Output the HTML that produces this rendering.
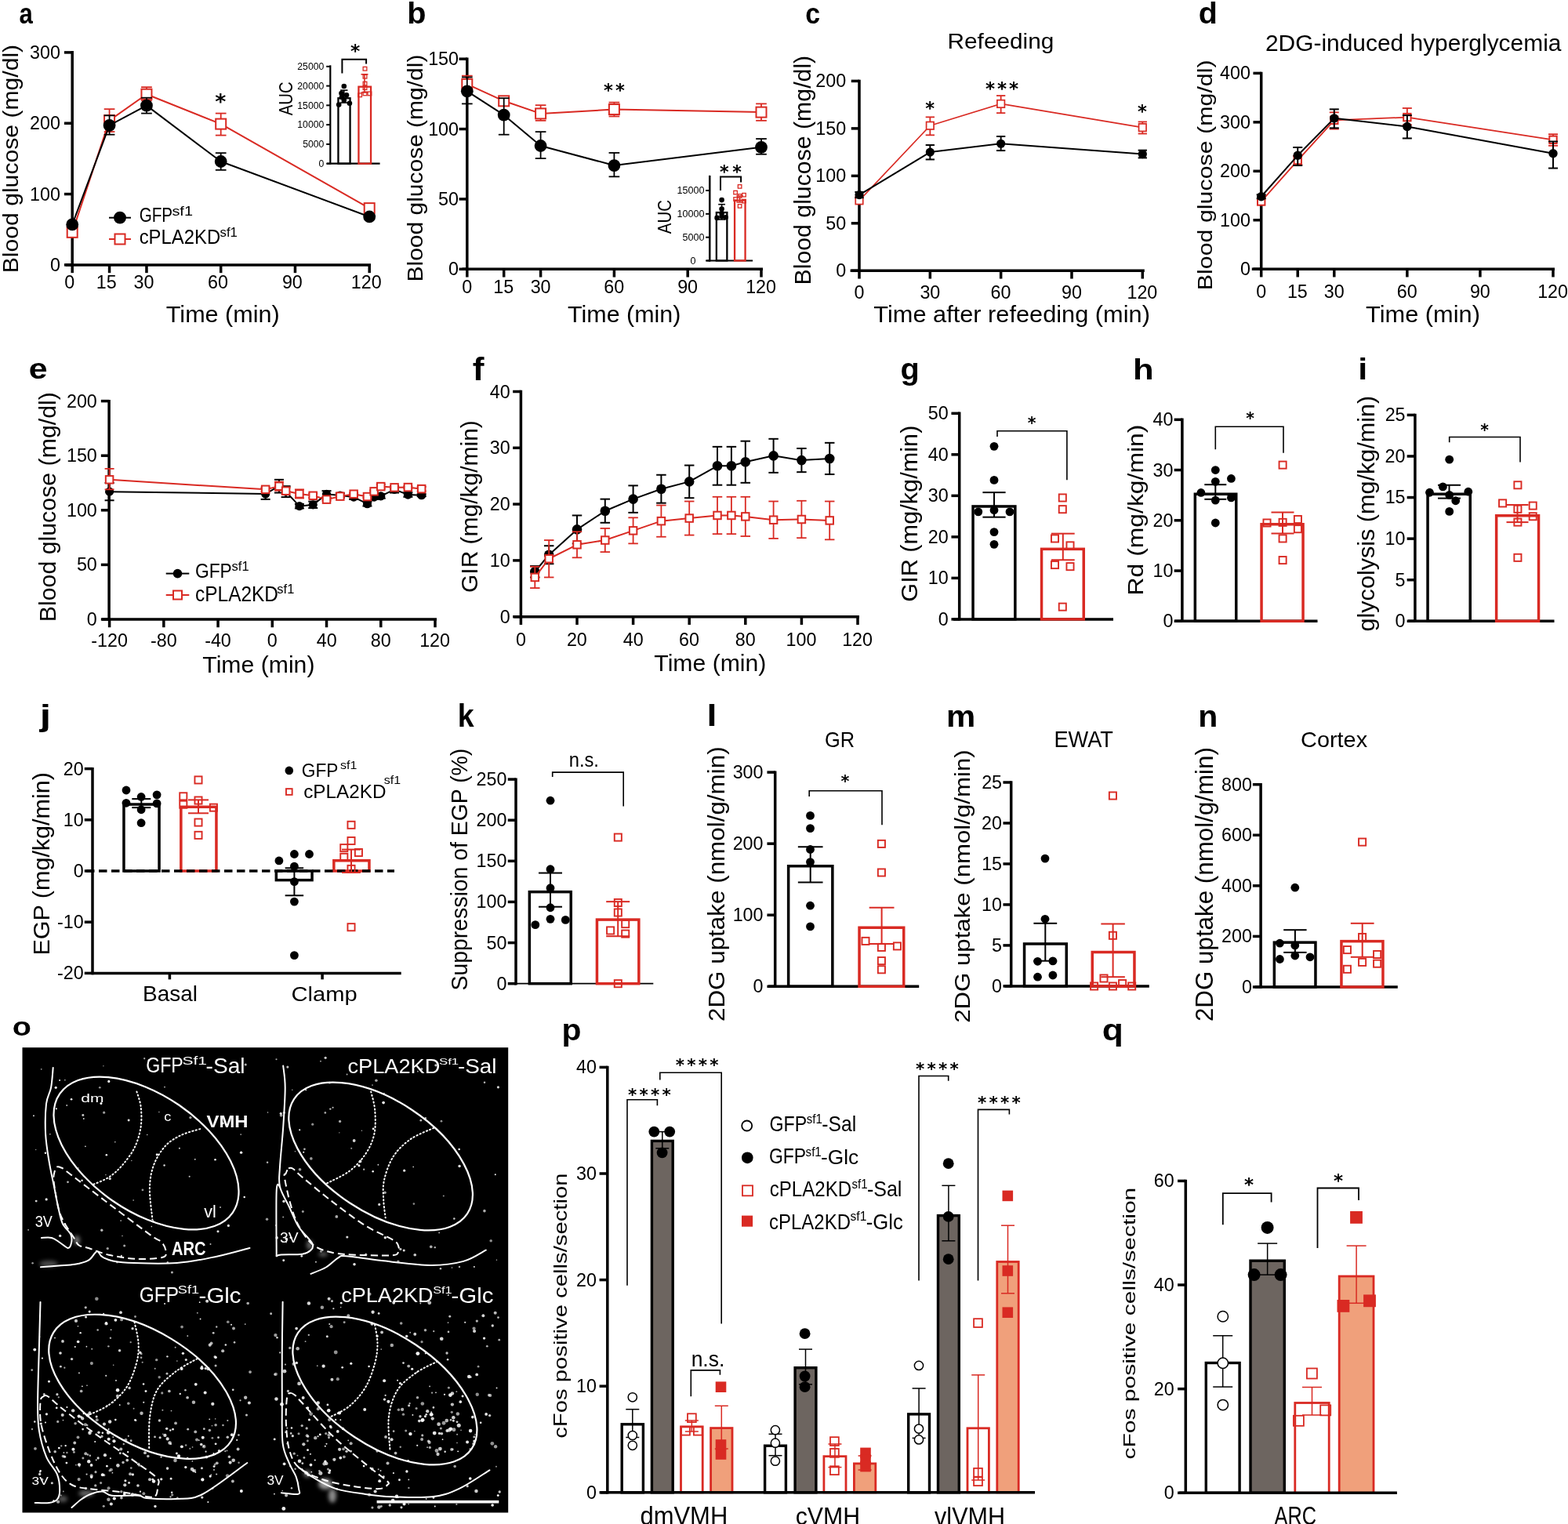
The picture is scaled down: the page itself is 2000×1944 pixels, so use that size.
<!DOCTYPE html>
<html><head><meta charset="utf-8"><title>Figure</title>
<style>html,body{margin:0;padding:0;background:#fff;}svg{display:block;}</style></head>
<body><svg xmlns="http://www.w3.org/2000/svg" width="2000" height="1944" viewBox="0 0 2000 1944">
<defs><filter id="bl" x="-100%" y="-100%" width="300%" height="300%"><feGaussianBlur stdDeviation="2.5"/></filter></defs>
<rect width="2000" height="1944" fill="#fff"/>
<text x="24.59" y="30.24" font-family="'Liberation Sans', Arial, sans-serif" font-size="36.69" font-weight="bold" fill="#000" textLength="17.31" lengthAdjust="spacingAndGlyphs">a</text>
<line x1="92.2" y1="65.1" x2="92.2" y2="339.6" stroke="#000" stroke-width="3.5" stroke-linecap="butt"/>
<line x1="81.95" y1="337.9" x2="92.2" y2="337.9" stroke="#000" stroke-width="3.5" stroke-linecap="butt"/>
<text x="63.95" y="345.92" font-family="'Liberation Sans', Arial, sans-serif" font-size="23.3" fill="#000">0</text>
<line x1="81.95" y1="247.57" x2="92.2" y2="247.57" stroke="#000" stroke-width="3.5" stroke-linecap="butt"/>
<text x="38.04" y="255.59" font-family="'Liberation Sans', Arial, sans-serif" font-size="23.3" fill="#000">100</text>
<line x1="81.95" y1="157.23" x2="92.2" y2="157.23" stroke="#000" stroke-width="3.5" stroke-linecap="butt"/>
<text x="38.04" y="165.25" font-family="'Liberation Sans', Arial, sans-serif" font-size="23.3" fill="#000">200</text>
<line x1="81.95" y1="66.9" x2="92.2" y2="66.9" stroke="#000" stroke-width="3.5" stroke-linecap="butt"/>
<text x="38.04" y="74.92" font-family="'Liberation Sans', Arial, sans-serif" font-size="23.3" fill="#000">300</text>
<line x1="83.8" y1="337.9" x2="473" y2="337.9" stroke="#000" stroke-width="3.5" stroke-linecap="butt"/>
<line x1="92.2" y1="337.9" x2="92.2" y2="348.15" stroke="#000" stroke-width="3.5" stroke-linecap="butt"/>
<text x="82.22" y="368.47" font-family="'Liberation Sans', Arial, sans-serif" font-size="23.3" fill="#000">0</text>
<line x1="139.57" y1="337.9" x2="139.57" y2="348.15" stroke="#000" stroke-width="3.5" stroke-linecap="butt"/>
<text x="122.72" y="368.23" font-family="'Liberation Sans', Arial, sans-serif" font-size="23.3" fill="#000">15</text>
<line x1="186.95" y1="337.9" x2="186.95" y2="348.15" stroke="#000" stroke-width="3.5" stroke-linecap="butt"/>
<text x="170.5" y="368.47" font-family="'Liberation Sans', Arial, sans-serif" font-size="23.3" fill="#000">30</text>
<line x1="281.7" y1="337.9" x2="281.7" y2="348.15" stroke="#000" stroke-width="3.5" stroke-linecap="butt"/>
<text x="265.11" y="368.47" font-family="'Liberation Sans', Arial, sans-serif" font-size="23.3" fill="#000">60</text>
<line x1="376.45" y1="337.9" x2="376.45" y2="348.15" stroke="#000" stroke-width="3.5" stroke-linecap="butt"/>
<text x="359.9" y="368.47" font-family="'Liberation Sans', Arial, sans-serif" font-size="23.3" fill="#000">90</text>
<line x1="471.2" y1="337.9" x2="471.2" y2="348.15" stroke="#000" stroke-width="3.5" stroke-linecap="butt"/>
<text x="447.83" y="368.47" font-family="'Liberation Sans', Arial, sans-serif" font-size="23.3" fill="#000">120</text>
<line x1="139.57" y1="168.07" x2="139.57" y2="139.17" stroke="#d92a23" stroke-width="1.8" stroke-linecap="butt"/>
<line x1="132.72" y1="168.07" x2="146.42" y2="168.07" stroke="#d92a23" stroke-width="1.8" stroke-linecap="butt"/>
<line x1="132.72" y1="139.17" x2="146.42" y2="139.17" stroke="#d92a23" stroke-width="1.8" stroke-linecap="butt"/>
<line x1="186.95" y1="128.33" x2="186.95" y2="111.16" stroke="#d92a23" stroke-width="1.8" stroke-linecap="butt"/>
<line x1="180.1" y1="128.33" x2="193.8" y2="128.33" stroke="#d92a23" stroke-width="1.8" stroke-linecap="butt"/>
<line x1="180.1" y1="111.16" x2="193.8" y2="111.16" stroke="#d92a23" stroke-width="1.8" stroke-linecap="butt"/>
<line x1="281.7" y1="172.59" x2="281.7" y2="144.59" stroke="#d92a23" stroke-width="1.8" stroke-linecap="butt"/>
<line x1="274.85" y1="172.59" x2="288.55" y2="172.59" stroke="#d92a23" stroke-width="1.8" stroke-linecap="butt"/>
<line x1="274.85" y1="144.59" x2="288.55" y2="144.59" stroke="#d92a23" stroke-width="1.8" stroke-linecap="butt"/>
<polyline points="92.2,296.35 139.57,153.62 186.95,120.2 281.7,158.14 471.2,265.63" fill="none" stroke="#d92a23" stroke-width="2" stroke-linejoin="round"/>
<rect x="85.7" y="289.85" width="13" height="13" fill="#fff" stroke="#d92a23" stroke-width="2"/>
<rect x="133.07" y="147.12" width="13" height="13" fill="#fff" stroke="#d92a23" stroke-width="2"/>
<rect x="180.45" y="113.7" width="13" height="13" fill="#fff" stroke="#d92a23" stroke-width="2"/>
<rect x="275.2" y="151.64" width="13" height="13" fill="#fff" stroke="#d92a23" stroke-width="2"/>
<rect x="464.7" y="259.13" width="13" height="13" fill="#fff" stroke="#d92a23" stroke-width="2"/>
<line x1="139.57" y1="171.69" x2="139.57" y2="147.3" stroke="#000" stroke-width="1.8" stroke-linecap="butt"/>
<line x1="132.72" y1="171.69" x2="146.42" y2="171.69" stroke="#000" stroke-width="1.8" stroke-linecap="butt"/>
<line x1="132.72" y1="147.3" x2="146.42" y2="147.3" stroke="#000" stroke-width="1.8" stroke-linecap="butt"/>
<line x1="186.95" y1="144.59" x2="186.95" y2="124.71" stroke="#000" stroke-width="1.8" stroke-linecap="butt"/>
<line x1="180.1" y1="144.59" x2="193.8" y2="144.59" stroke="#000" stroke-width="1.8" stroke-linecap="butt"/>
<line x1="180.1" y1="124.71" x2="193.8" y2="124.71" stroke="#000" stroke-width="1.8" stroke-linecap="butt"/>
<line x1="281.7" y1="216.85" x2="281.7" y2="195.17" stroke="#000" stroke-width="1.8" stroke-linecap="butt"/>
<line x1="274.85" y1="216.85" x2="288.55" y2="216.85" stroke="#000" stroke-width="1.8" stroke-linecap="butt"/>
<line x1="274.85" y1="195.17" x2="288.55" y2="195.17" stroke="#000" stroke-width="1.8" stroke-linecap="butt"/>
<polyline points="92.2,286.41 139.57,159.94 186.95,134.65 281.7,206.01 471.2,276.47" fill="none" stroke="#000" stroke-width="2" stroke-linejoin="round"/>
<circle cx="92.2" cy="286.41" r="7.9" fill="#000" stroke="none" stroke-width="0"/>
<circle cx="139.57" cy="159.94" r="7.9" fill="#000" stroke="none" stroke-width="0"/>
<circle cx="186.95" cy="134.65" r="7.9" fill="#000" stroke="none" stroke-width="0"/>
<circle cx="281.7" cy="206.01" r="7.9" fill="#000" stroke="none" stroke-width="0"/>
<circle cx="471.2" cy="276.47" r="7.9" fill="#000" stroke="none" stroke-width="0"/>
<text x="274.36" y="139.48" font-family="'DejaVu Sans', sans-serif" font-size="26.92" font-weight="bold" fill="#000">*</text>
<text x="211.82" y="411.09" font-family="'Liberation Sans', Arial, sans-serif" font-size="29.52" fill="#000" textLength="144.96" lengthAdjust="spacingAndGlyphs">Time (min)</text>
<text transform="translate(23.43 348.27) rotate(-90)" x="0" y="0" font-family="'Liberation Sans', Arial, sans-serif" font-size="26.82" fill="#000" textLength="291.44" lengthAdjust="spacingAndGlyphs">Blood glucose (mg/dl)</text>
<line x1="139" y1="277.7" x2="167" y2="277.7" stroke="#000" stroke-width="2" stroke-linecap="butt"/>
<circle cx="153" cy="277.7" r="7.9" fill="#000" stroke="none" stroke-width="0"/>
<text x="177.66" y="283.25" font-family="'Liberation Sans', Arial, sans-serif" font-size="25.42" fill="#000" textLength="42.43" lengthAdjust="spacingAndGlyphs">GFP</text>
<text x="219.45" y="274.83" font-family="'Liberation Sans', Arial, sans-serif" font-size="17.04" fill="#000" textLength="26.52" lengthAdjust="spacingAndGlyphs">sf1</text>
<line x1="139" y1="305" x2="167" y2="305" stroke="#d92a23" stroke-width="2" stroke-linecap="butt"/>
<rect x="146.5" y="298.5" width="13" height="13" fill="#fff" stroke="#d92a23" stroke-width="2"/>
<text x="177.69" y="310.74" font-family="'Liberation Sans', Arial, sans-serif" font-size="26.13" fill="#000" textLength="103.46" lengthAdjust="spacingAndGlyphs">cPLA2KD</text>
<text x="280.54" y="302.33" font-family="'Liberation Sans', Arial, sans-serif" font-size="17.04" fill="#000" textLength="22.28" lengthAdjust="spacingAndGlyphs">sf1</text>
<line x1="421.3" y1="83.3" x2="421.3" y2="209.7" stroke="#000" stroke-width="2.2" stroke-linecap="butt"/>
<line x1="416.2" y1="208.7" x2="421.3" y2="208.7" stroke="#000" stroke-width="2" stroke-linecap="butt"/>
<text x="406.49" y="212.9" font-family="'Liberation Sans', Arial, sans-serif" font-size="12.2" fill="#000">0</text>
<line x1="416.2" y1="183.92" x2="421.3" y2="183.92" stroke="#000" stroke-width="2" stroke-linecap="butt"/>
<text x="386.14" y="188.12" font-family="'Liberation Sans', Arial, sans-serif" font-size="12.2" fill="#000">5000</text>
<line x1="416.2" y1="159.14" x2="421.3" y2="159.14" stroke="#000" stroke-width="2" stroke-linecap="butt"/>
<text x="379.35" y="163.34" font-family="'Liberation Sans', Arial, sans-serif" font-size="12.2" fill="#000">10000</text>
<line x1="416.2" y1="134.36" x2="421.3" y2="134.36" stroke="#000" stroke-width="2" stroke-linecap="butt"/>
<text x="379.35" y="138.56" font-family="'Liberation Sans', Arial, sans-serif" font-size="12.2" fill="#000">15000</text>
<line x1="416.2" y1="109.58" x2="421.3" y2="109.58" stroke="#000" stroke-width="2" stroke-linecap="butt"/>
<text x="379.35" y="113.78" font-family="'Liberation Sans', Arial, sans-serif" font-size="12.2" fill="#000">20000</text>
<line x1="416.2" y1="84.8" x2="421.3" y2="84.8" stroke="#000" stroke-width="2" stroke-linecap="butt"/>
<text x="379.35" y="89" font-family="'Liberation Sans', Arial, sans-serif" font-size="12.2" fill="#000">25000</text>
<line x1="417" y1="208.7" x2="484.6" y2="208.7" stroke="#000" stroke-width="2.2" stroke-linecap="butt"/>
<rect x="431.45" y="125.25" width="15.1" height="83.45" fill="none" stroke="#000" stroke-width="2.3"/>
<rect x="457.45" y="110.65" width="15.6" height="98.05" fill="none" stroke="#d92a23" stroke-width="2.3"/>
<line x1="438.8" y1="131" x2="438.8" y2="115.1" stroke="#000" stroke-width="1.6" stroke-linecap="butt"/>
<line x1="434.1" y1="131" x2="443.5" y2="131" stroke="#000" stroke-width="1.6" stroke-linecap="butt"/>
<line x1="434.1" y1="115.1" x2="443.5" y2="115.1" stroke="#000" stroke-width="1.6" stroke-linecap="butt"/>
<line x1="465" y1="118" x2="465" y2="94.8" stroke="#d92a23" stroke-width="1.6" stroke-linecap="butt"/>
<line x1="460.5" y1="118" x2="469.5" y2="118" stroke="#d92a23" stroke-width="1.6" stroke-linecap="butt"/>
<line x1="460.5" y1="94.8" x2="469.5" y2="94.8" stroke="#d92a23" stroke-width="1.6" stroke-linecap="butt"/>
<circle cx="438.8" cy="110" r="3.3" fill="#000" stroke="none" stroke-width="0"/>
<circle cx="435.5" cy="119" r="3.3" fill="#000" stroke="none" stroke-width="0"/>
<circle cx="442" cy="121.3" r="3.3" fill="#000" stroke="none" stroke-width="0"/>
<circle cx="438.8" cy="127.9" r="3.3" fill="#000" stroke="none" stroke-width="0"/>
<circle cx="432.2" cy="133.6" r="3.3" fill="#000" stroke="none" stroke-width="0"/>
<circle cx="445.9" cy="131.7" r="3.3" fill="#000" stroke="none" stroke-width="0"/>
<circle cx="436" cy="124" r="3.3" fill="#000" stroke="none" stroke-width="0"/>
<rect x="463.15" y="85.35" width="4.7" height="4.7" fill="none" stroke="#d92a23" stroke-width="1.3"/>
<rect x="463.15" y="95.35" width="4.7" height="4.7" fill="none" stroke="#d92a23" stroke-width="1.3"/>
<rect x="463.15" y="104.25" width="4.7" height="4.7" fill="none" stroke="#d92a23" stroke-width="1.3"/>
<rect x="456.75" y="118.95" width="4.7" height="4.7" fill="none" stroke="#d92a23" stroke-width="1.3"/>
<rect x="469.05" y="117.05" width="4.7" height="4.7" fill="none" stroke="#d92a23" stroke-width="1.3"/>
<rect x="463.15" y="117.05" width="4.7" height="4.7" fill="none" stroke="#d92a23" stroke-width="1.3"/>
<rect x="463.15" y="109.65" width="4.7" height="4.7" fill="none" stroke="#d92a23" stroke-width="1.3"/>
<polyline points="436.4,93.4 436.4,75.7 467.1,75.7 467.1,81.6" fill="none" stroke="#000" stroke-width="2" stroke-linejoin="miter"/>
<text x="447.06" y="73.02" font-family="'DejaVu Sans', sans-serif" font-size="23.47" font-weight="bold" fill="#000">*</text>
<text transform="translate(372.86 147.34) rotate(-90)" x="0" y="0" font-family="'Liberation Sans', Arial, sans-serif" font-size="24.72" fill="#000" textLength="42.91" lengthAdjust="spacingAndGlyphs">AUC</text>
<text x="519.38" y="30.23" font-family="'Liberation Sans', Arial, sans-serif" font-size="38.26" font-weight="bold" fill="#000" textLength="24.24" lengthAdjust="spacingAndGlyphs">b</text>
<line x1="595.8" y1="73.6" x2="595.8" y2="345" stroke="#000" stroke-width="3.5" stroke-linecap="butt"/>
<line x1="585.55" y1="343.3" x2="595.8" y2="343.3" stroke="#000" stroke-width="3.5" stroke-linecap="butt"/>
<text x="572.05" y="351.32" font-family="'Liberation Sans', Arial, sans-serif" font-size="23.3" fill="#000">0</text>
<line x1="585.55" y1="253.93" x2="595.8" y2="253.93" stroke="#000" stroke-width="3.5" stroke-linecap="butt"/>
<text x="559.09" y="261.95" font-family="'Liberation Sans', Arial, sans-serif" font-size="23.3" fill="#000">50</text>
<line x1="585.55" y1="164.57" x2="595.8" y2="164.57" stroke="#000" stroke-width="3.5" stroke-linecap="butt"/>
<text x="546.14" y="172.59" font-family="'Liberation Sans', Arial, sans-serif" font-size="23.3" fill="#000">100</text>
<line x1="585.55" y1="75.2" x2="595.8" y2="75.2" stroke="#000" stroke-width="3.5" stroke-linecap="butt"/>
<text x="546.14" y="83.22" font-family="'Liberation Sans', Arial, sans-serif" font-size="23.3" fill="#000">150</text>
<line x1="589.5" y1="343.3" x2="973" y2="343.3" stroke="#000" stroke-width="3.5" stroke-linecap="butt"/>
<line x1="595.8" y1="343.3" x2="595.8" y2="353.55" stroke="#000" stroke-width="3.5" stroke-linecap="butt"/>
<text x="589.32" y="373.77" font-family="'Liberation Sans', Arial, sans-serif" font-size="23.3" fill="#000">0</text>
<line x1="642.7" y1="343.3" x2="642.7" y2="353.55" stroke="#000" stroke-width="3.5" stroke-linecap="butt"/>
<text x="629.34" y="373.53" font-family="'Liberation Sans', Arial, sans-serif" font-size="23.3" fill="#000">15</text>
<line x1="689.6" y1="343.3" x2="689.6" y2="353.55" stroke="#000" stroke-width="3.5" stroke-linecap="butt"/>
<text x="676.65" y="373.77" font-family="'Liberation Sans', Arial, sans-serif" font-size="23.3" fill="#000">30</text>
<line x1="783.4" y1="343.3" x2="783.4" y2="353.55" stroke="#000" stroke-width="3.5" stroke-linecap="butt"/>
<text x="770.31" y="373.77" font-family="'Liberation Sans', Arial, sans-serif" font-size="23.3" fill="#000">60</text>
<line x1="877.2" y1="343.3" x2="877.2" y2="353.55" stroke="#000" stroke-width="3.5" stroke-linecap="butt"/>
<text x="864.15" y="373.77" font-family="'Liberation Sans', Arial, sans-serif" font-size="23.3" fill="#000">90</text>
<line x1="971" y1="343.3" x2="971" y2="353.55" stroke="#000" stroke-width="3.5" stroke-linecap="butt"/>
<text x="951.13" y="373.77" font-family="'Liberation Sans', Arial, sans-serif" font-size="23.3" fill="#000">120</text>
<line x1="595.8" y1="116.31" x2="595.8" y2="96.65" stroke="#d92a23" stroke-width="1.8" stroke-linecap="butt"/>
<line x1="588.95" y1="116.31" x2="602.65" y2="116.31" stroke="#d92a23" stroke-width="1.8" stroke-linecap="butt"/>
<line x1="588.95" y1="96.65" x2="602.65" y2="96.65" stroke="#d92a23" stroke-width="1.8" stroke-linecap="butt"/>
<line x1="642.7" y1="134.18" x2="642.7" y2="123.46" stroke="#d92a23" stroke-width="1.8" stroke-linecap="butt"/>
<line x1="635.85" y1="134.18" x2="649.55" y2="134.18" stroke="#d92a23" stroke-width="1.8" stroke-linecap="butt"/>
<line x1="635.85" y1="123.46" x2="649.55" y2="123.46" stroke="#d92a23" stroke-width="1.8" stroke-linecap="butt"/>
<line x1="689.6" y1="153.84" x2="689.6" y2="134.18" stroke="#d92a23" stroke-width="1.8" stroke-linecap="butt"/>
<line x1="682.75" y1="153.84" x2="696.45" y2="153.84" stroke="#d92a23" stroke-width="1.8" stroke-linecap="butt"/>
<line x1="682.75" y1="134.18" x2="696.45" y2="134.18" stroke="#d92a23" stroke-width="1.8" stroke-linecap="butt"/>
<line x1="783.4" y1="148.48" x2="783.4" y2="130.61" stroke="#d92a23" stroke-width="1.8" stroke-linecap="butt"/>
<line x1="776.55" y1="148.48" x2="790.25" y2="148.48" stroke="#d92a23" stroke-width="1.8" stroke-linecap="butt"/>
<line x1="776.55" y1="130.61" x2="790.25" y2="130.61" stroke="#d92a23" stroke-width="1.8" stroke-linecap="butt"/>
<line x1="971" y1="153.84" x2="971" y2="132.39" stroke="#d92a23" stroke-width="1.8" stroke-linecap="butt"/>
<line x1="964.15" y1="153.84" x2="977.85" y2="153.84" stroke="#d92a23" stroke-width="1.8" stroke-linecap="butt"/>
<line x1="964.15" y1="132.39" x2="977.85" y2="132.39" stroke="#d92a23" stroke-width="1.8" stroke-linecap="butt"/>
<polyline points="595.8,107.37 642.7,128.82 689.6,144.91 783.4,139.54 971,143.12" fill="none" stroke="#d92a23" stroke-width="2" stroke-linejoin="round"/>
<rect x="589.3" y="100.87" width="13" height="13" fill="#fff" stroke="#d92a23" stroke-width="2"/>
<rect x="636.2" y="122.32" width="13" height="13" fill="#fff" stroke="#d92a23" stroke-width="2"/>
<rect x="683.1" y="138.41" width="13" height="13" fill="#fff" stroke="#d92a23" stroke-width="2"/>
<rect x="776.9" y="133.04" width="13" height="13" fill="#fff" stroke="#d92a23" stroke-width="2"/>
<rect x="964.5" y="136.62" width="13" height="13" fill="#fff" stroke="#d92a23" stroke-width="2"/>
<line x1="595.8" y1="132.39" x2="595.8" y2="98.44" stroke="#000" stroke-width="1.8" stroke-linecap="butt"/>
<line x1="588.95" y1="132.39" x2="602.65" y2="132.39" stroke="#000" stroke-width="1.8" stroke-linecap="butt"/>
<line x1="588.95" y1="98.44" x2="602.65" y2="98.44" stroke="#000" stroke-width="1.8" stroke-linecap="butt"/>
<line x1="642.7" y1="171.72" x2="642.7" y2="125.25" stroke="#000" stroke-width="1.8" stroke-linecap="butt"/>
<line x1="635.85" y1="171.72" x2="649.55" y2="171.72" stroke="#000" stroke-width="1.8" stroke-linecap="butt"/>
<line x1="635.85" y1="125.25" x2="649.55" y2="125.25" stroke="#000" stroke-width="1.8" stroke-linecap="butt"/>
<line x1="689.6" y1="202.1" x2="689.6" y2="168.14" stroke="#000" stroke-width="1.8" stroke-linecap="butt"/>
<line x1="682.75" y1="202.1" x2="696.45" y2="202.1" stroke="#000" stroke-width="1.8" stroke-linecap="butt"/>
<line x1="682.75" y1="168.14" x2="696.45" y2="168.14" stroke="#000" stroke-width="1.8" stroke-linecap="butt"/>
<line x1="783.4" y1="225.34" x2="783.4" y2="194.95" stroke="#000" stroke-width="1.8" stroke-linecap="butt"/>
<line x1="776.55" y1="225.34" x2="790.25" y2="225.34" stroke="#000" stroke-width="1.8" stroke-linecap="butt"/>
<line x1="776.55" y1="194.95" x2="790.25" y2="194.95" stroke="#000" stroke-width="1.8" stroke-linecap="butt"/>
<line x1="971" y1="196.74" x2="971" y2="177.08" stroke="#000" stroke-width="1.8" stroke-linecap="butt"/>
<line x1="964.15" y1="196.74" x2="977.85" y2="196.74" stroke="#000" stroke-width="1.8" stroke-linecap="butt"/>
<line x1="964.15" y1="177.08" x2="977.85" y2="177.08" stroke="#000" stroke-width="1.8" stroke-linecap="butt"/>
<polyline points="595.8,116.31 642.7,146.69 689.6,186.01 783.4,211.04 971,187.8" fill="none" stroke="#000" stroke-width="2" stroke-linejoin="round"/>
<circle cx="595.8" cy="116.31" r="7.9" fill="#000" stroke="none" stroke-width="0"/>
<circle cx="642.7" cy="146.69" r="7.9" fill="#000" stroke="none" stroke-width="0"/>
<circle cx="689.6" cy="186.01" r="7.9" fill="#000" stroke="none" stroke-width="0"/>
<circle cx="783.4" cy="211.04" r="7.9" fill="#000" stroke="none" stroke-width="0"/>
<circle cx="971" cy="187.8" r="7.9" fill="#000" stroke="none" stroke-width="0"/>
<text x="770.09" y="122.78" font-family="'DejaVu Sans', sans-serif" font-size="22.61" font-weight="bold" fill="#000">*</text>
<text x="785.09" y="122.78" font-family="'DejaVu Sans', sans-serif" font-size="22.61" font-weight="bold" fill="#000">*</text>
<text x="724.12" y="411.09" font-family="'Liberation Sans', Arial, sans-serif" font-size="29.52" fill="#000" textLength="144.25" lengthAdjust="spacingAndGlyphs">Time (min)</text>
<text transform="translate(539.21 359.46) rotate(-90)" x="0" y="0" font-family="'Liberation Sans', Arial, sans-serif" font-size="27.89" fill="#000" textLength="289.82" lengthAdjust="spacingAndGlyphs">Blood glucose (mg/dl)</text>
<line x1="905.2" y1="223.9" x2="905.2" y2="333.5" stroke="#000" stroke-width="2.2" stroke-linecap="butt"/>
<line x1="900.1" y1="302.67" x2="905.2" y2="302.67" stroke="#000" stroke-width="2" stroke-linecap="butt"/>
<text x="870.46" y="307" font-family="'Liberation Sans', Arial, sans-serif" font-size="12.6" fill="#000">5000</text>
<line x1="900.1" y1="272.83" x2="905.2" y2="272.83" stroke="#000" stroke-width="2" stroke-linecap="butt"/>
<text x="863.45" y="277.17" font-family="'Liberation Sans', Arial, sans-serif" font-size="12.6" fill="#000">10000</text>
<line x1="900.1" y1="243" x2="905.2" y2="243" stroke="#000" stroke-width="2" stroke-linecap="butt"/>
<text x="863.45" y="247.34" font-family="'Liberation Sans', Arial, sans-serif" font-size="12.6" fill="#000">15000</text>
<line x1="905.2" y1="223.9" x2="905.2" y2="333.5" stroke="#000" stroke-width="2.2" stroke-linecap="butt"/>
<line x1="900.1" y1="332.5" x2="905.2" y2="332.5" stroke="#000" stroke-width="2" stroke-linecap="butt"/>
<text x="880.48" y="336.84" font-family="'Liberation Sans', Arial, sans-serif" font-size="12.6" fill="#000">0</text>
<line x1="901.3" y1="332.5" x2="960.1" y2="332.5" stroke="#000" stroke-width="2.2" stroke-linecap="butt"/>
<rect x="913.85" y="271.05" width="13.5" height="61.45" fill="none" stroke="#000" stroke-width="2.3"/>
<rect x="937.05" y="255.55" width="13.5" height="76.95" fill="none" stroke="#d92a23" stroke-width="2.3"/>
<line x1="920.6" y1="280" x2="920.6" y2="260.7" stroke="#000" stroke-width="1.6" stroke-linecap="butt"/>
<line x1="916.2" y1="280" x2="925" y2="280" stroke="#000" stroke-width="1.6" stroke-linecap="butt"/>
<line x1="916.2" y1="260.7" x2="925" y2="260.7" stroke="#000" stroke-width="1.6" stroke-linecap="butt"/>
<line x1="943.6" y1="258" x2="943.6" y2="250" stroke="#d92a23" stroke-width="1.6" stroke-linecap="butt"/>
<line x1="939.35" y1="258" x2="947.85" y2="258" stroke="#d92a23" stroke-width="1.6" stroke-linecap="butt"/>
<line x1="939.35" y1="250" x2="947.85" y2="250" stroke="#d92a23" stroke-width="1.6" stroke-linecap="butt"/>
<circle cx="920.6" cy="255.1" r="3.3" fill="#000" stroke="none" stroke-width="0"/>
<circle cx="920.6" cy="266.5" r="3.3" fill="#000" stroke="none" stroke-width="0"/>
<circle cx="920.6" cy="272" r="3.3" fill="#000" stroke="none" stroke-width="0"/>
<circle cx="914.6" cy="277.9" r="3.3" fill="#000" stroke="none" stroke-width="0"/>
<circle cx="925.6" cy="277.2" r="3.3" fill="#000" stroke="none" stroke-width="0"/>
<circle cx="920.6" cy="276" r="3.3" fill="#000" stroke="none" stroke-width="0"/>
<rect x="941.35" y="235.65" width="4.5" height="4.5" fill="none" stroke="#d92a23" stroke-width="1.3"/>
<rect x="935.85" y="243.35" width="4.5" height="4.5" fill="none" stroke="#d92a23" stroke-width="1.3"/>
<rect x="946.75" y="246.45" width="4.5" height="4.5" fill="none" stroke="#d92a23" stroke-width="1.3"/>
<rect x="941.35" y="247.75" width="4.5" height="4.5" fill="none" stroke="#d92a23" stroke-width="1.3"/>
<rect x="935.85" y="251.75" width="4.5" height="4.5" fill="none" stroke="#d92a23" stroke-width="1.3"/>
<rect x="946.75" y="254.35" width="4.5" height="4.5" fill="none" stroke="#d92a23" stroke-width="1.3"/>
<rect x="941.35" y="260.65" width="4.5" height="4.5" fill="none" stroke="#d92a23" stroke-width="1.3"/>
<polyline points="919,243 919,225.4 945.1,225.4 945.1,232.4" fill="none" stroke="#000" stroke-width="2" stroke-linejoin="miter"/>
<text x="918.05" y="227.46" font-family="'DejaVu Sans', sans-serif" font-size="22.18" font-weight="bold" fill="#000">*</text>
<text x="934.15" y="227.46" font-family="'DejaVu Sans', sans-serif" font-size="22.18" font-weight="bold" fill="#000">*</text>
<text transform="translate(855.87 298.24) rotate(-90)" x="0" y="0" font-family="'Liberation Sans', Arial, sans-serif" font-size="23.87" fill="#000" textLength="43.12" lengthAdjust="spacingAndGlyphs">AUC</text>
<text x="1027.18" y="30.24" font-family="'Liberation Sans', Arial, sans-serif" font-size="36.69" font-weight="bold" fill="#000" textLength="18.81" lengthAdjust="spacingAndGlyphs">c</text>
<text x="1208.56" y="61.9" font-family="'Liberation Sans', Arial, sans-serif" font-size="27.46" fill="#000" textLength="135.76" lengthAdjust="spacingAndGlyphs">Refeeding</text>
<line x1="1096" y1="101.7" x2="1096" y2="347" stroke="#000" stroke-width="3.5" stroke-linecap="butt"/>
<line x1="1085.75" y1="345.3" x2="1096" y2="345.3" stroke="#000" stroke-width="3.5" stroke-linecap="butt"/>
<text x="1066.25" y="353.32" font-family="'Liberation Sans', Arial, sans-serif" font-size="23.3" fill="#000">0</text>
<line x1="1085.75" y1="284.82" x2="1096" y2="284.82" stroke="#000" stroke-width="3.5" stroke-linecap="butt"/>
<text x="1053.29" y="292.85" font-family="'Liberation Sans', Arial, sans-serif" font-size="23.3" fill="#000">50</text>
<line x1="1085.75" y1="224.35" x2="1096" y2="224.35" stroke="#000" stroke-width="3.5" stroke-linecap="butt"/>
<text x="1040.34" y="232.37" font-family="'Liberation Sans', Arial, sans-serif" font-size="23.3" fill="#000">100</text>
<line x1="1085.75" y1="163.88" x2="1096" y2="163.88" stroke="#000" stroke-width="3.5" stroke-linecap="butt"/>
<text x="1040.34" y="171.9" font-family="'Liberation Sans', Arial, sans-serif" font-size="23.3" fill="#000">150</text>
<line x1="1085.75" y1="103.4" x2="1096" y2="103.4" stroke="#000" stroke-width="3.5" stroke-linecap="butt"/>
<text x="1040.34" y="111.42" font-family="'Liberation Sans', Arial, sans-serif" font-size="23.3" fill="#000">200</text>
<line x1="1084.6" y1="345.3" x2="1459.8" y2="345.3" stroke="#000" stroke-width="3.5" stroke-linecap="butt"/>
<line x1="1096" y1="345.3" x2="1096" y2="355.55" stroke="#000" stroke-width="3.5" stroke-linecap="butt"/>
<text x="1089.52" y="380.77" font-family="'Liberation Sans', Arial, sans-serif" font-size="23.3" fill="#000">0</text>
<line x1="1186.33" y1="345.3" x2="1186.33" y2="355.55" stroke="#000" stroke-width="3.5" stroke-linecap="butt"/>
<text x="1173.38" y="380.77" font-family="'Liberation Sans', Arial, sans-serif" font-size="23.3" fill="#000">30</text>
<line x1="1276.65" y1="345.3" x2="1276.65" y2="355.55" stroke="#000" stroke-width="3.5" stroke-linecap="butt"/>
<text x="1263.56" y="380.77" font-family="'Liberation Sans', Arial, sans-serif" font-size="23.3" fill="#000">60</text>
<line x1="1366.97" y1="345.3" x2="1366.97" y2="355.55" stroke="#000" stroke-width="3.5" stroke-linecap="butt"/>
<text x="1353.93" y="380.77" font-family="'Liberation Sans', Arial, sans-serif" font-size="23.3" fill="#000">90</text>
<line x1="1457.3" y1="345.3" x2="1457.3" y2="355.55" stroke="#000" stroke-width="3.5" stroke-linecap="butt"/>
<text x="1437.43" y="380.77" font-family="'Liberation Sans', Arial, sans-serif" font-size="23.3" fill="#000">120</text>
<line x1="1186.33" y1="172.34" x2="1186.33" y2="149.36" stroke="#d92a23" stroke-width="1.8" stroke-linecap="butt"/>
<line x1="1180.67" y1="172.34" x2="1191.98" y2="172.34" stroke="#d92a23" stroke-width="1.8" stroke-linecap="butt"/>
<line x1="1180.67" y1="149.36" x2="1191.98" y2="149.36" stroke="#d92a23" stroke-width="1.8" stroke-linecap="butt"/>
<line x1="1276.65" y1="144.16" x2="1276.65" y2="122.03" stroke="#d92a23" stroke-width="1.8" stroke-linecap="butt"/>
<line x1="1271" y1="144.16" x2="1282.3" y2="144.16" stroke="#d92a23" stroke-width="1.8" stroke-linecap="butt"/>
<line x1="1271" y1="122.03" x2="1282.3" y2="122.03" stroke="#d92a23" stroke-width="1.8" stroke-linecap="butt"/>
<line x1="1457.3" y1="170.53" x2="1457.3" y2="155.41" stroke="#d92a23" stroke-width="1.8" stroke-linecap="butt"/>
<line x1="1451.65" y1="170.53" x2="1462.95" y2="170.53" stroke="#d92a23" stroke-width="1.8" stroke-linecap="butt"/>
<line x1="1451.65" y1="155.41" x2="1462.95" y2="155.41" stroke="#d92a23" stroke-width="1.8" stroke-linecap="butt"/>
<polyline points="1096,255.8 1186.33,160.25 1276.65,132.43 1457.3,162.67" fill="none" stroke="#d92a23" stroke-width="1.7" stroke-linejoin="round"/>
<rect x="1091.25" y="251.05" width="9.5" height="9.5" fill="#fff" stroke="#d92a23" stroke-width="1.7"/>
<rect x="1181.58" y="155.5" width="9.5" height="9.5" fill="#fff" stroke="#d92a23" stroke-width="1.7"/>
<rect x="1271.9" y="127.68" width="9.5" height="9.5" fill="#fff" stroke="#d92a23" stroke-width="1.7"/>
<rect x="1452.55" y="157.92" width="9.5" height="9.5" fill="#fff" stroke="#d92a23" stroke-width="1.7"/>
<line x1="1096" y1="252.17" x2="1096" y2="244.91" stroke="#000" stroke-width="2" stroke-linecap="butt"/>
<line x1="1090.35" y1="252.17" x2="1101.65" y2="252.17" stroke="#000" stroke-width="2" stroke-linecap="butt"/>
<line x1="1090.35" y1="244.91" x2="1101.65" y2="244.91" stroke="#000" stroke-width="2" stroke-linecap="butt"/>
<line x1="1186.33" y1="203.43" x2="1186.33" y2="185.04" stroke="#000" stroke-width="2" stroke-linecap="butt"/>
<line x1="1180.67" y1="203.43" x2="1191.98" y2="203.43" stroke="#000" stroke-width="2" stroke-linecap="butt"/>
<line x1="1180.67" y1="185.04" x2="1191.98" y2="185.04" stroke="#000" stroke-width="2" stroke-linecap="butt"/>
<line x1="1276.65" y1="192.06" x2="1276.65" y2="174.03" stroke="#000" stroke-width="2" stroke-linecap="butt"/>
<line x1="1271" y1="192.06" x2="1282.3" y2="192.06" stroke="#000" stroke-width="2" stroke-linecap="butt"/>
<line x1="1271" y1="174.03" x2="1282.3" y2="174.03" stroke="#000" stroke-width="2" stroke-linecap="butt"/>
<line x1="1457.3" y1="201.37" x2="1457.3" y2="191.69" stroke="#000" stroke-width="2" stroke-linecap="butt"/>
<line x1="1451.65" y1="201.37" x2="1462.95" y2="201.37" stroke="#000" stroke-width="2" stroke-linecap="butt"/>
<line x1="1451.65" y1="191.69" x2="1462.95" y2="191.69" stroke="#000" stroke-width="2" stroke-linecap="butt"/>
<polyline points="1096,248.54 1186.33,194.11 1276.65,183.23 1457.3,196.53" fill="none" stroke="#000" stroke-width="2" stroke-linejoin="round"/>
<circle cx="1096" cy="248.54" r="5.6" fill="#000" stroke="none" stroke-width="0"/>
<circle cx="1186.33" cy="194.11" r="5.6" fill="#000" stroke="none" stroke-width="0"/>
<circle cx="1276.65" cy="183.23" r="5.6" fill="#000" stroke="none" stroke-width="0"/>
<circle cx="1457.3" cy="196.53" r="5.6" fill="#000" stroke="none" stroke-width="0"/>
<text x="1180.29" y="145.78" font-family="'DejaVu Sans', sans-serif" font-size="22.61" font-weight="bold" fill="#000">*</text>
<text x="1256.97" y="121.2" font-family="'DejaVu Sans', sans-serif" font-size="23.04" font-weight="bold" fill="#000">*</text>
<text x="1271.97" y="121.2" font-family="'DejaVu Sans', sans-serif" font-size="23.04" font-weight="bold" fill="#000">*</text>
<text x="1286.97" y="121.2" font-family="'DejaVu Sans', sans-serif" font-size="23.04" font-weight="bold" fill="#000">*</text>
<text x="1451.09" y="149.78" font-family="'DejaVu Sans', sans-serif" font-size="22.61" font-weight="bold" fill="#000">*</text>
<text x="1114.31" y="411.08" font-family="'Liberation Sans', Arial, sans-serif" font-size="29.5" fill="#000" textLength="352.59" lengthAdjust="spacingAndGlyphs">Time after refeeding (min)</text>
<text transform="translate(1033.99 363.48) rotate(-90)" x="0" y="0" font-family="'Liberation Sans', Arial, sans-serif" font-size="28.97" fill="#000" textLength="292.66" lengthAdjust="spacingAndGlyphs">Blood glucose (mg/dl)</text>
<text x="1528.78" y="30.13" font-family="'Liberation Sans', Arial, sans-serif" font-size="37.86" font-weight="bold" fill="#000" textLength="24.12" lengthAdjust="spacingAndGlyphs">d</text>
<text x="1613.91" y="65.49" font-family="'Liberation Sans', Arial, sans-serif" font-size="29.93" fill="#000">2DG-induced hyperglycemia</text>
<line x1="1608.7" y1="91.7" x2="1608.7" y2="345" stroke="#000" stroke-width="3.5" stroke-linecap="butt"/>
<line x1="1598.45" y1="343.2" x2="1608.7" y2="343.2" stroke="#000" stroke-width="3.5" stroke-linecap="butt"/>
<text x="1581.95" y="351.22" font-family="'Liberation Sans', Arial, sans-serif" font-size="23.3" fill="#000">0</text>
<line x1="1598.45" y1="280.75" x2="1608.7" y2="280.75" stroke="#000" stroke-width="3.5" stroke-linecap="butt"/>
<text x="1556.04" y="288.77" font-family="'Liberation Sans', Arial, sans-serif" font-size="23.3" fill="#000">100</text>
<line x1="1598.45" y1="218.3" x2="1608.7" y2="218.3" stroke="#000" stroke-width="3.5" stroke-linecap="butt"/>
<text x="1556.04" y="226.32" font-family="'Liberation Sans', Arial, sans-serif" font-size="23.3" fill="#000">200</text>
<line x1="1598.45" y1="155.85" x2="1608.7" y2="155.85" stroke="#000" stroke-width="3.5" stroke-linecap="butt"/>
<text x="1556.04" y="163.87" font-family="'Liberation Sans', Arial, sans-serif" font-size="23.3" fill="#000">300</text>
<line x1="1598.45" y1="93.4" x2="1608.7" y2="93.4" stroke="#000" stroke-width="3.5" stroke-linecap="butt"/>
<text x="1556.04" y="101.42" font-family="'Liberation Sans', Arial, sans-serif" font-size="23.3" fill="#000">400</text>
<line x1="1596.8" y1="343.2" x2="1983" y2="343.2" stroke="#000" stroke-width="3.5" stroke-linecap="butt"/>
<line x1="1608.7" y1="343.2" x2="1608.7" y2="353.45" stroke="#000" stroke-width="3.5" stroke-linecap="butt"/>
<text x="1602.22" y="379.77" font-family="'Liberation Sans', Arial, sans-serif" font-size="23.3" fill="#000">0</text>
<line x1="1655.24" y1="343.2" x2="1655.24" y2="353.45" stroke="#000" stroke-width="3.5" stroke-linecap="butt"/>
<text x="1641.88" y="379.53" font-family="'Liberation Sans', Arial, sans-serif" font-size="23.3" fill="#000">15</text>
<line x1="1701.78" y1="343.2" x2="1701.78" y2="353.45" stroke="#000" stroke-width="3.5" stroke-linecap="butt"/>
<text x="1688.83" y="379.77" font-family="'Liberation Sans', Arial, sans-serif" font-size="23.3" fill="#000">30</text>
<line x1="1794.85" y1="343.2" x2="1794.85" y2="353.45" stroke="#000" stroke-width="3.5" stroke-linecap="butt"/>
<text x="1781.76" y="379.77" font-family="'Liberation Sans', Arial, sans-serif" font-size="23.3" fill="#000">60</text>
<line x1="1887.92" y1="343.2" x2="1887.92" y2="353.45" stroke="#000" stroke-width="3.5" stroke-linecap="butt"/>
<text x="1874.88" y="379.77" font-family="'Liberation Sans', Arial, sans-serif" font-size="23.3" fill="#000">90</text>
<line x1="1981" y1="343.2" x2="1981" y2="353.45" stroke="#000" stroke-width="3.5" stroke-linecap="butt"/>
<text x="1961.13" y="379.77" font-family="'Liberation Sans', Arial, sans-serif" font-size="23.3" fill="#000">120</text>
<line x1="1655.24" y1="210.18" x2="1655.24" y2="198.94" stroke="#d92a23" stroke-width="1.8" stroke-linecap="butt"/>
<line x1="1649.24" y1="210.18" x2="1661.24" y2="210.18" stroke="#d92a23" stroke-width="1.8" stroke-linecap="butt"/>
<line x1="1649.24" y1="198.94" x2="1661.24" y2="198.94" stroke="#d92a23" stroke-width="1.8" stroke-linecap="butt"/>
<line x1="1701.78" y1="164.59" x2="1701.78" y2="143.36" stroke="#d92a23" stroke-width="1.8" stroke-linecap="butt"/>
<line x1="1695.78" y1="164.59" x2="1707.78" y2="164.59" stroke="#d92a23" stroke-width="1.8" stroke-linecap="butt"/>
<line x1="1695.78" y1="143.36" x2="1707.78" y2="143.36" stroke="#d92a23" stroke-width="1.8" stroke-linecap="butt"/>
<line x1="1794.85" y1="159.28" x2="1794.85" y2="137.99" stroke="#d92a23" stroke-width="1.8" stroke-linecap="butt"/>
<line x1="1788.85" y1="159.28" x2="1800.85" y2="159.28" stroke="#d92a23" stroke-width="1.8" stroke-linecap="butt"/>
<line x1="1788.85" y1="137.99" x2="1800.85" y2="137.99" stroke="#d92a23" stroke-width="1.8" stroke-linecap="butt"/>
<line x1="1981" y1="185.83" x2="1981" y2="171.21" stroke="#d92a23" stroke-width="1.8" stroke-linecap="butt"/>
<line x1="1975" y1="185.83" x2="1987" y2="185.83" stroke="#d92a23" stroke-width="1.8" stroke-linecap="butt"/>
<line x1="1975" y1="171.21" x2="1987" y2="171.21" stroke="#d92a23" stroke-width="1.8" stroke-linecap="butt"/>
<polyline points="1608.7,257.02 1655.24,204.56 1701.78,153.35 1794.85,149.6 1981,178.33" fill="none" stroke="#d92a23" stroke-width="1.8" stroke-linejoin="round"/>
<rect x="1604" y="252.32" width="9.4" height="9.4" fill="#fff" stroke="#d92a23" stroke-width="2"/>
<rect x="1650.54" y="199.86" width="9.4" height="9.4" fill="#fff" stroke="#d92a23" stroke-width="2"/>
<rect x="1697.08" y="148.65" width="9.4" height="9.4" fill="#fff" stroke="#d92a23" stroke-width="2"/>
<rect x="1790.15" y="144.91" width="9.4" height="9.4" fill="#fff" stroke="#d92a23" stroke-width="2"/>
<rect x="1976.3" y="173.63" width="9.4" height="9.4" fill="#fff" stroke="#d92a23" stroke-width="2"/>
<line x1="1608.7" y1="253.27" x2="1608.7" y2="248.28" stroke="#000" stroke-width="2" stroke-linecap="butt"/>
<line x1="1602.7" y1="253.27" x2="1614.7" y2="253.27" stroke="#000" stroke-width="2" stroke-linecap="butt"/>
<line x1="1602.7" y1="248.28" x2="1614.7" y2="248.28" stroke="#000" stroke-width="2" stroke-linecap="butt"/>
<line x1="1655.24" y1="211.06" x2="1655.24" y2="188.01" stroke="#000" stroke-width="2" stroke-linecap="butt"/>
<line x1="1649.24" y1="211.06" x2="1661.24" y2="211.06" stroke="#000" stroke-width="2" stroke-linecap="butt"/>
<line x1="1649.24" y1="188.01" x2="1661.24" y2="188.01" stroke="#000" stroke-width="2" stroke-linecap="butt"/>
<line x1="1701.78" y1="163.34" x2="1701.78" y2="139.36" stroke="#000" stroke-width="2" stroke-linecap="butt"/>
<line x1="1695.78" y1="163.34" x2="1707.78" y2="163.34" stroke="#000" stroke-width="2" stroke-linecap="butt"/>
<line x1="1695.78" y1="139.36" x2="1707.78" y2="139.36" stroke="#000" stroke-width="2" stroke-linecap="butt"/>
<line x1="1794.85" y1="176.46" x2="1794.85" y2="147.11" stroke="#000" stroke-width="2" stroke-linecap="butt"/>
<line x1="1788.85" y1="176.46" x2="1800.85" y2="176.46" stroke="#000" stroke-width="2" stroke-linecap="butt"/>
<line x1="1788.85" y1="147.11" x2="1800.85" y2="147.11" stroke="#000" stroke-width="2" stroke-linecap="butt"/>
<line x1="1981" y1="214.55" x2="1981" y2="180.52" stroke="#000" stroke-width="2" stroke-linecap="butt"/>
<line x1="1975" y1="214.55" x2="1987" y2="214.55" stroke="#000" stroke-width="2" stroke-linecap="butt"/>
<line x1="1975" y1="180.52" x2="1987" y2="180.52" stroke="#000" stroke-width="2" stroke-linecap="butt"/>
<polyline points="1608.7,250.77 1655.24,198.32 1701.78,150.85 1794.85,161.47 1981,195.82" fill="none" stroke="#000" stroke-width="2" stroke-linejoin="round"/>
<circle cx="1608.7" cy="250.77" r="5.7" fill="#000" stroke="none" stroke-width="0"/>
<circle cx="1655.24" cy="198.32" r="5.7" fill="#000" stroke="none" stroke-width="0"/>
<circle cx="1701.78" cy="150.85" r="5.7" fill="#000" stroke="none" stroke-width="0"/>
<circle cx="1794.85" cy="161.47" r="5.7" fill="#000" stroke="none" stroke-width="0"/>
<circle cx="1981" cy="195.82" r="5.7" fill="#000" stroke="none" stroke-width="0"/>
<text x="1742.11" y="411" font-family="'Liberation Sans', Arial, sans-serif" font-size="28.98" fill="#000" textLength="145.78" lengthAdjust="spacingAndGlyphs">Time (min)</text>
<text transform="translate(1546.38 370.19) rotate(-90)" x="0" y="0" font-family="'Liberation Sans', Arial, sans-serif" font-size="25.64" fill="#000" textLength="293.78" lengthAdjust="spacingAndGlyphs">Blood glucose (mg/dl)</text>
<text x="36.83" y="482.53" font-family="'Liberation Sans', Arial, sans-serif" font-size="37.78" font-weight="bold" fill="#000" textLength="23.84" lengthAdjust="spacingAndGlyphs">e</text>
<line x1="139.1" y1="510" x2="139.1" y2="791.7" stroke="#000" stroke-width="3.5" stroke-linecap="butt"/>
<line x1="128.85" y1="790" x2="139.1" y2="790" stroke="#000" stroke-width="3.5" stroke-linecap="butt"/>
<text x="110.85" y="798.02" font-family="'Liberation Sans', Arial, sans-serif" font-size="23.3" fill="#000">0</text>
<line x1="128.85" y1="720.4" x2="139.1" y2="720.4" stroke="#000" stroke-width="3.5" stroke-linecap="butt"/>
<text x="97.89" y="728.42" font-family="'Liberation Sans', Arial, sans-serif" font-size="23.3" fill="#000">50</text>
<line x1="128.85" y1="650.8" x2="139.1" y2="650.8" stroke="#000" stroke-width="3.5" stroke-linecap="butt"/>
<text x="84.94" y="658.82" font-family="'Liberation Sans', Arial, sans-serif" font-size="23.3" fill="#000">100</text>
<line x1="128.85" y1="581.2" x2="139.1" y2="581.2" stroke="#000" stroke-width="3.5" stroke-linecap="butt"/>
<text x="84.94" y="589.22" font-family="'Liberation Sans', Arial, sans-serif" font-size="23.3" fill="#000">150</text>
<line x1="128.85" y1="511.6" x2="139.1" y2="511.6" stroke="#000" stroke-width="3.5" stroke-linecap="butt"/>
<text x="84.94" y="519.62" font-family="'Liberation Sans', Arial, sans-serif" font-size="23.3" fill="#000">200</text>
<line x1="130" y1="790" x2="557" y2="790" stroke="#000" stroke-width="3.5" stroke-linecap="butt"/>
<line x1="139.6" y1="790" x2="139.6" y2="800.25" stroke="#000" stroke-width="3.5" stroke-linecap="butt"/>
<text x="116.22" y="824.87" font-family="'Liberation Sans', Arial, sans-serif" font-size="23.3" fill="#000">-120</text>
<line x1="208.83" y1="790" x2="208.83" y2="800.25" stroke="#000" stroke-width="3.5" stroke-linecap="butt"/>
<text x="191.93" y="824.87" font-family="'Liberation Sans', Arial, sans-serif" font-size="23.3" fill="#000">-80</text>
<line x1="278.07" y1="790" x2="278.07" y2="800.25" stroke="#000" stroke-width="3.5" stroke-linecap="butt"/>
<text x="261.17" y="824.87" font-family="'Liberation Sans', Arial, sans-serif" font-size="23.3" fill="#000">-40</text>
<line x1="347.3" y1="790" x2="347.3" y2="800.25" stroke="#000" stroke-width="3.5" stroke-linecap="butt"/>
<text x="340.82" y="824.87" font-family="'Liberation Sans', Arial, sans-serif" font-size="23.3" fill="#000">0</text>
<line x1="416.53" y1="790" x2="416.53" y2="800.25" stroke="#000" stroke-width="3.5" stroke-linecap="butt"/>
<text x="403.76" y="824.87" font-family="'Liberation Sans', Arial, sans-serif" font-size="23.3" fill="#000">40</text>
<line x1="485.77" y1="790" x2="485.77" y2="800.25" stroke="#000" stroke-width="3.5" stroke-linecap="butt"/>
<text x="472.76" y="824.87" font-family="'Liberation Sans', Arial, sans-serif" font-size="23.3" fill="#000">80</text>
<line x1="555" y1="790" x2="555" y2="800.25" stroke="#000" stroke-width="3.5" stroke-linecap="butt"/>
<text x="535.13" y="824.87" font-family="'Liberation Sans', Arial, sans-serif" font-size="23.3" fill="#000">120</text>
<line x1="139.6" y1="638.27" x2="139.6" y2="616" stroke="#000" stroke-width="2" stroke-linecap="butt"/>
<line x1="133.6" y1="638.27" x2="145.6" y2="638.27" stroke="#000" stroke-width="2" stroke-linecap="butt"/>
<line x1="133.6" y1="616" x2="145.6" y2="616" stroke="#000" stroke-width="2" stroke-linecap="butt"/>
<line x1="338.65" y1="636.88" x2="338.65" y2="622.96" stroke="#000" stroke-width="2" stroke-linecap="butt"/>
<line x1="332.65" y1="636.88" x2="344.65" y2="636.88" stroke="#000" stroke-width="2" stroke-linecap="butt"/>
<line x1="332.65" y1="622.96" x2="344.65" y2="622.96" stroke="#000" stroke-width="2" stroke-linecap="butt"/>
<line x1="355.95" y1="628.53" x2="355.95" y2="611.82" stroke="#000" stroke-width="2" stroke-linecap="butt"/>
<line x1="349.95" y1="628.53" x2="361.95" y2="628.53" stroke="#000" stroke-width="2" stroke-linecap="butt"/>
<line x1="349.95" y1="611.82" x2="361.95" y2="611.82" stroke="#000" stroke-width="2" stroke-linecap="butt"/>
<line x1="364.61" y1="634.1" x2="364.61" y2="620.18" stroke="#000" stroke-width="2" stroke-linecap="butt"/>
<line x1="358.61" y1="634.1" x2="370.61" y2="634.1" stroke="#000" stroke-width="2" stroke-linecap="butt"/>
<line x1="358.61" y1="620.18" x2="370.61" y2="620.18" stroke="#000" stroke-width="2" stroke-linecap="butt"/>
<line x1="381.92" y1="648.43" x2="381.92" y2="642.87" stroke="#000" stroke-width="2" stroke-linecap="butt"/>
<line x1="375.92" y1="648.43" x2="387.92" y2="648.43" stroke="#000" stroke-width="2" stroke-linecap="butt"/>
<line x1="375.92" y1="642.87" x2="387.92" y2="642.87" stroke="#000" stroke-width="2" stroke-linecap="butt"/>
<line x1="399.23" y1="648.02" x2="399.23" y2="639.66" stroke="#000" stroke-width="2" stroke-linecap="butt"/>
<line x1="393.23" y1="648.02" x2="405.23" y2="648.02" stroke="#000" stroke-width="2" stroke-linecap="butt"/>
<line x1="393.23" y1="639.66" x2="405.23" y2="639.66" stroke="#000" stroke-width="2" stroke-linecap="butt"/>
<line x1="416.53" y1="634.51" x2="416.53" y2="626.16" stroke="#000" stroke-width="2" stroke-linecap="butt"/>
<line x1="410.53" y1="634.51" x2="422.53" y2="634.51" stroke="#000" stroke-width="2" stroke-linecap="butt"/>
<line x1="410.53" y1="626.16" x2="422.53" y2="626.16" stroke="#000" stroke-width="2" stroke-linecap="butt"/>
<line x1="433.84" y1="634.79" x2="433.84" y2="629.22" stroke="#000" stroke-width="2" stroke-linecap="butt"/>
<line x1="427.84" y1="634.79" x2="439.84" y2="634.79" stroke="#000" stroke-width="2" stroke-linecap="butt"/>
<line x1="427.84" y1="629.22" x2="439.84" y2="629.22" stroke="#000" stroke-width="2" stroke-linecap="butt"/>
<line x1="451.15" y1="636.88" x2="451.15" y2="631.31" stroke="#000" stroke-width="2" stroke-linecap="butt"/>
<line x1="445.15" y1="636.88" x2="457.15" y2="636.88" stroke="#000" stroke-width="2" stroke-linecap="butt"/>
<line x1="445.15" y1="631.31" x2="457.15" y2="631.31" stroke="#000" stroke-width="2" stroke-linecap="butt"/>
<line x1="468.46" y1="645.51" x2="468.46" y2="639.94" stroke="#000" stroke-width="2" stroke-linecap="butt"/>
<line x1="462.46" y1="645.51" x2="474.46" y2="645.51" stroke="#000" stroke-width="2" stroke-linecap="butt"/>
<line x1="462.46" y1="639.94" x2="474.46" y2="639.94" stroke="#000" stroke-width="2" stroke-linecap="butt"/>
<line x1="477.11" y1="636.88" x2="477.11" y2="631.31" stroke="#000" stroke-width="2" stroke-linecap="butt"/>
<line x1="471.11" y1="636.88" x2="483.11" y2="636.88" stroke="#000" stroke-width="2" stroke-linecap="butt"/>
<line x1="471.11" y1="631.31" x2="483.11" y2="631.31" stroke="#000" stroke-width="2" stroke-linecap="butt"/>
<line x1="485.77" y1="635.63" x2="485.77" y2="630.06" stroke="#000" stroke-width="2" stroke-linecap="butt"/>
<line x1="479.77" y1="635.63" x2="491.77" y2="635.63" stroke="#000" stroke-width="2" stroke-linecap="butt"/>
<line x1="479.77" y1="630.06" x2="491.77" y2="630.06" stroke="#000" stroke-width="2" stroke-linecap="butt"/>
<line x1="503.08" y1="628.53" x2="503.08" y2="620.18" stroke="#000" stroke-width="2" stroke-linecap="butt"/>
<line x1="497.08" y1="628.53" x2="509.08" y2="628.53" stroke="#000" stroke-width="2" stroke-linecap="butt"/>
<line x1="497.08" y1="620.18" x2="509.08" y2="620.18" stroke="#000" stroke-width="2" stroke-linecap="butt"/>
<line x1="520.38" y1="633.82" x2="520.38" y2="628.25" stroke="#000" stroke-width="2" stroke-linecap="butt"/>
<line x1="514.38" y1="633.82" x2="526.38" y2="633.82" stroke="#000" stroke-width="2" stroke-linecap="butt"/>
<line x1="514.38" y1="628.25" x2="526.38" y2="628.25" stroke="#000" stroke-width="2" stroke-linecap="butt"/>
<line x1="537.69" y1="633.12" x2="537.69" y2="630.34" stroke="#000" stroke-width="2" stroke-linecap="butt"/>
<line x1="531.69" y1="633.12" x2="543.69" y2="633.12" stroke="#000" stroke-width="2" stroke-linecap="butt"/>
<line x1="531.69" y1="630.34" x2="543.69" y2="630.34" stroke="#000" stroke-width="2" stroke-linecap="butt"/>
<polyline points="139.6,627.14 338.65,629.92 355.95,620.18 364.61,627.14 381.92,645.65 399.23,643.84 416.53,630.34 433.84,632.01 451.15,634.1 468.46,642.73 477.11,634.1 485.77,632.84 503.08,624.35 520.38,631.03 537.69,631.73" fill="none" stroke="#000" stroke-width="2" stroke-linejoin="round"/>
<circle cx="139.6" cy="627.14" r="5.6" fill="#000" stroke="none" stroke-width="0"/>
<circle cx="338.65" cy="629.92" r="5.6" fill="#000" stroke="none" stroke-width="0"/>
<circle cx="355.95" cy="620.18" r="5.6" fill="#000" stroke="none" stroke-width="0"/>
<circle cx="364.61" cy="627.14" r="5.6" fill="#000" stroke="none" stroke-width="0"/>
<circle cx="381.92" cy="645.65" r="5.6" fill="#000" stroke="none" stroke-width="0"/>
<circle cx="399.23" cy="643.84" r="5.6" fill="#000" stroke="none" stroke-width="0"/>
<circle cx="416.53" cy="630.34" r="5.6" fill="#000" stroke="none" stroke-width="0"/>
<circle cx="433.84" cy="632.01" r="5.6" fill="#000" stroke="none" stroke-width="0"/>
<circle cx="451.15" cy="634.1" r="5.6" fill="#000" stroke="none" stroke-width="0"/>
<circle cx="468.46" cy="642.73" r="5.6" fill="#000" stroke="none" stroke-width="0"/>
<circle cx="477.11" cy="634.1" r="5.6" fill="#000" stroke="none" stroke-width="0"/>
<circle cx="485.77" cy="632.84" r="5.6" fill="#000" stroke="none" stroke-width="0"/>
<circle cx="503.08" cy="624.35" r="5.6" fill="#000" stroke="none" stroke-width="0"/>
<circle cx="520.38" cy="631.03" r="5.6" fill="#000" stroke="none" stroke-width="0"/>
<circle cx="537.69" cy="631.73" r="5.6" fill="#000" stroke="none" stroke-width="0"/>
<line x1="139.6" y1="624.35" x2="139.6" y2="597.9" stroke="#d92a23" stroke-width="1.8" stroke-linecap="butt"/>
<line x1="133.6" y1="624.35" x2="145.6" y2="624.35" stroke="#d92a23" stroke-width="1.8" stroke-linecap="butt"/>
<line x1="133.6" y1="597.9" x2="145.6" y2="597.9" stroke="#d92a23" stroke-width="1.8" stroke-linecap="butt"/>
<line x1="338.65" y1="627.14" x2="338.65" y2="621.57" stroke="#d92a23" stroke-width="1.8" stroke-linecap="butt"/>
<line x1="332.65" y1="627.14" x2="344.65" y2="627.14" stroke="#d92a23" stroke-width="1.8" stroke-linecap="butt"/>
<line x1="332.65" y1="621.57" x2="344.65" y2="621.57" stroke="#d92a23" stroke-width="1.8" stroke-linecap="butt"/>
<line x1="355.95" y1="625.74" x2="355.95" y2="614.61" stroke="#d92a23" stroke-width="1.8" stroke-linecap="butt"/>
<line x1="349.95" y1="625.74" x2="361.95" y2="625.74" stroke="#d92a23" stroke-width="1.8" stroke-linecap="butt"/>
<line x1="349.95" y1="614.61" x2="361.95" y2="614.61" stroke="#d92a23" stroke-width="1.8" stroke-linecap="butt"/>
<line x1="364.61" y1="630.34" x2="364.61" y2="621.99" stroke="#d92a23" stroke-width="1.8" stroke-linecap="butt"/>
<line x1="358.61" y1="630.34" x2="370.61" y2="630.34" stroke="#d92a23" stroke-width="1.8" stroke-linecap="butt"/>
<line x1="358.61" y1="621.99" x2="370.61" y2="621.99" stroke="#d92a23" stroke-width="1.8" stroke-linecap="butt"/>
<line x1="381.92" y1="635.49" x2="381.92" y2="624.35" stroke="#d92a23" stroke-width="1.8" stroke-linecap="butt"/>
<line x1="375.92" y1="635.49" x2="387.92" y2="635.49" stroke="#d92a23" stroke-width="1.8" stroke-linecap="butt"/>
<line x1="375.92" y1="624.35" x2="387.92" y2="624.35" stroke="#d92a23" stroke-width="1.8" stroke-linecap="butt"/>
<line x1="399.23" y1="635.07" x2="399.23" y2="629.5" stroke="#d92a23" stroke-width="1.8" stroke-linecap="butt"/>
<line x1="393.23" y1="635.07" x2="405.23" y2="635.07" stroke="#d92a23" stroke-width="1.8" stroke-linecap="butt"/>
<line x1="393.23" y1="629.5" x2="405.23" y2="629.5" stroke="#d92a23" stroke-width="1.8" stroke-linecap="butt"/>
<line x1="416.53" y1="638.55" x2="416.53" y2="635.77" stroke="#d92a23" stroke-width="1.8" stroke-linecap="butt"/>
<line x1="410.53" y1="638.55" x2="422.53" y2="638.55" stroke="#d92a23" stroke-width="1.8" stroke-linecap="butt"/>
<line x1="410.53" y1="635.77" x2="422.53" y2="635.77" stroke="#d92a23" stroke-width="1.8" stroke-linecap="butt"/>
<line x1="433.84" y1="634.51" x2="433.84" y2="631.73" stroke="#d92a23" stroke-width="1.8" stroke-linecap="butt"/>
<line x1="427.84" y1="634.51" x2="439.84" y2="634.51" stroke="#d92a23" stroke-width="1.8" stroke-linecap="butt"/>
<line x1="427.84" y1="631.73" x2="439.84" y2="631.73" stroke="#d92a23" stroke-width="1.8" stroke-linecap="butt"/>
<line x1="451.15" y1="631.59" x2="451.15" y2="628.81" stroke="#d92a23" stroke-width="1.8" stroke-linecap="butt"/>
<line x1="445.15" y1="631.59" x2="457.15" y2="631.59" stroke="#d92a23" stroke-width="1.8" stroke-linecap="butt"/>
<line x1="445.15" y1="628.81" x2="457.15" y2="628.81" stroke="#d92a23" stroke-width="1.8" stroke-linecap="butt"/>
<line x1="468.46" y1="634.93" x2="468.46" y2="632.15" stroke="#d92a23" stroke-width="1.8" stroke-linecap="butt"/>
<line x1="462.46" y1="634.93" x2="474.46" y2="634.93" stroke="#d92a23" stroke-width="1.8" stroke-linecap="butt"/>
<line x1="462.46" y1="632.15" x2="474.46" y2="632.15" stroke="#d92a23" stroke-width="1.8" stroke-linecap="butt"/>
<line x1="477.11" y1="628.25" x2="477.11" y2="625.47" stroke="#d92a23" stroke-width="1.8" stroke-linecap="butt"/>
<line x1="471.11" y1="628.25" x2="483.11" y2="628.25" stroke="#d92a23" stroke-width="1.8" stroke-linecap="butt"/>
<line x1="471.11" y1="625.47" x2="483.11" y2="625.47" stroke="#d92a23" stroke-width="1.8" stroke-linecap="butt"/>
<line x1="485.77" y1="623.38" x2="485.77" y2="617.81" stroke="#d92a23" stroke-width="1.8" stroke-linecap="butt"/>
<line x1="479.77" y1="623.38" x2="491.77" y2="623.38" stroke="#d92a23" stroke-width="1.8" stroke-linecap="butt"/>
<line x1="479.77" y1="617.81" x2="491.77" y2="617.81" stroke="#d92a23" stroke-width="1.8" stroke-linecap="butt"/>
<line x1="503.08" y1="623.24" x2="503.08" y2="620.45" stroke="#d92a23" stroke-width="1.8" stroke-linecap="butt"/>
<line x1="497.08" y1="623.24" x2="509.08" y2="623.24" stroke="#d92a23" stroke-width="1.8" stroke-linecap="butt"/>
<line x1="497.08" y1="620.45" x2="509.08" y2="620.45" stroke="#d92a23" stroke-width="1.8" stroke-linecap="butt"/>
<line x1="520.38" y1="622.96" x2="520.38" y2="620.18" stroke="#d92a23" stroke-width="1.8" stroke-linecap="butt"/>
<line x1="514.38" y1="622.96" x2="526.38" y2="622.96" stroke="#d92a23" stroke-width="1.8" stroke-linecap="butt"/>
<line x1="514.38" y1="620.18" x2="526.38" y2="620.18" stroke="#d92a23" stroke-width="1.8" stroke-linecap="butt"/>
<line x1="537.69" y1="626.44" x2="537.69" y2="620.87" stroke="#d92a23" stroke-width="1.8" stroke-linecap="butt"/>
<line x1="531.69" y1="626.44" x2="543.69" y2="626.44" stroke="#d92a23" stroke-width="1.8" stroke-linecap="butt"/>
<line x1="531.69" y1="620.87" x2="543.69" y2="620.87" stroke="#d92a23" stroke-width="1.8" stroke-linecap="butt"/>
<polyline points="139.6,611.82 338.65,624.35 355.95,620.18 364.61,626.16 381.92,629.92 399.23,632.29 416.53,637.16 433.84,633.12 451.15,630.2 468.46,633.54 477.11,626.86 485.77,620.59 503.08,621.85 520.38,621.57 537.69,623.66" fill="none" stroke="#d92a23" stroke-width="2" stroke-linejoin="round"/>
<rect x="134.85" y="607.07" width="9.5" height="9.5" fill="#fff" stroke="#d92a23" stroke-width="2"/>
<rect x="333.9" y="619.6" width="9.5" height="9.5" fill="#fff" stroke="#d92a23" stroke-width="2"/>
<rect x="351.2" y="615.43" width="9.5" height="9.5" fill="#fff" stroke="#d92a23" stroke-width="2"/>
<rect x="359.86" y="621.41" width="9.5" height="9.5" fill="#fff" stroke="#d92a23" stroke-width="2"/>
<rect x="377.17" y="625.17" width="9.5" height="9.5" fill="#fff" stroke="#d92a23" stroke-width="2"/>
<rect x="394.48" y="627.54" width="9.5" height="9.5" fill="#fff" stroke="#d92a23" stroke-width="2"/>
<rect x="411.78" y="632.41" width="9.5" height="9.5" fill="#fff" stroke="#d92a23" stroke-width="2"/>
<rect x="429.09" y="628.37" width="9.5" height="9.5" fill="#fff" stroke="#d92a23" stroke-width="2"/>
<rect x="446.4" y="625.45" width="9.5" height="9.5" fill="#fff" stroke="#d92a23" stroke-width="2"/>
<rect x="463.71" y="628.79" width="9.5" height="9.5" fill="#fff" stroke="#d92a23" stroke-width="2"/>
<rect x="472.36" y="622.11" width="9.5" height="9.5" fill="#fff" stroke="#d92a23" stroke-width="2"/>
<rect x="481.02" y="615.84" width="9.5" height="9.5" fill="#fff" stroke="#d92a23" stroke-width="2"/>
<rect x="498.33" y="617.1" width="9.5" height="9.5" fill="#fff" stroke="#d92a23" stroke-width="2"/>
<rect x="515.63" y="616.82" width="9.5" height="9.5" fill="#fff" stroke="#d92a23" stroke-width="2"/>
<rect x="532.94" y="618.91" width="9.5" height="9.5" fill="#fff" stroke="#d92a23" stroke-width="2"/>
<text x="258.33" y="857.93" font-family="'Liberation Sans', Arial, sans-serif" font-size="29.3" fill="#000" textLength="143.13" lengthAdjust="spacingAndGlyphs">Time (min)</text>
<text transform="translate(71.06 793.29) rotate(-90)" x="0" y="0" font-family="'Liberation Sans', Arial, sans-serif" font-size="28.64" fill="#000" textLength="293.17" lengthAdjust="spacingAndGlyphs">Blood glucose (mg/dl)</text>
<line x1="211.7" y1="731.6" x2="241.3" y2="731.6" stroke="#000" stroke-width="2" stroke-linecap="butt"/>
<circle cx="226.5" cy="731.6" r="5.8" fill="#000" stroke="none" stroke-width="0"/>
<text x="248.95" y="737.26" font-family="'Liberation Sans', Arial, sans-serif" font-size="25" fill="#000" textLength="46.85" lengthAdjust="spacingAndGlyphs">GFP</text>
<text x="295.54" y="728.44" font-family="'Liberation Sans', Arial, sans-serif" font-size="16.09" fill="#000" textLength="22.07" lengthAdjust="spacingAndGlyphs">sf1</text>
<line x1="211.7" y1="759" x2="241.3" y2="759" stroke="#d92a23" stroke-width="2" stroke-linecap="butt"/>
<rect x="221" y="753.5" width="11" height="11" fill="#fff" stroke="#d92a23" stroke-width="2"/>
<text x="249.06" y="766.84" font-family="'Liberation Sans', Arial, sans-serif" font-size="27.12" fill="#000" textLength="105.91" lengthAdjust="spacingAndGlyphs">cPLA2KD</text>
<text x="353.34" y="756.64" font-family="'Liberation Sans', Arial, sans-serif" font-size="16.09" fill="#000" textLength="21.96" lengthAdjust="spacingAndGlyphs">sf1</text>
<text x="602.74" y="485" font-family="'Liberation Sans', Arial, sans-serif" font-size="40.85" font-weight="bold" fill="#000" textLength="14.77" lengthAdjust="spacingAndGlyphs">f</text>
<line x1="664.4" y1="497.8" x2="664.4" y2="788.4" stroke="#000" stroke-width="3.5" stroke-linecap="butt"/>
<line x1="654.15" y1="786.7" x2="664.4" y2="786.7" stroke="#000" stroke-width="3.5" stroke-linecap="butt"/>
<text x="637.75" y="794.72" font-family="'Liberation Sans', Arial, sans-serif" font-size="23.3" fill="#000">0</text>
<line x1="654.15" y1="714.9" x2="664.4" y2="714.9" stroke="#000" stroke-width="3.5" stroke-linecap="butt"/>
<text x="624.79" y="722.92" font-family="'Liberation Sans', Arial, sans-serif" font-size="23.3" fill="#000">10</text>
<line x1="654.15" y1="643.1" x2="664.4" y2="643.1" stroke="#000" stroke-width="3.5" stroke-linecap="butt"/>
<text x="624.79" y="651.12" font-family="'Liberation Sans', Arial, sans-serif" font-size="23.3" fill="#000">20</text>
<line x1="654.15" y1="571.3" x2="664.4" y2="571.3" stroke="#000" stroke-width="3.5" stroke-linecap="butt"/>
<text x="624.79" y="579.32" font-family="'Liberation Sans', Arial, sans-serif" font-size="23.3" fill="#000">30</text>
<line x1="654.15" y1="499.5" x2="664.4" y2="499.5" stroke="#000" stroke-width="3.5" stroke-linecap="butt"/>
<text x="624.79" y="507.52" font-family="'Liberation Sans', Arial, sans-serif" font-size="23.3" fill="#000">40</text>
<line x1="655.5" y1="786.7" x2="1096" y2="786.7" stroke="#000" stroke-width="3.5" stroke-linecap="butt"/>
<line x1="664.4" y1="786.7" x2="664.4" y2="796.95" stroke="#000" stroke-width="3.5" stroke-linecap="butt"/>
<text x="657.92" y="824.07" font-family="'Liberation Sans', Arial, sans-serif" font-size="23.3" fill="#000">0</text>
<line x1="736" y1="786.7" x2="736" y2="796.95" stroke="#000" stroke-width="3.5" stroke-linecap="butt"/>
<text x="722.91" y="824.07" font-family="'Liberation Sans', Arial, sans-serif" font-size="23.3" fill="#000">20</text>
<line x1="807.6" y1="786.7" x2="807.6" y2="796.95" stroke="#000" stroke-width="3.5" stroke-linecap="butt"/>
<text x="794.83" y="824.07" font-family="'Liberation Sans', Arial, sans-serif" font-size="23.3" fill="#000">40</text>
<line x1="879.2" y1="786.7" x2="879.2" y2="796.95" stroke="#000" stroke-width="3.5" stroke-linecap="butt"/>
<text x="866.11" y="824.07" font-family="'Liberation Sans', Arial, sans-serif" font-size="23.3" fill="#000">60</text>
<line x1="950.8" y1="786.7" x2="950.8" y2="796.95" stroke="#000" stroke-width="3.5" stroke-linecap="butt"/>
<text x="937.79" y="824.07" font-family="'Liberation Sans', Arial, sans-serif" font-size="23.3" fill="#000">80</text>
<line x1="1022.4" y1="786.7" x2="1022.4" y2="796.95" stroke="#000" stroke-width="3.5" stroke-linecap="butt"/>
<text x="1002.53" y="824.07" font-family="'Liberation Sans', Arial, sans-serif" font-size="23.3" fill="#000">100</text>
<line x1="1094" y1="786.7" x2="1094" y2="796.95" stroke="#000" stroke-width="3.5" stroke-linecap="butt"/>
<text x="1074.13" y="824.07" font-family="'Liberation Sans', Arial, sans-serif" font-size="23.3" fill="#000">120</text>
<line x1="682.3" y1="736.44" x2="682.3" y2="722.08" stroke="#000" stroke-width="2" stroke-linecap="butt"/>
<line x1="676.05" y1="736.44" x2="688.55" y2="736.44" stroke="#000" stroke-width="2" stroke-linecap="butt"/>
<line x1="676.05" y1="722.08" x2="688.55" y2="722.08" stroke="#000" stroke-width="2" stroke-linecap="butt"/>
<line x1="700.2" y1="719.21" x2="700.2" y2="696.23" stroke="#000" stroke-width="2" stroke-linecap="butt"/>
<line x1="693.95" y1="719.21" x2="706.45" y2="719.21" stroke="#000" stroke-width="2" stroke-linecap="butt"/>
<line x1="693.95" y1="696.23" x2="706.45" y2="696.23" stroke="#000" stroke-width="2" stroke-linecap="butt"/>
<line x1="736" y1="693.36" x2="736" y2="657.46" stroke="#000" stroke-width="2" stroke-linecap="butt"/>
<line x1="729.75" y1="693.36" x2="742.25" y2="693.36" stroke="#000" stroke-width="2" stroke-linecap="butt"/>
<line x1="729.75" y1="657.46" x2="742.25" y2="657.46" stroke="#000" stroke-width="2" stroke-linecap="butt"/>
<line x1="771.8" y1="666.79" x2="771.8" y2="636.64" stroke="#000" stroke-width="2" stroke-linecap="butt"/>
<line x1="765.55" y1="666.79" x2="778.05" y2="666.79" stroke="#000" stroke-width="2" stroke-linecap="butt"/>
<line x1="765.55" y1="636.64" x2="778.05" y2="636.64" stroke="#000" stroke-width="2" stroke-linecap="butt"/>
<line x1="807.6" y1="653.87" x2="807.6" y2="619.41" stroke="#000" stroke-width="2" stroke-linecap="butt"/>
<line x1="801.35" y1="653.87" x2="813.85" y2="653.87" stroke="#000" stroke-width="2" stroke-linecap="butt"/>
<line x1="801.35" y1="619.41" x2="813.85" y2="619.41" stroke="#000" stroke-width="2" stroke-linecap="butt"/>
<line x1="843.4" y1="641.66" x2="843.4" y2="605.76" stroke="#000" stroke-width="2" stroke-linecap="butt"/>
<line x1="837.15" y1="641.66" x2="849.65" y2="641.66" stroke="#000" stroke-width="2" stroke-linecap="butt"/>
<line x1="837.15" y1="605.76" x2="849.65" y2="605.76" stroke="#000" stroke-width="2" stroke-linecap="butt"/>
<line x1="879.2" y1="635.2" x2="879.2" y2="593.56" stroke="#000" stroke-width="2" stroke-linecap="butt"/>
<line x1="872.95" y1="635.2" x2="885.45" y2="635.2" stroke="#000" stroke-width="2" stroke-linecap="butt"/>
<line x1="872.95" y1="593.56" x2="885.45" y2="593.56" stroke="#000" stroke-width="2" stroke-linecap="butt"/>
<line x1="915" y1="618.69" x2="915" y2="569.86" stroke="#000" stroke-width="2" stroke-linecap="butt"/>
<line x1="908.75" y1="618.69" x2="921.25" y2="618.69" stroke="#000" stroke-width="2" stroke-linecap="butt"/>
<line x1="908.75" y1="569.86" x2="921.25" y2="569.86" stroke="#000" stroke-width="2" stroke-linecap="butt"/>
<line x1="932.9" y1="618.69" x2="932.9" y2="569.86" stroke="#000" stroke-width="2" stroke-linecap="butt"/>
<line x1="926.65" y1="618.69" x2="939.15" y2="618.69" stroke="#000" stroke-width="2" stroke-linecap="butt"/>
<line x1="926.65" y1="569.86" x2="939.15" y2="569.86" stroke="#000" stroke-width="2" stroke-linecap="butt"/>
<line x1="950.8" y1="615.82" x2="950.8" y2="562.68" stroke="#000" stroke-width="2" stroke-linecap="butt"/>
<line x1="944.55" y1="615.82" x2="957.05" y2="615.82" stroke="#000" stroke-width="2" stroke-linecap="butt"/>
<line x1="944.55" y1="562.68" x2="957.05" y2="562.68" stroke="#000" stroke-width="2" stroke-linecap="butt"/>
<line x1="986.6" y1="602.89" x2="986.6" y2="559.81" stroke="#000" stroke-width="2" stroke-linecap="butt"/>
<line x1="980.35" y1="602.89" x2="992.85" y2="602.89" stroke="#000" stroke-width="2" stroke-linecap="butt"/>
<line x1="980.35" y1="559.81" x2="992.85" y2="559.81" stroke="#000" stroke-width="2" stroke-linecap="butt"/>
<line x1="1022.4" y1="602.17" x2="1022.4" y2="572.02" stroke="#000" stroke-width="2" stroke-linecap="butt"/>
<line x1="1016.15" y1="602.17" x2="1028.65" y2="602.17" stroke="#000" stroke-width="2" stroke-linecap="butt"/>
<line x1="1016.15" y1="572.02" x2="1028.65" y2="572.02" stroke="#000" stroke-width="2" stroke-linecap="butt"/>
<line x1="1058.2" y1="605.05" x2="1058.2" y2="564.84" stroke="#000" stroke-width="2" stroke-linecap="butt"/>
<line x1="1051.95" y1="605.05" x2="1064.45" y2="605.05" stroke="#000" stroke-width="2" stroke-linecap="butt"/>
<line x1="1051.95" y1="564.84" x2="1064.45" y2="564.84" stroke="#000" stroke-width="2" stroke-linecap="butt"/>
<polyline points="682.3,729.26 700.2,707.72 736,675.41 771.8,651.72 807.6,636.64 843.4,623.71 879.2,614.38 915,594.28 932.9,594.28 950.8,589.25 986.6,581.35 1022.4,587.1 1058.2,584.94" fill="none" stroke="#000" stroke-width="2" stroke-linejoin="round"/>
<circle cx="682.3" cy="729.26" r="6.3" fill="#000" stroke="none" stroke-width="0"/>
<circle cx="700.2" cy="707.72" r="6.3" fill="#000" stroke="none" stroke-width="0"/>
<circle cx="736" cy="675.41" r="6.3" fill="#000" stroke="none" stroke-width="0"/>
<circle cx="771.8" cy="651.72" r="6.3" fill="#000" stroke="none" stroke-width="0"/>
<circle cx="807.6" cy="636.64" r="6.3" fill="#000" stroke="none" stroke-width="0"/>
<circle cx="843.4" cy="623.71" r="6.3" fill="#000" stroke="none" stroke-width="0"/>
<circle cx="879.2" cy="614.38" r="6.3" fill="#000" stroke="none" stroke-width="0"/>
<circle cx="915" cy="594.28" r="6.3" fill="#000" stroke="none" stroke-width="0"/>
<circle cx="932.9" cy="594.28" r="6.3" fill="#000" stroke="none" stroke-width="0"/>
<circle cx="950.8" cy="589.25" r="6.3" fill="#000" stroke="none" stroke-width="0"/>
<circle cx="986.6" cy="581.35" r="6.3" fill="#000" stroke="none" stroke-width="0"/>
<circle cx="1022.4" cy="587.1" r="6.3" fill="#000" stroke="none" stroke-width="0"/>
<circle cx="1058.2" cy="584.94" r="6.3" fill="#000" stroke="none" stroke-width="0"/>
<line x1="682.3" y1="750.08" x2="682.3" y2="722.8" stroke="#d92a23" stroke-width="1.8" stroke-linecap="butt"/>
<line x1="676.05" y1="750.08" x2="688.55" y2="750.08" stroke="#d92a23" stroke-width="1.8" stroke-linecap="butt"/>
<line x1="676.05" y1="722.8" x2="688.55" y2="722.8" stroke="#d92a23" stroke-width="1.8" stroke-linecap="butt"/>
<line x1="700.2" y1="736.44" x2="700.2" y2="689.05" stroke="#d92a23" stroke-width="1.8" stroke-linecap="butt"/>
<line x1="693.95" y1="736.44" x2="706.45" y2="736.44" stroke="#d92a23" stroke-width="1.8" stroke-linecap="butt"/>
<line x1="693.95" y1="689.05" x2="706.45" y2="689.05" stroke="#d92a23" stroke-width="1.8" stroke-linecap="butt"/>
<line x1="736" y1="711.31" x2="736" y2="678.28" stroke="#d92a23" stroke-width="1.8" stroke-linecap="butt"/>
<line x1="729.75" y1="711.31" x2="742.25" y2="711.31" stroke="#d92a23" stroke-width="1.8" stroke-linecap="butt"/>
<line x1="729.75" y1="678.28" x2="742.25" y2="678.28" stroke="#d92a23" stroke-width="1.8" stroke-linecap="butt"/>
<line x1="771.8" y1="704.13" x2="771.8" y2="673.97" stroke="#d92a23" stroke-width="1.8" stroke-linecap="butt"/>
<line x1="765.55" y1="704.13" x2="778.05" y2="704.13" stroke="#d92a23" stroke-width="1.8" stroke-linecap="butt"/>
<line x1="765.55" y1="673.97" x2="778.05" y2="673.97" stroke="#d92a23" stroke-width="1.8" stroke-linecap="butt"/>
<line x1="807.6" y1="693.36" x2="807.6" y2="660.33" stroke="#d92a23" stroke-width="1.8" stroke-linecap="butt"/>
<line x1="801.35" y1="693.36" x2="813.85" y2="693.36" stroke="#d92a23" stroke-width="1.8" stroke-linecap="butt"/>
<line x1="801.35" y1="660.33" x2="813.85" y2="660.33" stroke="#d92a23" stroke-width="1.8" stroke-linecap="butt"/>
<line x1="843.4" y1="684.74" x2="843.4" y2="644.54" stroke="#d92a23" stroke-width="1.8" stroke-linecap="butt"/>
<line x1="837.15" y1="684.74" x2="849.65" y2="684.74" stroke="#d92a23" stroke-width="1.8" stroke-linecap="butt"/>
<line x1="837.15" y1="644.54" x2="849.65" y2="644.54" stroke="#d92a23" stroke-width="1.8" stroke-linecap="butt"/>
<line x1="879.2" y1="682.59" x2="879.2" y2="639.51" stroke="#d92a23" stroke-width="1.8" stroke-linecap="butt"/>
<line x1="872.95" y1="682.59" x2="885.45" y2="682.59" stroke="#d92a23" stroke-width="1.8" stroke-linecap="butt"/>
<line x1="872.95" y1="639.51" x2="885.45" y2="639.51" stroke="#d92a23" stroke-width="1.8" stroke-linecap="butt"/>
<line x1="915" y1="681.15" x2="915" y2="633.77" stroke="#d92a23" stroke-width="1.8" stroke-linecap="butt"/>
<line x1="908.75" y1="681.15" x2="921.25" y2="681.15" stroke="#d92a23" stroke-width="1.8" stroke-linecap="butt"/>
<line x1="908.75" y1="633.77" x2="921.25" y2="633.77" stroke="#d92a23" stroke-width="1.8" stroke-linecap="butt"/>
<line x1="932.9" y1="681.15" x2="932.9" y2="633.77" stroke="#d92a23" stroke-width="1.8" stroke-linecap="butt"/>
<line x1="926.65" y1="681.15" x2="939.15" y2="681.15" stroke="#d92a23" stroke-width="1.8" stroke-linecap="butt"/>
<line x1="926.65" y1="633.77" x2="939.15" y2="633.77" stroke="#d92a23" stroke-width="1.8" stroke-linecap="butt"/>
<line x1="950.8" y1="684.03" x2="950.8" y2="633.77" stroke="#d92a23" stroke-width="1.8" stroke-linecap="butt"/>
<line x1="944.55" y1="684.03" x2="957.05" y2="684.03" stroke="#d92a23" stroke-width="1.8" stroke-linecap="butt"/>
<line x1="944.55" y1="633.77" x2="957.05" y2="633.77" stroke="#d92a23" stroke-width="1.8" stroke-linecap="butt"/>
<line x1="986.6" y1="686.9" x2="986.6" y2="639.51" stroke="#d92a23" stroke-width="1.8" stroke-linecap="butt"/>
<line x1="980.35" y1="686.9" x2="992.85" y2="686.9" stroke="#d92a23" stroke-width="1.8" stroke-linecap="butt"/>
<line x1="980.35" y1="639.51" x2="992.85" y2="639.51" stroke="#d92a23" stroke-width="1.8" stroke-linecap="butt"/>
<line x1="1022.4" y1="686.18" x2="1022.4" y2="638.79" stroke="#d92a23" stroke-width="1.8" stroke-linecap="butt"/>
<line x1="1016.15" y1="686.18" x2="1028.65" y2="686.18" stroke="#d92a23" stroke-width="1.8" stroke-linecap="butt"/>
<line x1="1016.15" y1="638.79" x2="1028.65" y2="638.79" stroke="#d92a23" stroke-width="1.8" stroke-linecap="butt"/>
<line x1="1058.2" y1="688.33" x2="1058.2" y2="639.51" stroke="#d92a23" stroke-width="1.8" stroke-linecap="butt"/>
<line x1="1051.95" y1="688.33" x2="1064.45" y2="688.33" stroke="#d92a23" stroke-width="1.8" stroke-linecap="butt"/>
<line x1="1051.95" y1="639.51" x2="1064.45" y2="639.51" stroke="#d92a23" stroke-width="1.8" stroke-linecap="butt"/>
<polyline points="682.3,736.44 700.2,712.75 736,694.8 771.8,689.05 807.6,676.85 843.4,664.64 879.2,661.05 915,657.46 932.9,657.46 950.8,658.9 986.6,663.2 1022.4,662.49 1058.2,663.92" fill="none" stroke="#d92a23" stroke-width="2" stroke-linejoin="round"/>
<rect x="677.55" y="731.69" width="9.5" height="9.5" fill="#fff" stroke="#d92a23" stroke-width="2"/>
<rect x="695.45" y="708" width="9.5" height="9.5" fill="#fff" stroke="#d92a23" stroke-width="2"/>
<rect x="731.25" y="690.05" width="9.5" height="9.5" fill="#fff" stroke="#d92a23" stroke-width="2"/>
<rect x="767.05" y="684.3" width="9.5" height="9.5" fill="#fff" stroke="#d92a23" stroke-width="2"/>
<rect x="802.85" y="672.1" width="9.5" height="9.5" fill="#fff" stroke="#d92a23" stroke-width="2"/>
<rect x="838.65" y="659.89" width="9.5" height="9.5" fill="#fff" stroke="#d92a23" stroke-width="2"/>
<rect x="874.45" y="656.3" width="9.5" height="9.5" fill="#fff" stroke="#d92a23" stroke-width="2"/>
<rect x="910.25" y="652.71" width="9.5" height="9.5" fill="#fff" stroke="#d92a23" stroke-width="2"/>
<rect x="928.15" y="652.71" width="9.5" height="9.5" fill="#fff" stroke="#d92a23" stroke-width="2"/>
<rect x="946.05" y="654.15" width="9.5" height="9.5" fill="#fff" stroke="#d92a23" stroke-width="2"/>
<rect x="981.85" y="658.45" width="9.5" height="9.5" fill="#fff" stroke="#d92a23" stroke-width="2"/>
<rect x="1017.65" y="657.74" width="9.5" height="9.5" fill="#fff" stroke="#d92a23" stroke-width="2"/>
<rect x="1053.45" y="659.17" width="9.5" height="9.5" fill="#fff" stroke="#d92a23" stroke-width="2"/>
<text x="834.33" y="855.89" font-family="'Liberation Sans', Arial, sans-serif" font-size="29.52" fill="#000" textLength="143.03" lengthAdjust="spacingAndGlyphs">Time (min)</text>
<text transform="translate(608.76 756.01) rotate(-90)" x="0" y="0" font-family="'Liberation Sans', Arial, sans-serif" font-size="28.64" fill="#000" textLength="219.87" lengthAdjust="spacingAndGlyphs">GIR (mg/kg/min)</text>
<text x="1148.57" y="484.39" font-family="'Liberation Sans', Arial, sans-serif" font-size="39.71" font-weight="bold" fill="#000">g</text>
<line x1="1223.7" y1="525.6" x2="1223.7" y2="791.6" stroke="#000" stroke-width="3.5" stroke-linecap="butt"/>
<line x1="1213.45" y1="789.9" x2="1223.7" y2="789.9" stroke="#000" stroke-width="3.5" stroke-linecap="butt"/>
<text x="1196.75" y="797.92" font-family="'Liberation Sans', Arial, sans-serif" font-size="23.3" fill="#000">0</text>
<line x1="1213.45" y1="737.38" x2="1223.7" y2="737.38" stroke="#000" stroke-width="3.5" stroke-linecap="butt"/>
<text x="1183.79" y="745.4" font-family="'Liberation Sans', Arial, sans-serif" font-size="23.3" fill="#000">10</text>
<line x1="1213.45" y1="684.86" x2="1223.7" y2="684.86" stroke="#000" stroke-width="3.5" stroke-linecap="butt"/>
<text x="1183.79" y="692.88" font-family="'Liberation Sans', Arial, sans-serif" font-size="23.3" fill="#000">20</text>
<line x1="1213.45" y1="632.34" x2="1223.7" y2="632.34" stroke="#000" stroke-width="3.5" stroke-linecap="butt"/>
<text x="1183.79" y="640.36" font-family="'Liberation Sans', Arial, sans-serif" font-size="23.3" fill="#000">30</text>
<line x1="1213.45" y1="579.82" x2="1223.7" y2="579.82" stroke="#000" stroke-width="3.5" stroke-linecap="butt"/>
<text x="1183.79" y="587.84" font-family="'Liberation Sans', Arial, sans-serif" font-size="23.3" fill="#000">40</text>
<line x1="1213.45" y1="527.3" x2="1223.7" y2="527.3" stroke="#000" stroke-width="3.5" stroke-linecap="butt"/>
<text x="1183.79" y="535.32" font-family="'Liberation Sans', Arial, sans-serif" font-size="23.3" fill="#000">50</text>
<line x1="1216" y1="789.9" x2="1420" y2="789.9" stroke="#000" stroke-width="3.5" stroke-linecap="butt"/>
<rect x="1241.05" y="645.95" width="53.8" height="143.95" fill="none" stroke="#000" stroke-width="3.5"/>
<rect x="1328.55" y="700.35" width="53.7" height="89.55" fill="none" stroke="#d92a23" stroke-width="3.5"/>
<line x1="1268" y1="659.65" x2="1268" y2="628.14" stroke="#000" stroke-width="2" stroke-linecap="butt"/>
<line x1="1253.4" y1="659.65" x2="1282.6" y2="659.65" stroke="#000" stroke-width="2" stroke-linecap="butt"/>
<line x1="1253.4" y1="628.14" x2="1282.6" y2="628.14" stroke="#000" stroke-width="2" stroke-linecap="butt"/>
<line x1="1355.8" y1="714.27" x2="1355.8" y2="680.66" stroke="#d92a23" stroke-width="2" stroke-linecap="butt"/>
<line x1="1340.9" y1="714.27" x2="1370.7" y2="714.27" stroke="#d92a23" stroke-width="2" stroke-linecap="butt"/>
<line x1="1340.9" y1="680.66" x2="1370.7" y2="680.66" stroke="#d92a23" stroke-width="2" stroke-linecap="butt"/>
<circle cx="1268" cy="569.32" r="5.4" fill="#000" stroke="none" stroke-width="0"/>
<circle cx="1268" cy="612.38" r="5.4" fill="#000" stroke="none" stroke-width="0"/>
<circle cx="1247.8" cy="652.82" r="5.4" fill="#000" stroke="none" stroke-width="0"/>
<circle cx="1268" cy="650.72" r="5.4" fill="#000" stroke="none" stroke-width="0"/>
<circle cx="1288" cy="652.82" r="5.4" fill="#000" stroke="none" stroke-width="0"/>
<circle cx="1268" cy="678.56" r="5.4" fill="#000" stroke="none" stroke-width="0"/>
<circle cx="1268" cy="694.31" r="5.4" fill="#000" stroke="none" stroke-width="0"/>
<rect x="1350.75" y="630.42" width="9.1" height="9.1" fill="none" stroke="#d92a23" stroke-width="1.9"/>
<rect x="1350.75" y="645.12" width="9.1" height="9.1" fill="none" stroke="#d92a23" stroke-width="1.9"/>
<rect x="1340.95" y="682.41" width="9.1" height="9.1" fill="none" stroke="#d92a23" stroke-width="1.9"/>
<rect x="1360.45" y="691.34" width="9.1" height="9.1" fill="none" stroke="#d92a23" stroke-width="1.9"/>
<rect x="1340.95" y="716.02" width="9.1" height="9.1" fill="none" stroke="#d92a23" stroke-width="1.9"/>
<rect x="1360.45" y="718.12" width="9.1" height="9.1" fill="none" stroke="#d92a23" stroke-width="1.9"/>
<rect x="1350.75" y="769.59" width="9.1" height="9.1" fill="none" stroke="#d92a23" stroke-width="1.9"/>
<polyline points="1272,557 1272,549.8 1360.9,549.8 1360.9,612.3" fill="none" stroke="#000" stroke-width="1.6" stroke-linejoin="miter"/>
<text x="1310.65" y="547.18" font-family="'DejaVu Sans', sans-serif" font-size="20.46" font-weight="bold" fill="#000">*</text>
<text transform="translate(1170.46 767.74) rotate(-90)" x="0" y="0" font-family="'Liberation Sans', Arial, sans-serif" font-size="29.61" fill="#000" textLength="225.15" lengthAdjust="spacingAndGlyphs">GIR (mg/kg/min)</text>
<text x="1444.95" y="484.4" font-family="'Liberation Sans', Arial, sans-serif" font-size="36.71" font-weight="bold" fill="#000" textLength="26.65" lengthAdjust="spacingAndGlyphs">h</text>
<line x1="1507.9" y1="533.6" x2="1507.9" y2="794" stroke="#000" stroke-width="3.5" stroke-linecap="butt"/>
<line x1="1497.65" y1="792.3" x2="1507.9" y2="792.3" stroke="#000" stroke-width="3.5" stroke-linecap="butt"/>
<text x="1483.45" y="800.32" font-family="'Liberation Sans', Arial, sans-serif" font-size="23.3" fill="#000">0</text>
<line x1="1497.65" y1="728.05" x2="1507.9" y2="728.05" stroke="#000" stroke-width="3.5" stroke-linecap="butt"/>
<text x="1470.49" y="736.07" font-family="'Liberation Sans', Arial, sans-serif" font-size="23.3" fill="#000">10</text>
<line x1="1497.65" y1="663.8" x2="1507.9" y2="663.8" stroke="#000" stroke-width="3.5" stroke-linecap="butt"/>
<text x="1470.49" y="671.82" font-family="'Liberation Sans', Arial, sans-serif" font-size="23.3" fill="#000">20</text>
<line x1="1497.65" y1="599.55" x2="1507.9" y2="599.55" stroke="#000" stroke-width="3.5" stroke-linecap="butt"/>
<text x="1470.49" y="607.57" font-family="'Liberation Sans', Arial, sans-serif" font-size="23.3" fill="#000">30</text>
<line x1="1497.65" y1="535.3" x2="1507.9" y2="535.3" stroke="#000" stroke-width="3.5" stroke-linecap="butt"/>
<text x="1470.49" y="543.32" font-family="'Liberation Sans', Arial, sans-serif" font-size="23.3" fill="#000">40</text>
<line x1="1498.5" y1="792.3" x2="1680.5" y2="792.3" stroke="#000" stroke-width="3.5" stroke-linecap="butt"/>
<rect x="1524.35" y="630.25" width="52.4" height="162.05" fill="none" stroke="#000" stroke-width="3.5"/>
<rect x="1609.05" y="668.75" width="53" height="123.55" fill="none" stroke="#d92a23" stroke-width="3.5"/>
<line x1="1550.3" y1="636.81" x2="1550.3" y2="618.18" stroke="#000" stroke-width="2" stroke-linecap="butt"/>
<line x1="1536.3" y1="636.81" x2="1564.3" y2="636.81" stroke="#000" stroke-width="2" stroke-linecap="butt"/>
<line x1="1536.3" y1="618.18" x2="1564.3" y2="618.18" stroke="#000" stroke-width="2" stroke-linecap="butt"/>
<line x1="1636" y1="680.5" x2="1636" y2="653.52" stroke="#d92a23" stroke-width="2" stroke-linecap="butt"/>
<line x1="1621.5" y1="680.5" x2="1650.5" y2="680.5" stroke="#d92a23" stroke-width="2" stroke-linecap="butt"/>
<line x1="1621.5" y1="653.52" x2="1650.5" y2="653.52" stroke="#d92a23" stroke-width="2" stroke-linecap="butt"/>
<circle cx="1550.3" cy="599.55" r="5.4" fill="#000" stroke="none" stroke-width="0"/>
<circle cx="1550.3" cy="614.33" r="5.4" fill="#000" stroke="none" stroke-width="0"/>
<circle cx="1570.4" cy="610.47" r="5.4" fill="#000" stroke="none" stroke-width="0"/>
<circle cx="1531.9" cy="628.46" r="5.4" fill="#000" stroke="none" stroke-width="0"/>
<circle cx="1550.3" cy="638.1" r="5.4" fill="#000" stroke="none" stroke-width="0"/>
<circle cx="1570.4" cy="634.89" r="5.4" fill="#000" stroke="none" stroke-width="0"/>
<circle cx="1550.3" cy="667.01" r="5.4" fill="#000" stroke="none" stroke-width="0"/>
<rect x="1631.55" y="588.58" width="9.1" height="9.1" fill="none" stroke="#d92a23" stroke-width="1.9"/>
<rect x="1611.45" y="662.46" width="9.1" height="9.1" fill="none" stroke="#d92a23" stroke-width="1.9"/>
<rect x="1631.55" y="661.82" width="9.1" height="9.1" fill="none" stroke="#d92a23" stroke-width="1.9"/>
<rect x="1650.85" y="657.97" width="9.1" height="9.1" fill="none" stroke="#d92a23" stroke-width="1.9"/>
<rect x="1650.85" y="670.17" width="9.1" height="9.1" fill="none" stroke="#d92a23" stroke-width="1.9"/>
<rect x="1631.55" y="682.38" width="9.1" height="9.1" fill="none" stroke="#d92a23" stroke-width="1.9"/>
<rect x="1631.55" y="710.01" width="9.1" height="9.1" fill="none" stroke="#d92a23" stroke-width="1.9"/>
<polyline points="1550.3,573.2 1550.3,544.2 1637,544.2 1637,577.7" fill="none" stroke="#000" stroke-width="1.6" stroke-linejoin="miter"/>
<text x="1589.35" y="541.08" font-family="'DejaVu Sans', sans-serif" font-size="20.46" font-weight="bold" fill="#000">*</text>
<text transform="translate(1458.48 759.41) rotate(-90)" x="0" y="0" font-family="'Liberation Sans', Arial, sans-serif" font-size="28.54" fill="#000" textLength="217.79" lengthAdjust="spacingAndGlyphs">Rd (mg/kg/min)</text>
<text x="1732.3" y="484.4" font-family="'Liberation Sans', Arial, sans-serif" font-size="38.78" font-weight="bold" fill="#000" textLength="11.95" lengthAdjust="spacingAndGlyphs">i</text>
<line x1="1804.9" y1="527.7" x2="1804.9" y2="794" stroke="#000" stroke-width="3.5" stroke-linecap="butt"/>
<line x1="1794.65" y1="792.3" x2="1804.9" y2="792.3" stroke="#000" stroke-width="3.5" stroke-linecap="butt"/>
<text x="1779.55" y="800.32" font-family="'Liberation Sans', Arial, sans-serif" font-size="23.3" fill="#000">0</text>
<line x1="1794.65" y1="739.72" x2="1804.9" y2="739.72" stroke="#000" stroke-width="3.5" stroke-linecap="butt"/>
<text x="1779.62" y="747.62" font-family="'Liberation Sans', Arial, sans-serif" font-size="23.3" fill="#000">5</text>
<line x1="1794.65" y1="687.14" x2="1804.9" y2="687.14" stroke="#000" stroke-width="3.5" stroke-linecap="butt"/>
<text x="1766.59" y="695.16" font-family="'Liberation Sans', Arial, sans-serif" font-size="23.3" fill="#000">10</text>
<line x1="1794.65" y1="634.56" x2="1804.9" y2="634.56" stroke="#000" stroke-width="3.5" stroke-linecap="butt"/>
<text x="1766.66" y="642.46" font-family="'Liberation Sans', Arial, sans-serif" font-size="23.3" fill="#000">15</text>
<line x1="1794.65" y1="581.98" x2="1804.9" y2="581.98" stroke="#000" stroke-width="3.5" stroke-linecap="butt"/>
<text x="1766.59" y="590" font-family="'Liberation Sans', Arial, sans-serif" font-size="23.3" fill="#000">20</text>
<line x1="1794.65" y1="529.4" x2="1804.9" y2="529.4" stroke="#000" stroke-width="3.5" stroke-linecap="butt"/>
<text x="1766.66" y="537.42" font-family="'Liberation Sans', Arial, sans-serif" font-size="23.3" fill="#000">25</text>
<line x1="1796" y1="792.3" x2="1982.5" y2="792.3" stroke="#000" stroke-width="3.5" stroke-linecap="butt"/>
<rect x="1821.05" y="630.25" width="54.2" height="162.05" fill="none" stroke="#000" stroke-width="3.5"/>
<rect x="1908.65" y="657.75" width="53.9" height="134.55" fill="none" stroke="#d92a23" stroke-width="3.5"/>
<line x1="1848.5" y1="635.61" x2="1848.5" y2="618.79" stroke="#000" stroke-width="2" stroke-linecap="butt"/>
<line x1="1834" y1="635.61" x2="1863" y2="635.61" stroke="#000" stroke-width="2" stroke-linecap="butt"/>
<line x1="1834" y1="618.79" x2="1863" y2="618.79" stroke="#000" stroke-width="2" stroke-linecap="butt"/>
<line x1="1935.5" y1="666.11" x2="1935.5" y2="644.02" stroke="#d92a23" stroke-width="2" stroke-linecap="butt"/>
<line x1="1921.5" y1="666.11" x2="1949.5" y2="666.11" stroke="#d92a23" stroke-width="2" stroke-linecap="butt"/>
<line x1="1921.5" y1="644.02" x2="1949.5" y2="644.02" stroke="#d92a23" stroke-width="2" stroke-linecap="butt"/>
<circle cx="1848.7" cy="586.19" r="5.4" fill="#000" stroke="none" stroke-width="0"/>
<circle cx="1840.4" cy="620.89" r="5.4" fill="#000" stroke="none" stroke-width="0"/>
<circle cx="1823.5" cy="628.25" r="5.4" fill="#000" stroke="none" stroke-width="0"/>
<circle cx="1848.7" cy="631.41" r="5.4" fill="#000" stroke="none" stroke-width="0"/>
<circle cx="1872.8" cy="627.2" r="5.4" fill="#000" stroke="none" stroke-width="0"/>
<circle cx="1856.7" cy="638.77" r="5.4" fill="#000" stroke="none" stroke-width="0"/>
<circle cx="1848.7" cy="652.44" r="5.4" fill="#000" stroke="none" stroke-width="0"/>
<rect x="1931.35" y="614.24" width="9.1" height="9.1" fill="none" stroke="#d92a23" stroke-width="1.9"/>
<rect x="1912.05" y="637.37" width="9.1" height="9.1" fill="none" stroke="#d92a23" stroke-width="1.9"/>
<rect x="1950.65" y="640.53" width="9.1" height="9.1" fill="none" stroke="#d92a23" stroke-width="1.9"/>
<rect x="1931.35" y="644.73" width="9.1" height="9.1" fill="none" stroke="#d92a23" stroke-width="1.9"/>
<rect x="1950.65" y="654.2" width="9.1" height="9.1" fill="none" stroke="#d92a23" stroke-width="1.9"/>
<rect x="1931.35" y="661.56" width="9.1" height="9.1" fill="none" stroke="#d92a23" stroke-width="1.9"/>
<rect x="1931.35" y="706.78" width="9.1" height="9.1" fill="none" stroke="#d92a23" stroke-width="1.9"/>
<polyline points="1848.7,564.3 1848.7,557.5 1939,557.5 1939,589.5" fill="none" stroke="#000" stroke-width="1.6" stroke-linejoin="miter"/>
<text x="1888.35" y="555.88" font-family="'DejaVu Sans', sans-serif" font-size="20.46" font-weight="bold" fill="#000">*</text>
<text transform="translate(1753.06 805.48) rotate(-90)" x="0" y="0" font-family="'Liberation Sans', Arial, sans-serif" font-size="28.64" fill="#000" textLength="300.78" lengthAdjust="spacingAndGlyphs">glycolysis (mg/kg/min)</text>
<text x="50.81" y="926.35" font-family="'Liberation Sans', Arial, sans-serif" font-size="38.3" font-weight="bold" fill="#000" textLength="14.32" lengthAdjust="spacingAndGlyphs">j</text>
<line x1="118" y1="979" x2="118" y2="1243.3" stroke="#000" stroke-width="3.5" stroke-linecap="butt"/>
<line x1="107.75" y1="980.6" x2="118" y2="980.6" stroke="#000" stroke-width="3.5" stroke-linecap="butt"/>
<text x="80.79" y="988.62" font-family="'Liberation Sans', Arial, sans-serif" font-size="23.3" fill="#000">20</text>
<line x1="107.75" y1="1045.8" x2="118" y2="1045.8" stroke="#000" stroke-width="3.5" stroke-linecap="butt"/>
<text x="80.79" y="1053.82" font-family="'Liberation Sans', Arial, sans-serif" font-size="23.3" fill="#000">10</text>
<line x1="107.75" y1="1111" x2="118" y2="1111" stroke="#000" stroke-width="3.5" stroke-linecap="butt"/>
<text x="93.75" y="1119.02" font-family="'Liberation Sans', Arial, sans-serif" font-size="23.3" fill="#000">0</text>
<line x1="107.75" y1="1176.2" x2="118" y2="1176.2" stroke="#000" stroke-width="3.5" stroke-linecap="butt"/>
<text x="73.03" y="1184.22" font-family="'Liberation Sans', Arial, sans-serif" font-size="23.3" fill="#000">-10</text>
<line x1="107.75" y1="1241.4" x2="118" y2="1241.4" stroke="#000" stroke-width="3.5" stroke-linecap="butt"/>
<text x="73.03" y="1249.42" font-family="'Liberation Sans', Arial, sans-serif" font-size="23.3" fill="#000">-20</text>
<line x1="117.2" y1="1241.6" x2="511.7" y2="1241.6" stroke="#000" stroke-width="3.5" stroke-linecap="butt"/>
<line x1="216.4" y1="1241.6" x2="216.4" y2="1249.35" stroke="#000" stroke-width="3.5" stroke-linecap="butt"/>
<line x1="411.1" y1="1241.6" x2="411.1" y2="1249.35" stroke="#000" stroke-width="3.5" stroke-linecap="butt"/>
<text x="182.11" y="1277.13" font-family="'Liberation Sans', Arial, sans-serif" font-size="27.23" fill="#000" textLength="69.86" lengthAdjust="spacingAndGlyphs">Basal</text>
<text x="371.52" y="1276.52" font-family="'Liberation Sans', Arial, sans-serif" font-size="26.39" fill="#000" textLength="84.2" lengthAdjust="spacingAndGlyphs">Clamp</text>
<rect x="157.95" y="1026.04" width="45.1" height="84.96" fill="none" stroke="#000" stroke-width="3.5"/>
<rect x="230.85" y="1029.3" width="45.1" height="81.7" fill="none" stroke="#d92a23" stroke-width="3.5"/>
<rect x="352.35" y="1111" width="45.7" height="11.64" fill="none" stroke="#000" stroke-width="3.5"/>
<rect x="425.85" y="1097.76" width="45.1" height="13.24" fill="none" stroke="#d92a23" stroke-width="3.5"/>
<line x1="110" y1="1111" x2="503" y2="1111" stroke="#000" stroke-width="3.5" stroke-linecap="butt" stroke-dasharray="10.5,5.5"/>
<line x1="180.3" y1="1030.15" x2="180.3" y2="1019.07" stroke="#000" stroke-width="2" stroke-linecap="butt"/>
<line x1="168.3" y1="1030.15" x2="192.3" y2="1030.15" stroke="#000" stroke-width="2" stroke-linecap="butt"/>
<line x1="168.3" y1="1019.07" x2="192.3" y2="1019.07" stroke="#000" stroke-width="2" stroke-linecap="butt"/>
<line x1="253" y1="1037.32" x2="253" y2="1020.37" stroke="#d92a23" stroke-width="2" stroke-linecap="butt"/>
<line x1="240" y1="1037.32" x2="266" y2="1037.32" stroke="#d92a23" stroke-width="2" stroke-linecap="butt"/>
<line x1="240" y1="1020.37" x2="266" y2="1020.37" stroke="#d92a23" stroke-width="2" stroke-linecap="butt"/>
<line x1="375.4" y1="1142.3" x2="375.4" y2="1107.28" stroke="#000" stroke-width="2" stroke-linecap="butt"/>
<line x1="363.65" y1="1142.3" x2="387.15" y2="1142.3" stroke="#000" stroke-width="2" stroke-linecap="butt"/>
<line x1="363.65" y1="1107.28" x2="387.15" y2="1107.28" stroke="#000" stroke-width="2" stroke-linecap="butt"/>
<line x1="448" y1="1112.96" x2="448" y2="1083.62" stroke="#d92a23" stroke-width="2" stroke-linecap="butt"/>
<line x1="436" y1="1112.96" x2="460" y2="1112.96" stroke="#d92a23" stroke-width="2" stroke-linecap="butt"/>
<line x1="436" y1="1083.62" x2="460" y2="1083.62" stroke="#d92a23" stroke-width="2" stroke-linecap="butt"/>
<circle cx="161" cy="1007.98" r="5.4" fill="#000" stroke="none" stroke-width="0"/>
<circle cx="180.1" cy="1016.46" r="5.4" fill="#000" stroke="none" stroke-width="0"/>
<circle cx="200.1" cy="1013.85" r="5.4" fill="#000" stroke="none" stroke-width="0"/>
<circle cx="161" cy="1024.28" r="5.4" fill="#000" stroke="none" stroke-width="0"/>
<circle cx="200.1" cy="1024.94" r="5.4" fill="#000" stroke="none" stroke-width="0"/>
<circle cx="180.1" cy="1032.76" r="5.4" fill="#000" stroke="none" stroke-width="0"/>
<circle cx="180.1" cy="1049.71" r="5.4" fill="#000" stroke="none" stroke-width="0"/>
<rect x="248.45" y="990.39" width="9.1" height="9.1" fill="none" stroke="#d92a23" stroke-width="1.9"/>
<rect x="229.25" y="1011.26" width="9.1" height="9.1" fill="none" stroke="#d92a23" stroke-width="1.9"/>
<rect x="248.45" y="1016.47" width="9.1" height="9.1" fill="none" stroke="#d92a23" stroke-width="1.9"/>
<rect x="229.25" y="1021.69" width="9.1" height="9.1" fill="none" stroke="#d92a23" stroke-width="1.9"/>
<rect x="267.85" y="1025.6" width="9.1" height="9.1" fill="none" stroke="#d92a23" stroke-width="1.9"/>
<rect x="248.45" y="1044.51" width="9.1" height="9.1" fill="none" stroke="#d92a23" stroke-width="1.9"/>
<rect x="248.45" y="1060.81" width="9.1" height="9.1" fill="none" stroke="#d92a23" stroke-width="1.9"/>
<circle cx="355.9" cy="1097.96" r="5.4" fill="#000" stroke="none" stroke-width="0"/>
<circle cx="375.4" cy="1089.48" r="5.4" fill="#000" stroke="none" stroke-width="0"/>
<circle cx="394.5" cy="1089.48" r="5.4" fill="#000" stroke="none" stroke-width="0"/>
<circle cx="375.4" cy="1105.13" r="5.4" fill="#000" stroke="none" stroke-width="0"/>
<circle cx="375.4" cy="1124.69" r="5.4" fill="#000" stroke="none" stroke-width="0"/>
<circle cx="375.4" cy="1150.12" r="5.4" fill="#000" stroke="none" stroke-width="0"/>
<circle cx="375.4" cy="1218.58" r="5.4" fill="#000" stroke="none" stroke-width="0"/>
<rect x="443.45" y="1047.77" width="9.1" height="9.1" fill="none" stroke="#d92a23" stroke-width="1.9"/>
<rect x="443.45" y="1067.98" width="9.1" height="9.1" fill="none" stroke="#d92a23" stroke-width="1.9"/>
<rect x="434.25" y="1077.11" width="9.1" height="9.1" fill="none" stroke="#d92a23" stroke-width="1.9"/>
<rect x="452.85" y="1082.98" width="9.1" height="9.1" fill="none" stroke="#d92a23" stroke-width="1.9"/>
<rect x="434.25" y="1088.85" width="9.1" height="9.1" fill="none" stroke="#d92a23" stroke-width="1.9"/>
<rect x="443.45" y="1103.84" width="9.1" height="9.1" fill="none" stroke="#d92a23" stroke-width="1.9"/>
<rect x="443.45" y="1178.17" width="9.1" height="9.1" fill="none" stroke="#d92a23" stroke-width="1.9"/>
<circle cx="368.8" cy="982.9" r="5.3" fill="#000" stroke="none" stroke-width="0"/>
<text x="384.76" y="991.26" font-family="'Liberation Sans', Arial, sans-serif" font-size="24.29" fill="#000" textLength="46.64" lengthAdjust="spacingAndGlyphs">GFP</text>
<text x="434.06" y="981.36" font-family="'Liberation Sans', Arial, sans-serif" font-size="14.45" fill="#000" textLength="21.22" lengthAdjust="spacingAndGlyphs">sf1</text>
<rect x="364.95" y="1006.15" width="7.7" height="7.7" fill="none" stroke="#d92a23" stroke-width="1.9"/>
<text x="387.18" y="1018.46" font-family="'Liberation Sans', Arial, sans-serif" font-size="24.29" fill="#000">cPLA2KD</text>
<text x="489.86" y="1000.46" font-family="'Liberation Sans', Arial, sans-serif" font-size="14.45" fill="#000" textLength="21.22" lengthAdjust="spacingAndGlyphs">sf1</text>
<text transform="translate(62.57 1218.5) rotate(-90)" x="0" y="0" font-family="'Liberation Sans', Arial, sans-serif" font-size="29.07" fill="#000" textLength="233.38" lengthAdjust="spacingAndGlyphs">EGP (mg/kg/min)</text>
<text x="583.68" y="927.4" font-family="'Liberation Sans', Arial, sans-serif" font-size="40.16" font-weight="bold" fill="#000" textLength="20.89" lengthAdjust="spacingAndGlyphs">k</text>
<line x1="658" y1="992.4" x2="658" y2="1256.4" stroke="#000" stroke-width="3.5" stroke-linecap="butt"/>
<line x1="647.75" y1="1254.7" x2="658" y2="1254.7" stroke="#000" stroke-width="3.5" stroke-linecap="butt"/>
<text x="633.45" y="1262.72" font-family="'Liberation Sans', Arial, sans-serif" font-size="23.3" fill="#000">0</text>
<line x1="647.75" y1="1202.58" x2="658" y2="1202.58" stroke="#000" stroke-width="3.5" stroke-linecap="butt"/>
<text x="620.49" y="1210.6" font-family="'Liberation Sans', Arial, sans-serif" font-size="23.3" fill="#000">50</text>
<line x1="647.75" y1="1150.46" x2="658" y2="1150.46" stroke="#000" stroke-width="3.5" stroke-linecap="butt"/>
<text x="607.54" y="1158.48" font-family="'Liberation Sans', Arial, sans-serif" font-size="23.3" fill="#000">100</text>
<line x1="647.75" y1="1098.34" x2="658" y2="1098.34" stroke="#000" stroke-width="3.5" stroke-linecap="butt"/>
<text x="607.54" y="1106.36" font-family="'Liberation Sans', Arial, sans-serif" font-size="23.3" fill="#000">150</text>
<line x1="647.75" y1="1046.22" x2="658" y2="1046.22" stroke="#000" stroke-width="3.5" stroke-linecap="butt"/>
<text x="607.54" y="1054.24" font-family="'Liberation Sans', Arial, sans-serif" font-size="23.3" fill="#000">200</text>
<line x1="647.75" y1="994.1" x2="658" y2="994.1" stroke="#000" stroke-width="3.5" stroke-linecap="butt"/>
<text x="607.54" y="1002.12" font-family="'Liberation Sans', Arial, sans-serif" font-size="23.3" fill="#000">250</text>
<line x1="649.8" y1="1254.7" x2="833.3" y2="1254.7" stroke="#000" stroke-width="1.8" stroke-linecap="butt"/>
<rect x="675.35" y="1137.66" width="52.9" height="117.04" fill="none" stroke="#000" stroke-width="3.5"/>
<rect x="761.45" y="1173.1" width="53.4" height="81.6" fill="none" stroke="#d92a23" stroke-width="3.5"/>
<line x1="702" y1="1156.71" x2="702" y2="1113.56" stroke="#000" stroke-width="2" stroke-linecap="butt"/>
<line x1="687" y1="1156.71" x2="717" y2="1156.71" stroke="#000" stroke-width="2" stroke-linecap="butt"/>
<line x1="687" y1="1113.56" x2="717" y2="1113.56" stroke="#000" stroke-width="2" stroke-linecap="butt"/>
<line x1="788.2" y1="1194.24" x2="788.2" y2="1150.15" stroke="#d92a23" stroke-width="2" stroke-linecap="butt"/>
<line x1="773.2" y1="1194.24" x2="803.2" y2="1194.24" stroke="#d92a23" stroke-width="2" stroke-linecap="butt"/>
<line x1="773.2" y1="1150.15" x2="803.2" y2="1150.15" stroke="#d92a23" stroke-width="2" stroke-linecap="butt"/>
<circle cx="702" cy="1021.2" r="5.4" fill="#000" stroke="none" stroke-width="0"/>
<circle cx="702" cy="1108.76" r="5.4" fill="#000" stroke="none" stroke-width="0"/>
<circle cx="702" cy="1132.74" r="5.4" fill="#000" stroke="none" stroke-width="0"/>
<circle cx="702" cy="1157.76" r="5.4" fill="#000" stroke="none" stroke-width="0"/>
<circle cx="702" cy="1172.35" r="5.4" fill="#000" stroke="none" stroke-width="0"/>
<circle cx="682.8" cy="1179.65" r="5.4" fill="#000" stroke="none" stroke-width="0"/>
<circle cx="721.3" cy="1173.39" r="5.4" fill="#000" stroke="none" stroke-width="0"/>
<rect x="783.75" y="1063.56" width="9.1" height="9.1" fill="none" stroke="#d92a23" stroke-width="1.9"/>
<rect x="783.75" y="1146.95" width="9.1" height="9.1" fill="none" stroke="#d92a23" stroke-width="1.9"/>
<rect x="783.75" y="1159.46" width="9.1" height="9.1" fill="none" stroke="#d92a23" stroke-width="1.9"/>
<rect x="774.05" y="1182.39" width="9.1" height="9.1" fill="none" stroke="#d92a23" stroke-width="1.9"/>
<rect x="793.15" y="1174.05" width="9.1" height="9.1" fill="none" stroke="#d92a23" stroke-width="1.9"/>
<rect x="793.15" y="1186.56" width="9.1" height="9.1" fill="none" stroke="#d92a23" stroke-width="1.9"/>
<rect x="783.75" y="1250.15" width="9.1" height="9.1" fill="none" stroke="#d92a23" stroke-width="1.9"/>
<polyline points="704.7,990.9 704.7,985.1 795.2,985.1 795.2,1028.6" fill="none" stroke="#000" stroke-width="1.6" stroke-linejoin="miter"/>
<text x="725.72" y="977.75" font-family="'Liberation Sans', Arial, sans-serif" font-size="25.55" fill="#000" textLength="38.24" lengthAdjust="spacingAndGlyphs">n.s.</text>
<text transform="translate(596.19 1263.46) rotate(-90)" x="0" y="0" font-family="'Liberation Sans', Arial, sans-serif" font-size="29.93" fill="#000" textLength="308.77" lengthAdjust="spacingAndGlyphs">Suppression of EGP  (%)</text>
<text x="901.54" y="926.3" font-family="'Liberation Sans', Arial, sans-serif" font-size="38.64" font-weight="bold" fill="#000" textLength="12.96" lengthAdjust="spacingAndGlyphs">l</text>
<text x="1052.02" y="952.93" font-family="'Liberation Sans', Arial, sans-serif" font-size="27.4" fill="#000" textLength="38.05" lengthAdjust="spacingAndGlyphs">GR</text>
<line x1="988.7" y1="983.4" x2="988.7" y2="1260" stroke="#000" stroke-width="3.5" stroke-linecap="butt"/>
<line x1="978.45" y1="1258.3" x2="988.7" y2="1258.3" stroke="#000" stroke-width="3.5" stroke-linecap="butt"/>
<text x="960.55" y="1266.32" font-family="'Liberation Sans', Arial, sans-serif" font-size="23.3" fill="#000">0</text>
<line x1="978.45" y1="1167.23" x2="988.7" y2="1167.23" stroke="#000" stroke-width="3.5" stroke-linecap="butt"/>
<text x="934.64" y="1175.25" font-family="'Liberation Sans', Arial, sans-serif" font-size="23.3" fill="#000">100</text>
<line x1="978.45" y1="1076.17" x2="988.7" y2="1076.17" stroke="#000" stroke-width="3.5" stroke-linecap="butt"/>
<text x="934.64" y="1084.19" font-family="'Liberation Sans', Arial, sans-serif" font-size="23.3" fill="#000">200</text>
<line x1="978.45" y1="985.1" x2="988.7" y2="985.1" stroke="#000" stroke-width="3.5" stroke-linecap="butt"/>
<text x="934.64" y="993.12" font-family="'Liberation Sans', Arial, sans-serif" font-size="23.3" fill="#000">300</text>
<line x1="980" y1="1258.3" x2="1172.2" y2="1258.3" stroke="#000" stroke-width="3.5" stroke-linecap="butt"/>
<rect x="1005.65" y="1104.75" width="56.2" height="153.55" fill="none" stroke="#000" stroke-width="3.5"/>
<rect x="1096.05" y="1183.25" width="56.7" height="75.05" fill="none" stroke="#d92a23" stroke-width="3.5"/>
<line x1="1033.7" y1="1125.5" x2="1033.7" y2="1080.3" stroke="#000" stroke-width="2" stroke-linecap="butt"/>
<line x1="1017.85" y1="1125.5" x2="1049.55" y2="1125.5" stroke="#000" stroke-width="2" stroke-linecap="butt"/>
<line x1="1017.85" y1="1080.3" x2="1049.55" y2="1080.3" stroke="#000" stroke-width="2" stroke-linecap="butt"/>
<line x1="1124.6" y1="1204" x2="1124.6" y2="1157.8" stroke="#d92a23" stroke-width="2" stroke-linecap="butt"/>
<line x1="1108.7" y1="1204" x2="1140.5" y2="1204" stroke="#d92a23" stroke-width="2" stroke-linecap="butt"/>
<line x1="1108.7" y1="1157.8" x2="1140.5" y2="1157.8" stroke="#d92a23" stroke-width="2" stroke-linecap="butt"/>
<circle cx="1033.5" cy="1040.4" r="5.4" fill="#000" stroke="none" stroke-width="0"/>
<circle cx="1033.5" cy="1056.6" r="5.4" fill="#000" stroke="none" stroke-width="0"/>
<circle cx="1033.5" cy="1083.5" r="5.4" fill="#000" stroke="none" stroke-width="0"/>
<circle cx="1033.5" cy="1099.6" r="5.4" fill="#000" stroke="none" stroke-width="0"/>
<circle cx="1033.5" cy="1155.2" r="5.4" fill="#000" stroke="none" stroke-width="0"/>
<circle cx="1033.5" cy="1181.9" r="5.4" fill="#000" stroke="none" stroke-width="0"/>
<rect x="1119.85" y="1071.85" width="9.1" height="9.1" fill="none" stroke="#d92a23" stroke-width="1.9"/>
<rect x="1119.85" y="1108.45" width="9.1" height="9.1" fill="none" stroke="#d92a23" stroke-width="1.9"/>
<rect x="1099.45" y="1195.85" width="9.1" height="9.1" fill="none" stroke="#d92a23" stroke-width="1.9"/>
<rect x="1119.85" y="1203.85" width="9.1" height="9.1" fill="none" stroke="#d92a23" stroke-width="1.9"/>
<rect x="1139.85" y="1202.35" width="9.1" height="9.1" fill="none" stroke="#d92a23" stroke-width="1.9"/>
<rect x="1119.85" y="1221.05" width="9.1" height="9.1" fill="none" stroke="#d92a23" stroke-width="1.9"/>
<rect x="1119.85" y="1232.25" width="9.1" height="9.1" fill="none" stroke="#d92a23" stroke-width="1.9"/>
<polyline points="1032.2,1016 1032.2,1008.8 1125,1008.8 1125,1052.3" fill="none" stroke="#000" stroke-width="1.6" stroke-linejoin="miter"/>
<text x="1072.54" y="1004.2" font-family="'DejaVu Sans', sans-serif" font-size="20.89" font-weight="bold" fill="#000">*</text>
<text transform="translate(924.37 1303.08) rotate(-90)" x="0" y="0" font-family="'Liberation Sans', Arial, sans-serif" font-size="30.04" fill="#000" textLength="350.73" lengthAdjust="spacingAndGlyphs">2DG uptake (nmol/g/min)</text>
<text x="1207.14" y="927.4" font-family="'Liberation Sans', Arial, sans-serif" font-size="38.81" font-weight="bold" fill="#000" textLength="37.26" lengthAdjust="spacingAndGlyphs">m</text>
<text x="1344.45" y="952.8" font-family="'Liberation Sans', Arial, sans-serif" font-size="28.78" fill="#000" textLength="75.55" lengthAdjust="spacingAndGlyphs">EWAT</text>
<line x1="1289.7" y1="996.3" x2="1289.7" y2="1259.6" stroke="#000" stroke-width="3.5" stroke-linecap="butt"/>
<line x1="1279.45" y1="1257.9" x2="1289.7" y2="1257.9" stroke="#000" stroke-width="3.5" stroke-linecap="butt"/>
<text x="1265.05" y="1265.92" font-family="'Liberation Sans', Arial, sans-serif" font-size="23.3" fill="#000">0</text>
<line x1="1279.45" y1="1205.92" x2="1289.7" y2="1205.92" stroke="#000" stroke-width="3.5" stroke-linecap="butt"/>
<text x="1265.12" y="1213.82" font-family="'Liberation Sans', Arial, sans-serif" font-size="23.3" fill="#000">5</text>
<line x1="1279.45" y1="1153.94" x2="1289.7" y2="1153.94" stroke="#000" stroke-width="3.5" stroke-linecap="butt"/>
<text x="1252.09" y="1161.96" font-family="'Liberation Sans', Arial, sans-serif" font-size="23.3" fill="#000">10</text>
<line x1="1279.45" y1="1101.96" x2="1289.7" y2="1101.96" stroke="#000" stroke-width="3.5" stroke-linecap="butt"/>
<text x="1252.16" y="1109.86" font-family="'Liberation Sans', Arial, sans-serif" font-size="23.3" fill="#000">15</text>
<line x1="1279.45" y1="1049.98" x2="1289.7" y2="1049.98" stroke="#000" stroke-width="3.5" stroke-linecap="butt"/>
<text x="1252.09" y="1058" font-family="'Liberation Sans', Arial, sans-serif" font-size="23.3" fill="#000">20</text>
<line x1="1279.45" y1="998" x2="1289.7" y2="998" stroke="#000" stroke-width="3.5" stroke-linecap="butt"/>
<text x="1252.16" y="1006.02" font-family="'Liberation Sans', Arial, sans-serif" font-size="23.3" fill="#000">25</text>
<line x1="1281.5" y1="1257.9" x2="1465.8" y2="1257.9" stroke="#000" stroke-width="3.5" stroke-linecap="butt"/>
<rect x="1306.55" y="1203.95" width="53.7" height="53.95" fill="none" stroke="#000" stroke-width="3.5"/>
<rect x="1393.25" y="1214.55" width="53.7" height="43.35" fill="none" stroke="#d92a23" stroke-width="3.5"/>
<line x1="1333.3" y1="1225.7" x2="1333.3" y2="1177.8" stroke="#000" stroke-width="2" stroke-linecap="butt"/>
<line x1="1318.4" y1="1225.7" x2="1348.2" y2="1225.7" stroke="#000" stroke-width="2" stroke-linecap="butt"/>
<line x1="1318.4" y1="1177.8" x2="1348.2" y2="1177.8" stroke="#000" stroke-width="2" stroke-linecap="butt"/>
<line x1="1419.6" y1="1246.2" x2="1419.6" y2="1178.5" stroke="#d92a23" stroke-width="2" stroke-linecap="butt"/>
<line x1="1404.35" y1="1246.2" x2="1434.85" y2="1246.2" stroke="#d92a23" stroke-width="2" stroke-linecap="butt"/>
<line x1="1404.35" y1="1178.5" x2="1434.85" y2="1178.5" stroke="#d92a23" stroke-width="2" stroke-linecap="butt"/>
<circle cx="1333" cy="1095.1" r="5.4" fill="#000" stroke="none" stroke-width="0"/>
<circle cx="1333" cy="1172.3" r="5.4" fill="#000" stroke="none" stroke-width="0"/>
<circle cx="1323.5" cy="1226.3" r="5.4" fill="#000" stroke="none" stroke-width="0"/>
<circle cx="1342.9" cy="1225.9" r="5.4" fill="#000" stroke="none" stroke-width="0"/>
<circle cx="1323.5" cy="1246.2" r="5.4" fill="#000" stroke="none" stroke-width="0"/>
<circle cx="1342.9" cy="1244" r="5.4" fill="#000" stroke="none" stroke-width="0"/>
<rect x="1414.85" y="1010.45" width="9.1" height="9.1" fill="none" stroke="#d92a23" stroke-width="1.9"/>
<rect x="1414.85" y="1188.75" width="9.1" height="9.1" fill="none" stroke="#d92a23" stroke-width="1.9"/>
<rect x="1403.45" y="1243.45" width="9.1" height="9.1" fill="none" stroke="#d92a23" stroke-width="1.9"/>
<rect x="1391.05" y="1253.45" width="9.1" height="9.1" fill="none" stroke="#d92a23" stroke-width="1.9"/>
<rect x="1414.85" y="1253.45" width="9.1" height="9.1" fill="none" stroke="#d92a23" stroke-width="1.9"/>
<rect x="1427.05" y="1250.05" width="9.1" height="9.1" fill="none" stroke="#d92a23" stroke-width="1.9"/>
<rect x="1439.15" y="1253.45" width="9.1" height="9.1" fill="none" stroke="#d92a23" stroke-width="1.9"/>
<text transform="translate(1237.35 1304.87) rotate(-90)" x="0" y="0" font-family="'Liberation Sans', Arial, sans-serif" font-size="27.25" fill="#000" textLength="348.5" lengthAdjust="spacingAndGlyphs">2DG uptake (nmol/g/min)</text>
<text x="1528.2" y="927.4" font-family="'Liberation Sans', Arial, sans-serif" font-size="38.81" font-weight="bold" fill="#000" textLength="25.05" lengthAdjust="spacingAndGlyphs">n</text>
<text x="1659.13" y="952.53" font-family="'Liberation Sans', Arial, sans-serif" font-size="27.97" fill="#000" textLength="84.98" lengthAdjust="spacingAndGlyphs">Cortex</text>
<line x1="1608.1" y1="999" x2="1608.1" y2="1260.7" stroke="#000" stroke-width="3.5" stroke-linecap="butt"/>
<line x1="1597.85" y1="1259" x2="1608.1" y2="1259" stroke="#000" stroke-width="3.5" stroke-linecap="butt"/>
<text x="1583.95" y="1267.02" font-family="'Liberation Sans', Arial, sans-serif" font-size="23.3" fill="#000">0</text>
<line x1="1597.85" y1="1194.42" x2="1608.1" y2="1194.42" stroke="#000" stroke-width="3.5" stroke-linecap="butt"/>
<text x="1558.04" y="1202.45" font-family="'Liberation Sans', Arial, sans-serif" font-size="23.3" fill="#000">200</text>
<line x1="1597.85" y1="1129.85" x2="1608.1" y2="1129.85" stroke="#000" stroke-width="3.5" stroke-linecap="butt"/>
<text x="1558.04" y="1137.87" font-family="'Liberation Sans', Arial, sans-serif" font-size="23.3" fill="#000">400</text>
<line x1="1597.85" y1="1065.28" x2="1608.1" y2="1065.28" stroke="#000" stroke-width="3.5" stroke-linecap="butt"/>
<text x="1558.04" y="1073.3" font-family="'Liberation Sans', Arial, sans-serif" font-size="23.3" fill="#000">600</text>
<line x1="1597.85" y1="1000.7" x2="1608.1" y2="1000.7" stroke="#000" stroke-width="3.5" stroke-linecap="butt"/>
<text x="1558.04" y="1008.72" font-family="'Liberation Sans', Arial, sans-serif" font-size="23.3" fill="#000">800</text>
<line x1="1600.4" y1="1259" x2="1782.8" y2="1259" stroke="#000" stroke-width="3.5" stroke-linecap="butt"/>
<rect x="1625.35" y="1202.15" width="52.6" height="56.85" fill="none" stroke="#000" stroke-width="3.5"/>
<rect x="1710.95" y="1200.65" width="53" height="58.35" fill="none" stroke="#d92a23" stroke-width="3.5"/>
<line x1="1651.9" y1="1214.9" x2="1651.9" y2="1186.2" stroke="#000" stroke-width="2" stroke-linecap="butt"/>
<line x1="1637.2" y1="1214.9" x2="1666.6" y2="1214.9" stroke="#000" stroke-width="2" stroke-linecap="butt"/>
<line x1="1637.2" y1="1186.2" x2="1666.6" y2="1186.2" stroke="#000" stroke-width="2" stroke-linecap="butt"/>
<line x1="1737.7" y1="1220.8" x2="1737.7" y2="1177.8" stroke="#d92a23" stroke-width="2" stroke-linecap="butt"/>
<line x1="1722.8" y1="1220.8" x2="1752.6" y2="1220.8" stroke="#d92a23" stroke-width="2" stroke-linecap="butt"/>
<line x1="1722.8" y1="1177.8" x2="1752.6" y2="1177.8" stroke="#d92a23" stroke-width="2" stroke-linecap="butt"/>
<circle cx="1632.4" cy="1203.2" r="5.4" fill="#000" stroke="none" stroke-width="0"/>
<circle cx="1651.8" cy="1206" r="5.4" fill="#000" stroke="none" stroke-width="0"/>
<circle cx="1632.4" cy="1223.5" r="5.4" fill="#000" stroke="none" stroke-width="0"/>
<circle cx="1651.8" cy="1219" r="5.4" fill="#000" stroke="none" stroke-width="0"/>
<circle cx="1671" cy="1220.8" r="5.4" fill="#000" stroke="none" stroke-width="0"/>
<circle cx="1651.8" cy="1132.2" r="5.4" fill="#000" stroke="none" stroke-width="0"/>
<rect x="1733.05" y="1069.55" width="9.1" height="9.1" fill="none" stroke="#d92a23" stroke-width="1.9"/>
<rect x="1733.05" y="1190.95" width="9.1" height="9.1" fill="none" stroke="#d92a23" stroke-width="1.9"/>
<rect x="1713.85" y="1207.05" width="9.1" height="9.1" fill="none" stroke="#d92a23" stroke-width="1.9"/>
<rect x="1752.05" y="1212.95" width="9.1" height="9.1" fill="none" stroke="#d92a23" stroke-width="1.9"/>
<rect x="1733.05" y="1222.85" width="9.1" height="9.1" fill="none" stroke="#d92a23" stroke-width="1.9"/>
<rect x="1752.05" y="1224.65" width="9.1" height="9.1" fill="none" stroke="#d92a23" stroke-width="1.9"/>
<rect x="1713.85" y="1231.75" width="9.1" height="9.1" fill="none" stroke="#d92a23" stroke-width="1.9"/>
<text transform="translate(1546.61 1303.08) rotate(-90)" x="0" y="0" font-family="'Liberation Sans', Arial, sans-serif" font-size="30.79" fill="#000" textLength="350.02" lengthAdjust="spacingAndGlyphs">2DG uptake (nmol/g/min)</text>
<text x="15.85" y="1320.88" font-family="'Liberation Sans', Arial, sans-serif" font-size="33.22" font-weight="bold" fill="#000" textLength="24.19" lengthAdjust="spacingAndGlyphs">o</text>
<rect x="28.5" y="1336.2" width="619.7" height="593.3" fill="#000" stroke="none" stroke-width="0"/>
<circle cx="127.29" cy="1387.24" r="1.35" fill="#fff" fill-opacity="0.58"/>
<circle cx="187.73" cy="1447.39" r="0.76" fill="#fff" fill-opacity="0.78"/>
<circle cx="45.69" cy="1466.42" r="0.77" fill="#fff" fill-opacity="0.59"/>
<circle cx="155.99" cy="1576.52" r="0.82" fill="#fff" fill-opacity="0.65"/>
<circle cx="213.82" cy="1610.36" r="1.28" fill="#fff" fill-opacity="0.73"/>
<circle cx="313.23" cy="1358.04" r="1.56" fill="#fff" fill-opacity="0.68"/>
<circle cx="76.11" cy="1377.98" r="1.01" fill="#fff" fill-opacity="0.92"/>
<circle cx="86.51" cy="1507.85" r="1.34" fill="#fff" fill-opacity="0.72"/>
<circle cx="191.11" cy="1362.58" r="0.76" fill="#fff" fill-opacity="0.64"/>
<circle cx="228.91" cy="1464.73" r="1.01" fill="#fff" fill-opacity="0.81"/>
<circle cx="164.16" cy="1428.93" r="1.49" fill="#fff" fill-opacity="0.86"/>
<circle cx="104.57" cy="1505.84" r="1.23" fill="#fff" fill-opacity="0.94"/>
<circle cx="242.89" cy="1425.62" r="1.68" fill="#fff" fill-opacity="0.6"/>
<circle cx="154.17" cy="1557" r="0.85" fill="#fff" fill-opacity="0.77"/>
<circle cx="46.17" cy="1532.1" r="1.46" fill="#fff" fill-opacity="0.81"/>
<circle cx="284.51" cy="1432.85" r="1.4" fill="#fff" fill-opacity="0.82"/>
<circle cx="200.27" cy="1472.74" r="1.54" fill="#fff" fill-opacity="0.98"/>
<circle cx="170.12" cy="1530.96" r="0.76" fill="#fff" fill-opacity="0.87"/>
<circle cx="219.43" cy="1623.07" r="1.52" fill="#fff" fill-opacity="0.68"/>
<circle cx="144.95" cy="1532.22" r="0.72" fill="#fff" fill-opacity="0.76"/>
<circle cx="82.89" cy="1377.79" r="0.76" fill="#fff" fill-opacity="0.9"/>
<circle cx="71.86" cy="1414.33" r="1.09" fill="#fff" fill-opacity="0.94"/>
<circle cx="57.97" cy="1470.77" r="1.25" fill="#fff" fill-opacity="0.95"/>
<circle cx="268.49" cy="1586.92" r="0.98" fill="#fff" fill-opacity="0.74"/>
<circle cx="137.25" cy="1592.57" r="1.66" fill="#fff" fill-opacity="0.62"/>
<circle cx="85.22" cy="1409.95" r="0.93" fill="#fff" fill-opacity="0.77"/>
<circle cx="202.9" cy="1418.57" r="0.7" fill="#fff" fill-opacity="0.74"/>
<circle cx="140.24" cy="1503.58" r="1.65" fill="#fff" fill-opacity="0.86"/>
<circle cx="181.92" cy="1517.93" r="1.38" fill="#fff" fill-opacity="0.57"/>
<circle cx="291.37" cy="1563.39" r="1.57" fill="#fff" fill-opacity="0.91"/>
<circle cx="146.83" cy="1456.71" r="0.8" fill="#fff" fill-opacity="0.84"/>
<circle cx="52.74" cy="1363.86" r="0.91" fill="#fff" fill-opacity="0.62"/>
<circle cx="131.92" cy="1359.72" r="0.7" fill="#fff" fill-opacity="0.62"/>
<circle cx="63.92" cy="1446.81" r="0.73" fill="#fff" fill-opacity="0.94"/>
<circle cx="210.01" cy="1386.59" r="0.95" fill="#fff" fill-opacity="0.71"/>
<circle cx="138.79" cy="1379.4" r="1.55" fill="#fff" fill-opacity="1"/>
<circle cx="167.81" cy="1480.47" r="0.79" fill="#fff" fill-opacity="0.6"/>
<circle cx="132.65" cy="1419.13" r="1.53" fill="#fff" fill-opacity="0.62"/>
<circle cx="41.58" cy="1611.28" r="1.23" fill="#fff" fill-opacity="0.62"/>
<circle cx="189.8" cy="1352.57" r="1.23" fill="#fff" fill-opacity="0.99"/>
<circle cx="281.05" cy="1539.94" r="0.96" fill="#fff" fill-opacity="0.72"/>
<circle cx="82.61" cy="1561.14" r="1.23" fill="#fff" fill-opacity="0.9"/>
<circle cx="128.95" cy="1407.45" r="1.51" fill="#fff" fill-opacity="0.99"/>
<circle cx="278" cy="1570.7" r="1.52" fill="#fff" fill-opacity="0.88"/>
<circle cx="99.62" cy="1489.94" r="1.06" fill="#fff" fill-opacity="0.56"/>
<circle cx="42.96" cy="1423.24" r="0.96" fill="#fff" fill-opacity="0.86"/>
<circle cx="307.61" cy="1470.22" r="1.64" fill="#fff" fill-opacity="0.99"/>
<circle cx="307.18" cy="1447.1" r="0.92" fill="#fff" fill-opacity="0.65"/>
<circle cx="91.06" cy="1402.22" r="1.32" fill="#fff" fill-opacity="0.96"/>
<circle cx="274.52" cy="1479.25" r="1.35" fill="#fff" fill-opacity="0.91"/>
<circle cx="59.16" cy="1529.96" r="1.61" fill="#fff" fill-opacity="0.9"/>
<circle cx="248.79" cy="1478.85" r="0.88" fill="#fff" fill-opacity="0.91"/>
<circle cx="129.77" cy="1569.23" r="1.67" fill="#fff" fill-opacity="0.73"/>
<circle cx="149.4" cy="1610.1" r="1.42" fill="#fff" fill-opacity="0.63"/>
<circle cx="71.21" cy="1387.32" r="1.6" fill="#fff" fill-opacity="0.91"/>
<circle cx="76.66" cy="1576.42" r="1.68" fill="#fff" fill-opacity="0.85"/>
<circle cx="134.87" cy="1498.62" r="0.83" fill="#fff" fill-opacity="0.56"/>
<circle cx="311.7" cy="1526.91" r="1.23" fill="#fff" fill-opacity="0.97"/>
<circle cx="158.64" cy="1589.09" r="1.53" fill="#fff" fill-opacity="0.64"/>
<circle cx="106.77" cy="1427.03" r="0.94" fill="#fff" fill-opacity="0.81"/>
<circle cx="108.92" cy="1462.32" r="0.83" fill="#fff" fill-opacity="0.96"/>
<circle cx="135.83" cy="1473.29" r="1.28" fill="#fff" fill-opacity="0.96"/>
<circle cx="154.88" cy="1601.96" r="1.2" fill="#fff" fill-opacity="0.79"/>
<circle cx="184.2" cy="1350.24" r="1.14" fill="#fff" fill-opacity="0.63"/>
<circle cx="36.12" cy="1568.77" r="0.87" fill="#fff" fill-opacity="0.76"/>
<circle cx="241.68" cy="1500.81" r="1.03" fill="#fff" fill-opacity="0.78"/>
<circle cx="193.3" cy="1564.6" r="0.81" fill="#fff" fill-opacity="0.8"/>
<circle cx="105.82" cy="1422.54" r="1.47" fill="#fff" fill-opacity="0.78"/>
<circle cx="195.09" cy="1557.8" r="1.61" fill="#fff" fill-opacity="0.75"/>
<circle cx="209.57" cy="1486.55" r="1.21" fill="#fff" fill-opacity="0.86"/>
<circle cx="475.7" cy="1494.32" r="1.27" fill="#fff" fill-opacity="0.97"/>
<circle cx="549.77" cy="1590.43" r="1.83" fill="#fff" fill-opacity="0.67"/>
<circle cx="507.85" cy="1609.11" r="1.71" fill="#fff" fill-opacity="0.61"/>
<circle cx="376.49" cy="1468.79" r="0.79" fill="#fff" fill-opacity="0.66"/>
<circle cx="361.94" cy="1532.45" r="1.64" fill="#fff" fill-opacity="0.95"/>
<circle cx="386.33" cy="1545.51" r="1.49" fill="#fff" fill-opacity="0.61"/>
<circle cx="604.85" cy="1615.91" r="0.96" fill="#fff" fill-opacity="0.98"/>
<circle cx="459.48" cy="1481.43" r="1.89" fill="#fff" fill-opacity="0.92"/>
<circle cx="388.44" cy="1465.83" r="1.32" fill="#fff" fill-opacity="0.7"/>
<circle cx="398.72" cy="1434.19" r="1.57" fill="#fff" fill-opacity="0.56"/>
<circle cx="506.22" cy="1468.33" r="0.72" fill="#fff" fill-opacity="0.7"/>
<circle cx="527.18" cy="1488.43" r="0.78" fill="#fff" fill-opacity="0.99"/>
<circle cx="576.51" cy="1617.07" r="0.83" fill="#fff" fill-opacity="0.67"/>
<circle cx="351.88" cy="1563.12" r="1.02" fill="#fff" fill-opacity="0.61"/>
<circle cx="466.68" cy="1600.2" r="1.68" fill="#fff" fill-opacity="0.67"/>
<circle cx="384.81" cy="1602.37" r="1.38" fill="#fff" fill-opacity="0.87"/>
<circle cx="366.84" cy="1361.11" r="1.53" fill="#fff" fill-opacity="0.74"/>
<circle cx="361.72" cy="1607.74" r="1.46" fill="#fff" fill-opacity="0.91"/>
<circle cx="365.12" cy="1584.74" r="0.78" fill="#fff" fill-opacity="0.94"/>
<circle cx="476.13" cy="1439.96" r="1.36" fill="#fff" fill-opacity="0.97"/>
<circle cx="420.36" cy="1381.18" r="1.33" fill="#fff" fill-opacity="0.66"/>
<circle cx="372.84" cy="1390.21" r="0.76" fill="#fff" fill-opacity="0.64"/>
<circle cx="433.6" cy="1430.4" r="1.61" fill="#fff" fill-opacity="0.68"/>
<circle cx="490.03" cy="1394.81" r="1.12" fill="#fff" fill-opacity="0.56"/>
<circle cx="415.13" cy="1349.3" r="1.58" fill="#fff" fill-opacity="0.8"/>
<circle cx="396.84" cy="1477.93" r="1.82" fill="#fff" fill-opacity="0.6"/>
<circle cx="585.68" cy="1466.01" r="1.29" fill="#fff" fill-opacity="0.93"/>
<circle cx="457.93" cy="1486.87" r="1.53" fill="#fff" fill-opacity="0.99"/>
<circle cx="442.81" cy="1578.04" r="1.55" fill="#fff" fill-opacity="0.84"/>
<circle cx="461.41" cy="1442.31" r="0.77" fill="#fff" fill-opacity="0.61"/>
<circle cx="361.22" cy="1552.45" r="1.01" fill="#fff" fill-opacity="0.62"/>
<circle cx="365.35" cy="1580.56" r="1.74" fill="#fff" fill-opacity="0.85"/>
<circle cx="424.58" cy="1412.82" r="1.05" fill="#fff" fill-opacity="0.76"/>
<circle cx="387.26" cy="1469.83" r="1.02" fill="#fff" fill-opacity="0.98"/>
<circle cx="631.79" cy="1498.18" r="0.99" fill="#fff" fill-opacity="0.98"/>
<circle cx="432.86" cy="1444.84" r="0.7" fill="#fff" fill-opacity="0.72"/>
<circle cx="482.39" cy="1485.77" r="0.94" fill="#fff" fill-opacity="0.78"/>
<circle cx="341.49" cy="1418.97" r="0.81" fill="#fff" fill-opacity="0.73"/>
<circle cx="352.5" cy="1351.3" r="1.07" fill="#fff" fill-opacity="0.65"/>
<circle cx="515.67" cy="1493.17" r="1.6" fill="#fff" fill-opacity="0.85"/>
<circle cx="554.8" cy="1591.15" r="1.17" fill="#fff" fill-opacity="0.7"/>
<circle cx="635.42" cy="1386.85" r="1.57" fill="#fff" fill-opacity="0.84"/>
<circle cx="353.14" cy="1578.88" r="1.77" fill="#fff" fill-opacity="0.83"/>
<circle cx="560.16" cy="1572.42" r="0.87" fill="#fff" fill-opacity="0.79"/>
<circle cx="491.31" cy="1578.78" r="1.67" fill="#fff" fill-opacity="0.92"/>
<circle cx="515.22" cy="1594.99" r="1.52" fill="#fff" fill-opacity="0.86"/>
<circle cx="408.98" cy="1353.72" r="0.86" fill="#fff" fill-opacity="0.71"/>
<circle cx="371.47" cy="1579.03" r="1.37" fill="#fff" fill-opacity="0.83"/>
<circle cx="527.87" cy="1535.59" r="1.29" fill="#fff" fill-opacity="0.55"/>
<circle cx="579.31" cy="1554.51" r="1.3" fill="#fff" fill-opacity="0.79"/>
<circle cx="537.79" cy="1363.49" r="1.58" fill="#fff" fill-opacity="0.66"/>
<circle cx="362.33" cy="1419.36" r="1.58" fill="#fff" fill-opacity="0.64"/>
<circle cx="561.95" cy="1618.21" r="1.29" fill="#fff" fill-opacity="0.72"/>
<circle cx="483.7" cy="1536.44" r="1.62" fill="#fff" fill-opacity="0.83"/>
<circle cx="532.83" cy="1366.69" r="0.88" fill="#fff" fill-opacity="0.66"/>
<circle cx="562.97" cy="1430.24" r="1.38" fill="#fff" fill-opacity="0.56"/>
<circle cx="358.2" cy="1420.26" r="1.51" fill="#fff" fill-opacity="0.86"/>
<circle cx="542.71" cy="1426.44" r="1.32" fill="#fff" fill-opacity="0.76"/>
<circle cx="479.9" cy="1378.18" r="1.77" fill="#fff" fill-opacity="0.64"/>
<circle cx="633.44" cy="1607.15" r="0.72" fill="#fff" fill-opacity="0.76"/>
<circle cx="585.97" cy="1616.07" r="1.24" fill="#fff" fill-opacity="0.67"/>
<circle cx="402.95" cy="1609.76" r="0.95" fill="#fff" fill-opacity="0.81"/>
<circle cx="382.52" cy="1491.74" r="1.84" fill="#fff" fill-opacity="0.61"/>
<circle cx="586.07" cy="1487.45" r="1.76" fill="#fff" fill-opacity="0.87"/>
<circle cx="409.42" cy="1596.36" r="1.28" fill="#fff" fill-opacity="0.56"/>
<circle cx="341.08" cy="1482.67" r="1.24" fill="#fff" fill-opacity="0.69"/>
<circle cx="382.21" cy="1441.31" r="1.08" fill="#fff" fill-opacity="0.93"/>
<circle cx="340.52" cy="1555.21" r="1.71" fill="#fff" fill-opacity="0.6"/>
<circle cx="617.92" cy="1544.65" r="1.78" fill="#fff" fill-opacity="0.68"/>
<circle cx="451.67" cy="1455.01" r="1.9" fill="#fff" fill-opacity="0.82"/>
<circle cx="448.21" cy="1464.85" r="1.03" fill="#fff" fill-opacity="0.57"/>
<circle cx="370.51" cy="1578.71" r="1.04" fill="#fff" fill-opacity="0.97"/>
<circle cx="414.8" cy="1419.4" r="1.31" fill="#fff" fill-opacity="0.64"/>
<circle cx="452" cy="1612.73" r="1.76" fill="#fff" fill-opacity="0.92"/>
<circle cx="529.27" cy="1600.76" r="1.83" fill="#fff" fill-opacity="0.8"/>
<circle cx="555.87" cy="1358.85" r="1.58" fill="#fff" fill-opacity="0.75"/>
<circle cx="565.8" cy="1525.46" r="1.04" fill="#fff" fill-opacity="0.57"/>
<circle cx="618.03" cy="1380.65" r="1.27" fill="#fff" fill-opacity="0.7"/>
<circle cx="429.33" cy="1551.93" r="1.87" fill="#fff" fill-opacity="0.67"/>
<circle cx="536.8" cy="1429.23" r="1.37" fill="#fff" fill-opacity="0.73"/>
<circle cx="390.2" cy="1390.26" r="0.95" fill="#fff" fill-opacity="0.96"/>
<circle cx="489.12" cy="1406.61" r="1.79" fill="#fff" fill-opacity="1"/>
<circle cx="474.99" cy="1384.09" r="0.93" fill="#fff" fill-opacity="0.59"/>
<circle cx="442.59" cy="1370.51" r="0.99" fill="#fff" fill-opacity="0.67"/>
<circle cx="510.89" cy="1593.43" r="1.6" fill="#fff" fill-opacity="0.74"/>
<circle cx="464.17" cy="1491.77" r="1.15" fill="#fff" fill-opacity="0.7"/>
<circle cx="358.62" cy="1422.7" r="1.86" fill="#fff" fill-opacity="0.61"/>
<circle cx="491.02" cy="1521.3" r="1.74" fill="#fff" fill-opacity="0.65"/>
<circle cx="421.31" cy="1414.57" r="1.18" fill="#fff" fill-opacity="0.75"/>
<circle cx="626.18" cy="1582.63" r="1.75" fill="#fff" fill-opacity="0.56"/>
<circle cx="172.52" cy="1811.47" r="1.39" fill="#fff" fill-opacity="0.97"/>
<circle cx="109.57" cy="1679.99" r="1.58" fill="#fff" fill-opacity="0.86"/>
<circle cx="303.62" cy="1848.48" r="1.95" fill="#fff" fill-opacity="0.76"/>
<circle cx="218.16" cy="1842.11" r="0.91" fill="#fff" fill-opacity="0.79"/>
<circle cx="203.21" cy="1756.72" r="1.7" fill="#fff" fill-opacity="0.55"/>
<circle cx="237.3" cy="1734.53" r="1.55" fill="#fff" fill-opacity="0.85"/>
<circle cx="299.05" cy="1712.37" r="1.31" fill="#fff" fill-opacity="0.74"/>
<circle cx="246.96" cy="1788.84" r="2.25" fill="#fff" fill-opacity="0.69"/>
<circle cx="269.6" cy="1713.47" r="1.94" fill="#fff" fill-opacity="0.68"/>
<circle cx="306.54" cy="1786.34" r="1.13" fill="#fff" fill-opacity="0.74"/>
<circle cx="226.28" cy="1910.91" r="1.39" fill="#fff" fill-opacity="0.65"/>
<circle cx="312.75" cy="1689.03" r="0.89" fill="#fff" fill-opacity="0.73"/>
<circle cx="144.69" cy="1741.22" r="0.8" fill="#fff" fill-opacity="0.68"/>
<circle cx="138.41" cy="1912.77" r="2.25" fill="#fff" fill-opacity="0.64"/>
<circle cx="139.86" cy="1875.93" r="1.45" fill="#fff" fill-opacity="0.57"/>
<circle cx="254.67" cy="1661.18" r="0.89" fill="#fff" fill-opacity="0.96"/>
<circle cx="111.96" cy="1855.5" r="1.31" fill="#fff" fill-opacity="0.67"/>
<circle cx="217.51" cy="1909.39" r="1.15" fill="#fff" fill-opacity="0.76"/>
<circle cx="246.78" cy="1876.26" r="1.71" fill="#fff" fill-opacity="0.7"/>
<circle cx="109.25" cy="1667.8" r="1.63" fill="#fff" fill-opacity="0.7"/>
<circle cx="114.17" cy="1673.12" r="1.55" fill="#fff" fill-opacity="0.87"/>
<circle cx="213.69" cy="1835.38" r="2.07" fill="#fff" fill-opacity="0.85"/>
<circle cx="95.77" cy="1718.04" r="1.03" fill="#fff" fill-opacity="0.95"/>
<circle cx="317.89" cy="1789.51" r="2.01" fill="#fff" fill-opacity="0.84"/>
<circle cx="269.35" cy="1881.15" r="0.86" fill="#fff" fill-opacity="0.68"/>
<circle cx="257.78" cy="1910.07" r="1.69" fill="#fff" fill-opacity="0.83"/>
<circle cx="100.94" cy="1751.39" r="1.11" fill="#fff" fill-opacity="0.66"/>
<circle cx="207.84" cy="1829.2" r="0.82" fill="#fff" fill-opacity="0.7"/>
<circle cx="96.95" cy="1868.7" r="0.89" fill="#fff" fill-opacity="0.6"/>
<circle cx="319.05" cy="1750.04" r="1.89" fill="#fff" fill-opacity="0.64"/>
<circle cx="169.05" cy="1694.7" r="1.63" fill="#fff" fill-opacity="0.84"/>
<circle cx="143.84" cy="1788.73" r="1.22" fill="#fff" fill-opacity="0.78"/>
<circle cx="265.35" cy="1915.89" r="0.99" fill="#fff" fill-opacity="0.97"/>
<circle cx="313.15" cy="1782.75" r="2.19" fill="#fff" fill-opacity="0.72"/>
<circle cx="84.88" cy="1866.1" r="1.41" fill="#fff" fill-opacity="0.93"/>
<circle cx="272.17" cy="1700.32" r="1.4" fill="#fff" fill-opacity="0.78"/>
<circle cx="147.4" cy="1683.84" r="1.89" fill="#fff" fill-opacity="0.95"/>
<circle cx="50.68" cy="1880.51" r="1.7" fill="#fff" fill-opacity="0.8"/>
<circle cx="165.1" cy="1770.55" r="1.73" fill="#fff" fill-opacity="0.77"/>
<circle cx="105.87" cy="1859.98" r="1.49" fill="#fff" fill-opacity="0.63"/>
<circle cx="172.5" cy="1679.45" r="1.45" fill="#fff" fill-opacity="0.59"/>
<circle cx="163.75" cy="1790.29" r="1.75" fill="#fff" fill-opacity="0.59"/>
<circle cx="245.37" cy="1863.85" r="0.88" fill="#fff" fill-opacity="0.78"/>
<circle cx="145.8" cy="1911.49" r="2.09" fill="#fff" fill-opacity="1"/>
<circle cx="244.98" cy="1874.12" r="2.27" fill="#fff" fill-opacity="0.77"/>
<circle cx="307.86" cy="1901.91" r="1.98" fill="#fff" fill-opacity="0.97"/>
<circle cx="181.68" cy="1737.75" r="1.07" fill="#fff" fill-opacity="0.62"/>
<circle cx="302.19" cy="1836.91" r="1.05" fill="#fff" fill-opacity="0.9"/>
<circle cx="72.22" cy="1795.95" r="1.34" fill="#fff" fill-opacity="0.94"/>
<circle cx="150.39" cy="1869.36" r="2.29" fill="#fff" fill-opacity="0.81"/>
<circle cx="140.87" cy="1860.28" r="1.07" fill="#fff" fill-opacity="0.88"/>
<circle cx="225.84" cy="1735.98" r="0.85" fill="#fff" fill-opacity="0.62"/>
<circle cx="290.75" cy="1686.31" r="1.78" fill="#fff" fill-opacity="0.56"/>
<circle cx="40.73" cy="1747.61" r="1.34" fill="#fff" fill-opacity="0.65"/>
<circle cx="203.41" cy="1812" r="1.74" fill="#fff" fill-opacity="0.76"/>
<circle cx="77.73" cy="1907.56" r="1.02" fill="#fff" fill-opacity="0.59"/>
<circle cx="152.55" cy="1722.67" r="1.77" fill="#fff" fill-opacity="0.8"/>
<circle cx="138.09" cy="1827.54" r="2.21" fill="#fff" fill-opacity="0.88"/>
<circle cx="109.58" cy="1898.46" r="1.6" fill="#fff" fill-opacity="0.73"/>
<circle cx="166.7" cy="1712.14" r="1.15" fill="#fff" fill-opacity="0.57"/>
<circle cx="133.94" cy="1856.15" r="2.07" fill="#fff" fill-opacity="0.87"/>
<circle cx="114.48" cy="1802.29" r="1.98" fill="#fff" fill-opacity="0.79"/>
<circle cx="114.28" cy="1826.55" r="1.13" fill="#fff" fill-opacity="0.95"/>
<circle cx="44.26" cy="1721.6" r="1.92" fill="#fff" fill-opacity="0.98"/>
<circle cx="216.59" cy="1840.53" r="2.27" fill="#fff" fill-opacity="0.76"/>
<circle cx="275.12" cy="1841.85" r="1.46" fill="#fff" fill-opacity="0.88"/>
<circle cx="199.7" cy="1734.63" r="1.73" fill="#fff" fill-opacity="0.59"/>
<circle cx="295.02" cy="1689.76" r="0.96" fill="#fff" fill-opacity="0.97"/>
<circle cx="136.56" cy="1689.01" r="0.86" fill="#fff" fill-opacity="0.86"/>
<circle cx="217.49" cy="1841.68" r="0.9" fill="#fff" fill-opacity="0.82"/>
<circle cx="141.75" cy="1874.83" r="2.14" fill="#fff" fill-opacity="0.58"/>
<circle cx="69.99" cy="1706.57" r="0.85" fill="#fff" fill-opacity="0.93"/>
<circle cx="267.37" cy="1824.4" r="1.75" fill="#fff" fill-opacity="0.68"/>
<circle cx="162.21" cy="1862.58" r="1.86" fill="#fff" fill-opacity="0.79"/>
<circle cx="100.64" cy="1887.12" r="2.03" fill="#fff" fill-opacity="0.63"/>
<circle cx="177.62" cy="1869.11" r="1.54" fill="#fff" fill-opacity="0.71"/>
<circle cx="260.34" cy="1822.68" r="1.4" fill="#fff" fill-opacity="0.73"/>
<circle cx="188.83" cy="1857.48" r="1.77" fill="#fff" fill-opacity="0.71"/>
<circle cx="225.39" cy="1854.05" r="1.46" fill="#fff" fill-opacity="0.9"/>
<circle cx="287.84" cy="1715.43" r="1.25" fill="#fff" fill-opacity="0.87"/>
<circle cx="276.23" cy="1692.51" r="1.17" fill="#fff" fill-opacity="0.7"/>
<circle cx="68.51" cy="1914.66" r="1.38" fill="#fff" fill-opacity="0.99"/>
<circle cx="262.57" cy="1851.66" r="1.09" fill="#fff" fill-opacity="0.84"/>
<circle cx="153.32" cy="1853.76" r="1.45" fill="#fff" fill-opacity="0.81"/>
<circle cx="249.75" cy="1765.82" r="1.88" fill="#fff" fill-opacity="0.95"/>
<circle cx="256.73" cy="1842.52" r="1.82" fill="#fff" fill-opacity="0.84"/>
<circle cx="239.68" cy="1823.14" r="1.44" fill="#fff" fill-opacity="0.75"/>
<circle cx="154.9" cy="1910.69" r="1.83" fill="#fff" fill-opacity="0.73"/>
<circle cx="157.75" cy="1842.02" r="1.2" fill="#fff" fill-opacity="0.65"/>
<circle cx="101.3" cy="1870.41" r="1.12" fill="#fff" fill-opacity="0.61"/>
<circle cx="257.45" cy="1872.63" r="1.5" fill="#fff" fill-opacity="0.8"/>
<circle cx="110.99" cy="1767.18" r="0.8" fill="#fff" fill-opacity="0.87"/>
<circle cx="293.63" cy="1865.61" r="2.05" fill="#fff" fill-opacity="0.83"/>
<circle cx="223.67" cy="1718.76" r="1.01" fill="#fff" fill-opacity="0.66"/>
<circle cx="257.37" cy="1745.27" r="2.16" fill="#fff" fill-opacity="0.91"/>
<circle cx="258.76" cy="1833.83" r="1.98" fill="#fff" fill-opacity="0.93"/>
<circle cx="95.26" cy="1840.52" r="1.91" fill="#fff" fill-opacity="0.75"/>
<circle cx="56.37" cy="1778.45" r="1.54" fill="#fff" fill-opacity="0.77"/>
<circle cx="191.07" cy="1887.29" r="2.06" fill="#fff" fill-opacity="0.76"/>
<circle cx="197.52" cy="1832.96" r="1.36" fill="#fff" fill-opacity="0.74"/>
<circle cx="122.01" cy="1877.63" r="1.56" fill="#fff" fill-opacity="0.67"/>
<circle cx="123.78" cy="1811.27" r="1.98" fill="#fff" fill-opacity="0.57"/>
<circle cx="53.92" cy="1732.61" r="1.08" fill="#fff" fill-opacity="0.96"/>
<circle cx="210.43" cy="1830.95" r="2.16" fill="#fff" fill-opacity="0.83"/>
<circle cx="212.68" cy="1822.37" r="1.69" fill="#fff" fill-opacity="0.86"/>
<circle cx="99.5" cy="1833.43" r="1.94" fill="#fff" fill-opacity="0.6"/>
<circle cx="295.94" cy="1830.32" r="2.03" fill="#fff" fill-opacity="0.9"/>
<circle cx="219.69" cy="1906.81" r="1.65" fill="#fff" fill-opacity="0.57"/>
<circle cx="297.22" cy="1772.78" r="1.38" fill="#fff" fill-opacity="0.82"/>
<circle cx="99.44" cy="1691.74" r="0.81" fill="#fff" fill-opacity="0.86"/>
<circle cx="74.07" cy="1915.75" r="2.1" fill="#fff" fill-opacity="0.61"/>
<circle cx="44.98" cy="1847.82" r="1.9" fill="#fff" fill-opacity="0.63"/>
<circle cx="279.54" cy="1850.67" r="1.74" fill="#fff" fill-opacity="0.87"/>
<circle cx="168.96" cy="1906.4" r="2.25" fill="#fff" fill-opacity="0.87"/>
<circle cx="220.57" cy="1823.17" r="1.38" fill="#fff" fill-opacity="0.9"/>
<circle cx="304.58" cy="1865.77" r="1.24" fill="#fff" fill-opacity="0.58"/>
<circle cx="132.97" cy="1816.6" r="2.05" fill="#fff" fill-opacity="0.82"/>
<circle cx="145.47" cy="1838.33" r="2.14" fill="#fff" fill-opacity="0.91"/>
<circle cx="116.68" cy="1884.08" r="1.83" fill="#fff" fill-opacity="0.96"/>
<circle cx="229.75" cy="1777.96" r="1.18" fill="#fff" fill-opacity="0.89"/>
<circle cx="261.67" cy="1776.42" r="2.01" fill="#fff" fill-opacity="0.9"/>
<circle cx="105.2" cy="1809.39" r="2.13" fill="#fff" fill-opacity="0.78"/>
<circle cx="173.44" cy="1812.07" r="1.09" fill="#fff" fill-opacity="0.63"/>
<circle cx="152.7" cy="1792.23" r="0.87" fill="#fff" fill-opacity="1"/>
<circle cx="136.58" cy="1792.85" r="0.85" fill="#fff" fill-opacity="1"/>
<circle cx="113.25" cy="1864.28" r="2.22" fill="#fff" fill-opacity="0.9"/>
<circle cx="50.6" cy="1705.27" r="0.93" fill="#fff" fill-opacity="0.57"/>
<circle cx="196.07" cy="1889.43" r="2.22" fill="#fff" fill-opacity="0.96"/>
<circle cx="57.97" cy="1814.47" r="0.98" fill="#fff" fill-opacity="0.98"/>
<circle cx="112.01" cy="1805.23" r="2.23" fill="#fff" fill-opacity="0.85"/>
<circle cx="150.07" cy="1773.29" r="2.25" fill="#fff" fill-opacity="1"/>
<circle cx="138.56" cy="1898.26" r="2.06" fill="#fff" fill-opacity="0.57"/>
<circle cx="260.18" cy="1845.14" r="2.28" fill="#fff" fill-opacity="0.58"/>
<circle cx="80.54" cy="1857.61" r="1.82" fill="#fff" fill-opacity="0.68"/>
<circle cx="205.61" cy="1858.42" r="1.29" fill="#fff" fill-opacity="0.67"/>
<circle cx="74.76" cy="1782.36" r="1.16" fill="#fff" fill-opacity="0.61"/>
<circle cx="79.98" cy="1710.95" r="1.87" fill="#fff" fill-opacity="0.8"/>
<circle cx="275.08" cy="1741.99" r="1.54" fill="#fff" fill-opacity="0.69"/>
<circle cx="135.45" cy="1688.54" r="2.05" fill="#fff" fill-opacity="0.79"/>
<circle cx="101.11" cy="1807.12" r="1.07" fill="#fff" fill-opacity="0.9"/>
<circle cx="239.25" cy="1704.1" r="0.93" fill="#fff" fill-opacity="0.82"/>
<circle cx="178.73" cy="1725.32" r="1.72" fill="#fff" fill-opacity="0.87"/>
<circle cx="267.24" cy="1810.31" r="0.9" fill="#fff" fill-opacity="0.88"/>
<circle cx="154.27" cy="1848.46" r="2.02" fill="#fff" fill-opacity="0.7"/>
<circle cx="284.16" cy="1723.22" r="2.05" fill="#fff" fill-opacity="0.72"/>
<circle cx="102.64" cy="1700.16" r="1.18" fill="#fff" fill-opacity="0.92"/>
<circle cx="180.21" cy="1726.9" r="1.41" fill="#fff" fill-opacity="0.61"/>
<circle cx="205.71" cy="1886.8" r="1.66" fill="#fff" fill-opacity="0.89"/>
<circle cx="257.53" cy="1743.1" r="1.3" fill="#fff" fill-opacity="0.75"/>
<circle cx="268.21" cy="1883.1" r="1.58" fill="#fff" fill-opacity="0.98"/>
<circle cx="73.71" cy="1813.43" r="1.57" fill="#fff" fill-opacity="0.67"/>
<circle cx="170.6" cy="1796.8" r="0.99" fill="#fff" fill-opacity="0.61"/>
<circle cx="275.13" cy="1817.74" r="1.78" fill="#fff" fill-opacity="0.64"/>
<circle cx="147.29" cy="1811.06" r="1.33" fill="#fff" fill-opacity="0.94"/>
<circle cx="106.79" cy="1803.08" r="1.23" fill="#fff" fill-opacity="0.99"/>
<circle cx="122.74" cy="1862.34" r="0.9" fill="#fff" fill-opacity="0.94"/>
<circle cx="163.17" cy="1852.24" r="1.14" fill="#fff" fill-opacity="0.98"/>
<circle cx="138.69" cy="1835.72" r="2.07" fill="#fff" fill-opacity="0.92"/>
<circle cx="184.98" cy="1853.16" r="1.94" fill="#fff" fill-opacity="0.76"/>
<circle cx="259.78" cy="1844.85" r="0.99" fill="#fff" fill-opacity="0.94"/>
<circle cx="157.01" cy="1865.51" r="1.71" fill="#fff" fill-opacity="0.72"/>
<circle cx="91.58" cy="1733.61" r="1.66" fill="#fff" fill-opacity="0.81"/>
<circle cx="276.15" cy="1880.49" r="1.11" fill="#fff" fill-opacity="0.74"/>
<circle cx="294.96" cy="1652.94" r="1.65" fill="#fff" fill-opacity="0.77"/>
<circle cx="297.69" cy="1862.71" r="2.3" fill="#fff" fill-opacity="0.78"/>
<circle cx="140.16" cy="1813.55" r="2.22" fill="#fff" fill-opacity="0.85"/>
<circle cx="271.29" cy="1790.96" r="2.14" fill="#fff" fill-opacity="0.86"/>
<circle cx="183.25" cy="1788.84" r="1.07" fill="#fff" fill-opacity="0.83"/>
<circle cx="204.14" cy="1833.73" r="1.55" fill="#fff" fill-opacity="0.8"/>
<circle cx="114.49" cy="1827.87" r="2.3" fill="#fff" fill-opacity="0.81"/>
<circle cx="155.11" cy="1683.41" r="1.94" fill="#fff" fill-opacity="0.6"/>
<circle cx="270.48" cy="1818.58" r="0.89" fill="#fff" fill-opacity="0.56"/>
<circle cx="175.63" cy="1868.01" r="1.06" fill="#fff" fill-opacity="0.71"/>
<circle cx="147.97" cy="1760.88" r="0.98" fill="#fff" fill-opacity="0.92"/>
<circle cx="138.35" cy="1717.36" r="1.23" fill="#fff" fill-opacity="0.66"/>
<circle cx="83.65" cy="1844.11" r="1.2" fill="#fff" fill-opacity="0.93"/>
<circle cx="103.64" cy="1774.49" r="1.86" fill="#fff" fill-opacity="0.67"/>
<circle cx="108.95" cy="1817.26" r="2.11" fill="#fff" fill-opacity="0.61"/>
<circle cx="129.89" cy="1832.26" r="1.64" fill="#fff" fill-opacity="0.71"/>
<circle cx="180.1" cy="1731.66" r="1.27" fill="#fff" fill-opacity="0.65"/>
<circle cx="75.32" cy="1847.09" r="1.41" fill="#fff" fill-opacity="0.96"/>
<circle cx="77.01" cy="1726.04" r="1.82" fill="#fff" fill-opacity="0.85"/>
<circle cx="138.59" cy="1822.93" r="0.97" fill="#fff" fill-opacity="0.96"/>
<circle cx="245.53" cy="1845.96" r="0.86" fill="#fff" fill-opacity="0.62"/>
<circle cx="231.61" cy="1745.99" r="2.05" fill="#fff" fill-opacity="0.9"/>
<circle cx="210.07" cy="1663.02" r="0.97" fill="#fff" fill-opacity="0.91"/>
<circle cx="249.32" cy="1877.9" r="0.93" fill="#fff" fill-opacity="0.98"/>
<circle cx="158.71" cy="1905.81" r="1.91" fill="#fff" fill-opacity="0.92"/>
<circle cx="215.87" cy="1774.51" r="1.85" fill="#fff" fill-opacity="0.74"/>
<circle cx="183.33" cy="1905.24" r="1.94" fill="#fff" fill-opacity="0.57"/>
<circle cx="236.77" cy="1871.58" r="1.62" fill="#fff" fill-opacity="0.99"/>
<circle cx="218.5" cy="1799.58" r="0.89" fill="#fff" fill-opacity="0.71"/>
<circle cx="78.23" cy="1844.42" r="1.16" fill="#fff" fill-opacity="0.66"/>
<circle cx="79.73" cy="1804.9" r="2.02" fill="#fff" fill-opacity="0.8"/>
<circle cx="140.93" cy="1706.77" r="1.22" fill="#fff" fill-opacity="0.64"/>
<circle cx="236.45" cy="1773.2" r="1.29" fill="#fff" fill-opacity="0.76"/>
<circle cx="141.63" cy="1696.23" r="0.82" fill="#fff" fill-opacity="1"/>
<circle cx="314.46" cy="1805" r="1.53" fill="#fff" fill-opacity="0.75"/>
<circle cx="93.15" cy="1799.34" r="2.18" fill="#fff" fill-opacity="0.84"/>
<circle cx="110.4" cy="1717.65" r="0.84" fill="#fff" fill-opacity="0.9"/>
<circle cx="275.08" cy="1731.49" r="1.76" fill="#fff" fill-opacity="0.93"/>
<circle cx="272.51" cy="1854.14" r="1.08" fill="#fff" fill-opacity="0.92"/>
<circle cx="143.4" cy="1878.63" r="0.86" fill="#fff" fill-opacity="0.81"/>
<circle cx="93.43" cy="1848.81" r="2.06" fill="#fff" fill-opacity="0.93"/>
<circle cx="271.3" cy="1898.6" r="1.24" fill="#fff" fill-opacity="0.75"/>
<circle cx="197.74" cy="1745.73" r="0.93" fill="#fff" fill-opacity="0.7"/>
<circle cx="213.56" cy="1873.07" r="1.81" fill="#fff" fill-opacity="0.82"/>
<circle cx="123.17" cy="1807.06" r="1.52" fill="#fff" fill-opacity="0.84"/>
<circle cx="103.44" cy="1807.49" r="1.57" fill="#fff" fill-opacity="0.81"/>
<circle cx="62.46" cy="1762.21" r="1.46" fill="#fff" fill-opacity="0.94"/>
<circle cx="44.25" cy="1813.43" r="1.25" fill="#fff" fill-opacity="0.87"/>
<circle cx="159.27" cy="1894.37" r="2.11" fill="#fff" fill-opacity="0.8"/>
<circle cx="296.9" cy="1889.46" r="1.92" fill="#fff" fill-opacity="0.7"/>
<circle cx="253.81" cy="1837.14" r="0.98" fill="#fff" fill-opacity="0.72"/>
<circle cx="52.18" cy="1816.04" r="1.62" fill="#fff" fill-opacity="0.91"/>
<circle cx="274.69" cy="1809.88" r="0.83" fill="#fff" fill-opacity="0.6"/>
<circle cx="121.21" cy="1838.97" r="1.02" fill="#fff" fill-opacity="0.94"/>
<circle cx="264.13" cy="1659.75" r="2.03" fill="#fff" fill-opacity="0.86"/>
<circle cx="149.92" cy="1780.83" r="2.07" fill="#fff" fill-opacity="0.73"/>
<circle cx="284.45" cy="1817.98" r="1.29" fill="#fff" fill-opacity="0.65"/>
<circle cx="290.32" cy="1812.04" r="1.05" fill="#fff" fill-opacity="0.71"/>
<circle cx="316.19" cy="1662.48" r="1.81" fill="#fff" fill-opacity="0.67"/>
<circle cx="217.27" cy="1824.52" r="1.22" fill="#fff" fill-opacity="0.91"/>
<circle cx="125.12" cy="1859.92" r="1.56" fill="#fff" fill-opacity="0.84"/>
<circle cx="124.67" cy="1696.45" r="1.25" fill="#fff" fill-opacity="0.69"/>
<circle cx="159.92" cy="1888.78" r="1.53" fill="#fff" fill-opacity="0.95"/>
<circle cx="117.24" cy="1720.82" r="1.05" fill="#fff" fill-opacity="0.67"/>
<circle cx="96.1" cy="1815.8" r="1.77" fill="#fff" fill-opacity="0.64"/>
<circle cx="135.52" cy="1687.58" r="1.61" fill="#fff" fill-opacity="0.94"/>
<circle cx="219.17" cy="1903.79" r="1.29" fill="#fff" fill-opacity="0.89"/>
<circle cx="197.96" cy="1921.57" r="1.72" fill="#fff" fill-opacity="0.88"/>
<circle cx="132.17" cy="1675.7" r="1.01" fill="#fff" fill-opacity="0.9"/>
<circle cx="224.06" cy="1815.43" r="1.91" fill="#fff" fill-opacity="0.67"/>
<circle cx="239.2" cy="1859.91" r="1.26" fill="#fff" fill-opacity="0.9"/>
<circle cx="186.53" cy="1908.76" r="0.81" fill="#fff" fill-opacity="0.76"/>
<circle cx="223.5" cy="1862.9" r="2.28" fill="#fff" fill-opacity="0.65"/>
<circle cx="251.84" cy="1674.73" r="1" fill="#fff" fill-opacity="0.58"/>
<circle cx="180.52" cy="1802.69" r="2.21" fill="#fff" fill-opacity="0.71"/>
<circle cx="298.01" cy="1694.57" r="1.97" fill="#fff" fill-opacity="0.66"/>
<circle cx="136.38" cy="1870.15" r="1.29" fill="#fff" fill-opacity="0.96"/>
<circle cx="70.19" cy="1851.68" r="1.77" fill="#fff" fill-opacity="0.73"/>
<circle cx="154.78" cy="1902.76" r="1.74" fill="#fff" fill-opacity="0.65"/>
<circle cx="100.65" cy="1806.62" r="2.09" fill="#fff" fill-opacity="0.94"/>
<circle cx="114.84" cy="1856.67" r="1.22" fill="#fff" fill-opacity="0.7"/>
<circle cx="175.95" cy="1895.02" r="1.82" fill="#fff" fill-opacity="0.82"/>
<circle cx="258.35" cy="1887.42" r="2.1" fill="#fff" fill-opacity="1"/>
<circle cx="123.33" cy="1656.72" r="2.26" fill="#fff" fill-opacity="0.55"/>
<circle cx="104.86" cy="1768.39" r="0.83" fill="#fff" fill-opacity="1"/>
<circle cx="128.62" cy="1891.61" r="1.53" fill="#fff" fill-opacity="0.61"/>
<circle cx="81.42" cy="1853.01" r="0.97" fill="#fff" fill-opacity="0.71"/>
<circle cx="178.95" cy="1902.64" r="1.12" fill="#fff" fill-opacity="0.99"/>
<circle cx="287.28" cy="1851.13" r="1.07" fill="#fff" fill-opacity="0.67"/>
<circle cx="111.31" cy="1818" r="1.16" fill="#fff" fill-opacity="0.64"/>
<circle cx="130.82" cy="1827.71" r="1.27" fill="#fff" fill-opacity="0.99"/>
<circle cx="105.64" cy="1823.12" r="1.37" fill="#fff" fill-opacity="0.87"/>
<circle cx="267.74" cy="1715.63" r="2.03" fill="#fff" fill-opacity="0.76"/>
<circle cx="272.99" cy="1874.89" r="1.03" fill="#fff" fill-opacity="0.66"/>
<circle cx="185.98" cy="1774.52" r="1.39" fill="#fff" fill-opacity="1"/>
<circle cx="263.52" cy="1858.67" r="1.82" fill="#fff" fill-opacity="0.72"/>
<circle cx="135.23" cy="1754.81" r="1.1" fill="#fff" fill-opacity="0.81"/>
<circle cx="116.89" cy="1739.1" r="2.05" fill="#fff" fill-opacity="0.59"/>
<circle cx="218.12" cy="1886.2" r="1.43" fill="#fff" fill-opacity="0.91"/>
<circle cx="213" cy="1752.2" r="1.46" fill="#fff" fill-opacity="0.72"/>
<circle cx="144.26" cy="1833.04" r="0.91" fill="#fff" fill-opacity="0.89"/>
<circle cx="292.37" cy="1858.19" r="1.69" fill="#fff" fill-opacity="0.76"/>
<circle cx="169.41" cy="1880.88" r="1.51" fill="#fff" fill-opacity="0.95"/>
<circle cx="270.91" cy="1834.35" r="1.4" fill="#fff" fill-opacity="0.57"/>
<circle cx="255.57" cy="1682.48" r="0.92" fill="#fff" fill-opacity="0.92"/>
<circle cx="239.1" cy="1782.77" r="1.84" fill="#fff" fill-opacity="0.74"/>
<circle cx="183.07" cy="1765.56" r="1.26" fill="#fff" fill-opacity="0.94"/>
<circle cx="116.6" cy="1868.92" r="1.87" fill="#fff" fill-opacity="0.91"/>
<circle cx="164.57" cy="1891.47" r="1.45" fill="#fff" fill-opacity="0.84"/>
<circle cx="53.71" cy="1887.22" r="1.69" fill="#fff" fill-opacity="0.63"/>
<circle cx="80.82" cy="1902.41" r="0.95" fill="#fff" fill-opacity="0.59"/>
<circle cx="232.06" cy="1692.58" r="1.84" fill="#fff" fill-opacity="0.57"/>
<circle cx="274.12" cy="1730.75" r="1.67" fill="#fff" fill-opacity="0.69"/>
<circle cx="130.83" cy="1881.36" r="2" fill="#fff" fill-opacity="0.99"/>
<circle cx="160.36" cy="1836.7" r="2.04" fill="#fff" fill-opacity="0.6"/>
<circle cx="207.38" cy="1798.7" r="1.01" fill="#fff" fill-opacity="0.67"/>
<circle cx="290.06" cy="1882.49" r="2.19" fill="#fff" fill-opacity="0.56"/>
<circle cx="304.43" cy="1830.55" r="1.3" fill="#fff" fill-opacity="0.75"/>
<circle cx="109.27" cy="1854.15" r="1.98" fill="#fff" fill-opacity="0.68"/>
<circle cx="59.44" cy="1803.77" r="1.63" fill="#fff" fill-opacity="0.9"/>
<circle cx="206.77" cy="1776.88" r="1.57" fill="#fff" fill-opacity="0.59"/>
<circle cx="132.86" cy="1881.63" r="1.52" fill="#fff" fill-opacity="0.62"/>
<circle cx="66.32" cy="1891.74" r="1.54" fill="#fff" fill-opacity="0.79"/>
<circle cx="72.92" cy="1778.65" r="1.6" fill="#fff" fill-opacity="0.78"/>
<circle cx="96.97" cy="1684.96" r="2.11" fill="#fff" fill-opacity="0.78"/>
<circle cx="176.75" cy="1867.54" r="1.83" fill="#fff" fill-opacity="0.65"/>
<circle cx="121.75" cy="1894.89" r="1.67" fill="#fff" fill-opacity="0.66"/>
<circle cx="153.99" cy="1674.21" r="1.9" fill="#fff" fill-opacity="0.86"/>
<circle cx="82.35" cy="1744.69" r="1.1" fill="#fff" fill-opacity="0.65"/>
<circle cx="276.8" cy="1866.32" r="1.88" fill="#fff" fill-opacity="0.71"/>
<circle cx="273.09" cy="1870.6" r="1.45" fill="#fff" fill-opacity="0.92"/>
<circle cx="110.56" cy="1880.55" r="1.1" fill="#fff" fill-opacity="0.76"/>
<circle cx="231.89" cy="1845.36" r="1.98" fill="#fff" fill-opacity="0.91"/>
<circle cx="274.16" cy="1868.06" r="1.53" fill="#fff" fill-opacity="0.56"/>
<circle cx="213.4" cy="1730.34" r="1.21" fill="#fff" fill-opacity="0.87"/>
<circle cx="163.77" cy="1831.77" r="0.98" fill="#fff" fill-opacity="0.86"/>
<circle cx="51.63" cy="1876.31" r="1.21" fill="#fff" fill-opacity="0.98"/>
<circle cx="85.42" cy="1794.98" r="1.06" fill="#fff" fill-opacity="0.98"/>
<circle cx="167.28" cy="1872.58" r="1.33" fill="#fff" fill-opacity="0.6"/>
<circle cx="194.75" cy="1887.12" r="1.37" fill="#fff" fill-opacity="0.97"/>
<circle cx="290.26" cy="1833.23" r="1.74" fill="#fff" fill-opacity="0.75"/>
<circle cx="141.84" cy="1918.45" r="2.05" fill="#fff" fill-opacity="0.86"/>
<circle cx="289.51" cy="1850.44" r="0.85" fill="#fff" fill-opacity="0.7"/>
<circle cx="80.47" cy="1811.58" r="0.87" fill="#fff" fill-opacity="0.73"/>
<circle cx="249.26" cy="1826.41" r="1.94" fill="#fff" fill-opacity="0.68"/>
<circle cx="233.44" cy="1726.31" r="1.66" fill="#fff" fill-opacity="0.92"/>
<circle cx="262.23" cy="1745.49" r="1.57" fill="#fff" fill-opacity="0.94"/>
<circle cx="85.4" cy="1853.04" r="1.27" fill="#fff" fill-opacity="0.57"/>
<circle cx="166.07" cy="1880.2" r="1.97" fill="#fff" fill-opacity="0.69"/>
<circle cx="82.58" cy="1858.2" r="1.64" fill="#fff" fill-opacity="0.85"/>
<circle cx="251.05" cy="1836.47" r="2.01" fill="#fff" fill-opacity="0.6"/>
<circle cx="125.95" cy="1827.31" r="1.75" fill="#fff" fill-opacity="0.86"/>
<circle cx="265.61" cy="1746.17" r="2.11" fill="#fff" fill-opacity="0.79"/>
<circle cx="77.4" cy="1743.15" r="1.42" fill="#fff" fill-opacity="0.78"/>
<circle cx="278.54" cy="1833.65" r="1.41" fill="#fff" fill-opacity="0.81"/>
<circle cx="116.67" cy="1882.32" r="2.06" fill="#fff" fill-opacity="0.62"/>
<circle cx="228.03" cy="1857.38" r="2.15" fill="#fff" fill-opacity="0.95"/>
<circle cx="248.04" cy="1875.77" r="2.12" fill="#fff" fill-opacity="0.61"/>
<circle cx="237.15" cy="1843.54" r="1.21" fill="#fff" fill-opacity="0.58"/>
<circle cx="99.66" cy="1711.56" r="1.81" fill="#fff" fill-opacity="0.99"/>
<circle cx="40.96" cy="1823.04" r="1.21" fill="#fff" fill-opacity="0.58"/>
<circle cx="51.09" cy="1877.53" r="1.14" fill="#fff" fill-opacity="0.83"/>
<circle cx="101" cy="1868.2" r="2.06" fill="#fff" fill-opacity="0.91"/>
<circle cx="132.24" cy="1921.22" r="1.52" fill="#fff" fill-opacity="0.61"/>
<circle cx="167.11" cy="1837.73" r="1.48" fill="#fff" fill-opacity="0.7"/>
<circle cx="94.38" cy="1852.4" r="1.46" fill="#fff" fill-opacity="0.64"/>
<circle cx="242.31" cy="1847.87" r="1.11" fill="#fff" fill-opacity="0.56"/>
<circle cx="599.75" cy="1848.55" r="1.25" fill="#fff" fill-opacity="0.71"/>
<circle cx="435.2" cy="1662.17" r="1.4" fill="#fff" fill-opacity="0.95"/>
<circle cx="582.32" cy="1775.14" r="0.98" fill="#fff" fill-opacity="0.62"/>
<circle cx="574.35" cy="1779.6" r="2.35" fill="#fff" fill-opacity="0.91"/>
<circle cx="485.49" cy="1876.03" r="0.99" fill="#fff" fill-opacity="0.8"/>
<circle cx="593.21" cy="1686.8" r="1.16" fill="#fff" fill-opacity="0.81"/>
<circle cx="576.88" cy="1777.52" r="2.31" fill="#fff" fill-opacity="0.79"/>
<circle cx="517.73" cy="1825" r="1.55" fill="#fff" fill-opacity="0.58"/>
<circle cx="415.74" cy="1828.62" r="1.6" fill="#fff" fill-opacity="0.61"/>
<circle cx="613.16" cy="1814.74" r="1.21" fill="#fff" fill-opacity="0.99"/>
<circle cx="588.03" cy="1824.32" r="0.87" fill="#fff" fill-opacity="0.59"/>
<circle cx="632.96" cy="1870.75" r="0.88" fill="#fff" fill-opacity="0.66"/>
<circle cx="422.57" cy="1692.19" r="2.09" fill="#fff" fill-opacity="0.6"/>
<circle cx="632.08" cy="1845.24" r="2.17" fill="#fff" fill-opacity="0.62"/>
<circle cx="607.45" cy="1902" r="2.25" fill="#fff" fill-opacity="0.8"/>
<circle cx="587.3" cy="1788.18" r="1.81" fill="#fff" fill-opacity="0.91"/>
<circle cx="430.83" cy="1759.16" r="2.07" fill="#fff" fill-opacity="0.56"/>
<circle cx="381.04" cy="1828.77" r="1.53" fill="#fff" fill-opacity="0.6"/>
<circle cx="434.3" cy="1859.67" r="1.83" fill="#fff" fill-opacity="0.99"/>
<circle cx="571.79" cy="1651.91" r="0.99" fill="#fff" fill-opacity="0.86"/>
<circle cx="521.64" cy="1793.03" r="1.49" fill="#fff" fill-opacity="0.82"/>
<circle cx="447.8" cy="1739.21" r="1.55" fill="#fff" fill-opacity="0.99"/>
<circle cx="437.53" cy="1822.42" r="1.71" fill="#fff" fill-opacity="0.98"/>
<circle cx="392.53" cy="1796" r="1.72" fill="#fff" fill-opacity="0.97"/>
<circle cx="429.78" cy="1899.3" r="1.24" fill="#fff" fill-opacity="0.87"/>
<circle cx="547.63" cy="1839.93" r="2.08" fill="#fff" fill-opacity="0.66"/>
<circle cx="534.77" cy="1812.56" r="1.82" fill="#fff" fill-opacity="0.86"/>
<circle cx="434.65" cy="1667.58" r="0.82" fill="#fff" fill-opacity="0.71"/>
<circle cx="571.98" cy="1698.92" r="1.32" fill="#fff" fill-opacity="0.73"/>
<circle cx="542.86" cy="1726.35" r="1.12" fill="#fff" fill-opacity="0.96"/>
<circle cx="391.62" cy="1831.29" r="1.92" fill="#fff" fill-opacity="0.63"/>
<circle cx="410.86" cy="1667.82" r="2.25" fill="#fff" fill-opacity="0.61"/>
<circle cx="385.82" cy="1866.69" r="1.42" fill="#fff" fill-opacity="0.79"/>
<circle cx="484.18" cy="1889.16" r="1.93" fill="#fff" fill-opacity="0.93"/>
<circle cx="499.83" cy="1715.93" r="2.27" fill="#fff" fill-opacity="0.65"/>
<circle cx="480.98" cy="1851.11" r="1.57" fill="#fff" fill-opacity="0.69"/>
<circle cx="405.57" cy="1832.31" r="1" fill="#fff" fill-opacity="0.99"/>
<circle cx="487.07" cy="1699.49" r="1.91" fill="#fff" fill-opacity="0.78"/>
<circle cx="523.45" cy="1829.06" r="2.17" fill="#fff" fill-opacity="0.98"/>
<circle cx="521.4" cy="1897.94" r="1.17" fill="#fff" fill-opacity="0.57"/>
<circle cx="474.51" cy="1688.63" r="2.07" fill="#fff" fill-opacity="0.81"/>
<circle cx="408.83" cy="1879.33" r="2.5" fill="#fff" fill-opacity="0.76"/>
<circle cx="351.77" cy="1752.84" r="2.21" fill="#fff" fill-opacity="0.55"/>
<circle cx="510.75" cy="1845.73" r="1.21" fill="#fff" fill-opacity="0.6"/>
<circle cx="628.27" cy="1691.02" r="1.69" fill="#fff" fill-opacity="0.81"/>
<circle cx="394.41" cy="1811.04" r="1.5" fill="#fff" fill-opacity="0.95"/>
<circle cx="360.22" cy="1901.56" r="0.83" fill="#fff" fill-opacity="0.68"/>
<circle cx="583.08" cy="1829.69" r="1" fill="#fff" fill-opacity="0.66"/>
<circle cx="539.15" cy="1811.23" r="2.33" fill="#fff" fill-opacity="0.98"/>
<circle cx="499.54" cy="1836.28" r="2.06" fill="#fff" fill-opacity="0.83"/>
<circle cx="554.19" cy="1828.07" r="2.43" fill="#fff" fill-opacity="0.9"/>
<circle cx="423.48" cy="1659.81" r="1.49" fill="#fff" fill-opacity="0.74"/>
<circle cx="350.2" cy="1835.89" r="1.43" fill="#fff" fill-opacity="0.98"/>
<circle cx="532.2" cy="1843.85" r="1.13" fill="#fff" fill-opacity="0.89"/>
<circle cx="518.7" cy="1704.54" r="1.71" fill="#fff" fill-opacity="0.88"/>
<circle cx="425.37" cy="1669.26" r="1.09" fill="#fff" fill-opacity="0.86"/>
<circle cx="554.77" cy="1921.48" r="0.99" fill="#fff" fill-opacity="0.97"/>
<circle cx="486.26" cy="1721.09" r="0.94" fill="#fff" fill-opacity="0.62"/>
<circle cx="371.96" cy="1821.61" r="1.25" fill="#fff" fill-opacity="0.91"/>
<circle cx="580.16" cy="1870.55" r="1.8" fill="#fff" fill-opacity="0.64"/>
<circle cx="511.68" cy="1688.01" r="1.79" fill="#fff" fill-opacity="0.6"/>
<circle cx="430.79" cy="1825.94" r="1.85" fill="#fff" fill-opacity="0.96"/>
<circle cx="438.06" cy="1848.33" r="1.84" fill="#fff" fill-opacity="0.59"/>
<circle cx="359.48" cy="1791.28" r="2.38" fill="#fff" fill-opacity="0.94"/>
<circle cx="481.22" cy="1704.37" r="1.66" fill="#fff" fill-opacity="0.78"/>
<circle cx="573.75" cy="1679.21" r="1.46" fill="#fff" fill-opacity="0.77"/>
<circle cx="419.52" cy="1833.85" r="1.34" fill="#fff" fill-opacity="0.76"/>
<circle cx="532.86" cy="1726.61" r="2.47" fill="#fff" fill-opacity="0.96"/>
<circle cx="572.37" cy="1770.27" r="1.47" fill="#fff" fill-opacity="0.59"/>
<circle cx="571.54" cy="1687.14" r="0.92" fill="#fff" fill-opacity="0.62"/>
<circle cx="501.9" cy="1879.1" r="1.1" fill="#fff" fill-opacity="0.89"/>
<circle cx="470.61" cy="1742.96" r="1.21" fill="#fff" fill-opacity="0.99"/>
<circle cx="376.57" cy="1873.69" r="1.22" fill="#fff" fill-opacity="0.66"/>
<circle cx="483.42" cy="1922.41" r="2.25" fill="#fff" fill-opacity="0.69"/>
<circle cx="395.98" cy="1854.8" r="1.12" fill="#fff" fill-opacity="0.74"/>
<circle cx="419.7" cy="1830.38" r="2.23" fill="#fff" fill-opacity="0.61"/>
<circle cx="564.55" cy="1836.16" r="0.88" fill="#fff" fill-opacity="0.94"/>
<circle cx="374.62" cy="1739.96" r="2.15" fill="#fff" fill-opacity="0.65"/>
<circle cx="602.81" cy="1807.65" r="1.8" fill="#fff" fill-opacity="0.92"/>
<circle cx="604.74" cy="1833.02" r="1.42" fill="#fff" fill-opacity="0.71"/>
<circle cx="627.81" cy="1841.37" r="2.35" fill="#fff" fill-opacity="0.57"/>
<circle cx="442.07" cy="1851.36" r="1.73" fill="#fff" fill-opacity="0.78"/>
<circle cx="617.57" cy="1707.03" r="1.65" fill="#fff" fill-opacity="0.95"/>
<circle cx="620.12" cy="1803.99" r="1.87" fill="#fff" fill-opacity="0.91"/>
<circle cx="483.15" cy="1675.4" r="1.38" fill="#fff" fill-opacity="0.87"/>
<circle cx="475.57" cy="1673.74" r="2.15" fill="#fff" fill-opacity="0.85"/>
<circle cx="417.31" cy="1704.69" r="1.5" fill="#fff" fill-opacity="0.83"/>
<circle cx="623.72" cy="1779.64" r="1.81" fill="#fff" fill-opacity="0.62"/>
<circle cx="432.98" cy="1802.41" r="2.05" fill="#fff" fill-opacity="0.98"/>
<circle cx="578.35" cy="1812.26" r="1.38" fill="#fff" fill-opacity="0.98"/>
<circle cx="507.07" cy="1760.69" r="1" fill="#fff" fill-opacity="0.95"/>
<circle cx="351.42" cy="1703.12" r="2.17" fill="#fff" fill-opacity="0.62"/>
<circle cx="561.36" cy="1848.04" r="2.41" fill="#fff" fill-opacity="0.8"/>
<circle cx="598.29" cy="1756.08" r="2.28" fill="#fff" fill-opacity="0.89"/>
<circle cx="521.11" cy="1918.62" r="0.9" fill="#fff" fill-opacity="0.61"/>
<circle cx="378.14" cy="1694.56" r="1.84" fill="#fff" fill-opacity="0.85"/>
<circle cx="553.23" cy="1698.15" r="1.06" fill="#fff" fill-opacity="0.71"/>
<circle cx="578.32" cy="1808.31" r="2.3" fill="#fff" fill-opacity="0.82"/>
<circle cx="576.86" cy="1791.58" r="2.16" fill="#fff" fill-opacity="0.74"/>
<circle cx="542.45" cy="1806.72" r="1.49" fill="#fff" fill-opacity="0.98"/>
<circle cx="438.89" cy="1858.33" r="1.84" fill="#fff" fill-opacity="0.62"/>
<circle cx="471.05" cy="1906.67" r="2.12" fill="#fff" fill-opacity="0.6"/>
<circle cx="560.45" cy="1828.4" r="1.64" fill="#fff" fill-opacity="0.87"/>
<circle cx="408.28" cy="1829.94" r="1.43" fill="#fff" fill-opacity="0.96"/>
<circle cx="625.25" cy="1780.01" r="2.07" fill="#fff" fill-opacity="0.62"/>
<circle cx="504.58" cy="1853.61" r="1.88" fill="#fff" fill-opacity="0.72"/>
<circle cx="418.49" cy="1874.11" r="1.61" fill="#fff" fill-opacity="0.59"/>
<circle cx="596.16" cy="1895.64" r="1.59" fill="#fff" fill-opacity="0.76"/>
<circle cx="557.02" cy="1850.51" r="2.39" fill="#fff" fill-opacity="0.63"/>
<circle cx="385.3" cy="1874.04" r="1.12" fill="#fff" fill-opacity="0.78"/>
<circle cx="531.09" cy="1796.56" r="1.55" fill="#fff" fill-opacity="0.59"/>
<circle cx="392.35" cy="1838.07" r="1.49" fill="#fff" fill-opacity="0.63"/>
<circle cx="569.75" cy="1812.08" r="2.31" fill="#fff" fill-opacity="0.72"/>
<circle cx="628.13" cy="1919.95" r="1.79" fill="#fff" fill-opacity="0.99"/>
<circle cx="353.46" cy="1706.26" r="1.28" fill="#fff" fill-opacity="0.83"/>
<circle cx="405.7" cy="1789.55" r="2.22" fill="#fff" fill-opacity="0.85"/>
<circle cx="545.07" cy="1846.13" r="0.88" fill="#fff" fill-opacity="0.74"/>
<circle cx="518.9" cy="1876.69" r="1.14" fill="#fff" fill-opacity="0.63"/>
<circle cx="392.53" cy="1849.67" r="1.41" fill="#fff" fill-opacity="0.96"/>
<circle cx="420.25" cy="1688.96" r="1.05" fill="#fff" fill-opacity="0.81"/>
<circle cx="514.46" cy="1804.13" r="1.72" fill="#fff" fill-opacity="0.56"/>
<circle cx="523.19" cy="1699.75" r="0.94" fill="#fff" fill-opacity="0.7"/>
<circle cx="371.21" cy="1828.43" r="1.32" fill="#fff" fill-opacity="0.78"/>
<circle cx="621.31" cy="1717.21" r="1.32" fill="#fff" fill-opacity="0.7"/>
<circle cx="393.96" cy="1662.49" r="2.24" fill="#fff" fill-opacity="0.84"/>
<circle cx="391.19" cy="1821.93" r="1.66" fill="#fff" fill-opacity="0.7"/>
<circle cx="375.23" cy="1854.19" r="1.67" fill="#fff" fill-opacity="0.63"/>
<circle cx="371.98" cy="1898.22" r="1.18" fill="#fff" fill-opacity="0.73"/>
<circle cx="548.09" cy="1768.45" r="0.92" fill="#fff" fill-opacity="0.79"/>
<circle cx="637.23" cy="1902.99" r="1.65" fill="#fff" fill-opacity="0.77"/>
<circle cx="402.24" cy="1834.2" r="2.17" fill="#fff" fill-opacity="0.68"/>
<circle cx="386.68" cy="1783.01" r="1.97" fill="#fff" fill-opacity="0.86"/>
<circle cx="515.55" cy="1918.48" r="2.02" fill="#fff" fill-opacity="0.91"/>
<circle cx="378.3" cy="1738.56" r="1.79" fill="#fff" fill-opacity="0.88"/>
<circle cx="447.65" cy="1841.26" r="2.01" fill="#fff" fill-opacity="0.67"/>
<circle cx="633.56" cy="1770.43" r="0.96" fill="#fff" fill-opacity="0.88"/>
<circle cx="600.09" cy="1825.1" r="2.28" fill="#fff" fill-opacity="0.87"/>
<circle cx="624.61" cy="1805.61" r="1.68" fill="#fff" fill-opacity="0.77"/>
<circle cx="426.36" cy="1861.76" r="2.13" fill="#fff" fill-opacity="0.78"/>
<circle cx="567.64" cy="1851.68" r="1.2" fill="#fff" fill-opacity="0.9"/>
<circle cx="538.1" cy="1835.95" r="1.98" fill="#fff" fill-opacity="0.67"/>
<circle cx="362.96" cy="1749.17" r="2.44" fill="#fff" fill-opacity="0.79"/>
<circle cx="412.64" cy="1742.65" r="2.15" fill="#fff" fill-opacity="0.88"/>
<circle cx="401.73" cy="1862.5" r="1" fill="#fff" fill-opacity="0.96"/>
<circle cx="529.25" cy="1701.82" r="1.95" fill="#fff" fill-opacity="0.82"/>
<circle cx="514.52" cy="1738.55" r="1.35" fill="#fff" fill-opacity="0.84"/>
<circle cx="522.58" cy="1790.26" r="1.16" fill="#fff" fill-opacity="0.69"/>
<circle cx="486.35" cy="1921.43" r="1.45" fill="#fff" fill-opacity="0.65"/>
<circle cx="474.93" cy="1923.07" r="1.59" fill="#fff" fill-opacity="0.65"/>
<circle cx="345.63" cy="1675.71" r="1.43" fill="#fff" fill-opacity="0.74"/>
<circle cx="497.25" cy="1920" r="1.67" fill="#fff" fill-opacity="0.77"/>
<circle cx="526.37" cy="1804.92" r="0.94" fill="#fff" fill-opacity="0.98"/>
<circle cx="392.78" cy="1832.18" r="1.56" fill="#fff" fill-opacity="0.73"/>
<circle cx="413.65" cy="1867.24" r="2.21" fill="#fff" fill-opacity="0.72"/>
<circle cx="491.62" cy="1779.89" r="1.09" fill="#fff" fill-opacity="0.84"/>
<circle cx="385.17" cy="1818.59" r="1.67" fill="#fff" fill-opacity="0.69"/>
<circle cx="545.2" cy="1800.2" r="2.13" fill="#fff" fill-opacity="0.81"/>
<circle cx="397.27" cy="1877.67" r="0.83" fill="#fff" fill-opacity="0.95"/>
<circle cx="610.08" cy="1743.18" r="1.37" fill="#fff" fill-opacity="0.58"/>
<circle cx="366.28" cy="1821.64" r="1.07" fill="#fff" fill-opacity="0.68"/>
<circle cx="584.15" cy="1851.35" r="0.96" fill="#fff" fill-opacity="0.97"/>
<circle cx="387.33" cy="1842.31" r="2.14" fill="#fff" fill-opacity="0.76"/>
<circle cx="495.41" cy="1787.85" r="2.08" fill="#fff" fill-opacity="0.89"/>
<circle cx="447.49" cy="1851.35" r="1.49" fill="#fff" fill-opacity="0.79"/>
<circle cx="494.51" cy="1866.42" r="2.03" fill="#fff" fill-opacity="0.71"/>
<circle cx="532.5" cy="1782.66" r="1.78" fill="#fff" fill-opacity="0.65"/>
<circle cx="419.91" cy="1878.45" r="1.82" fill="#fff" fill-opacity="0.83"/>
<circle cx="382.01" cy="1863.74" r="2.27" fill="#fff" fill-opacity="0.9"/>
<circle cx="543.64" cy="1912.02" r="0.97" fill="#fff" fill-opacity="0.74"/>
<circle cx="600.63" cy="1756.7" r="1.11" fill="#fff" fill-opacity="0.81"/>
<circle cx="349.93" cy="1905.74" r="0.87" fill="#fff" fill-opacity="0.9"/>
<circle cx="513.13" cy="1797.92" r="2.13" fill="#fff" fill-opacity="0.69"/>
<circle cx="364.25" cy="1826.92" r="1.06" fill="#fff" fill-opacity="0.8"/>
<circle cx="369.8" cy="1719.49" r="1.63" fill="#fff" fill-opacity="0.66"/>
<circle cx="577.6" cy="1848.75" r="1.18" fill="#fff" fill-opacity="0.55"/>
<circle cx="590.09" cy="1780.9" r="1.49" fill="#fff" fill-opacity="0.95"/>
<circle cx="509.44" cy="1887.8" r="1.43" fill="#fff" fill-opacity="0.95"/>
<circle cx="538.74" cy="1830.9" r="1.55" fill="#fff" fill-opacity="0.7"/>
<circle cx="521.18" cy="1742.6" r="1.94" fill="#fff" fill-opacity="0.68"/>
<circle cx="365.1" cy="1907.47" r="2.03" fill="#fff" fill-opacity="0.72"/>
<circle cx="570.03" cy="1725.95" r="1.68" fill="#fff" fill-opacity="0.74"/>
<circle cx="510.45" cy="1764.46" r="1.56" fill="#fff" fill-opacity="0.96"/>
<circle cx="434.32" cy="1811.18" r="0.91" fill="#fff" fill-opacity="0.97"/>
<circle cx="350.7" cy="1753.25" r="1.6" fill="#fff" fill-opacity="0.56"/>
<circle cx="389.58" cy="1711.17" r="0.95" fill="#fff" fill-opacity="0.64"/>
<circle cx="521.3" cy="1887.4" r="0.91" fill="#fff" fill-opacity="0.86"/>
<circle cx="428.08" cy="1811.06" r="1.27" fill="#fff" fill-opacity="0.84"/>
<circle cx="370.24" cy="1870.32" r="1.19" fill="#fff" fill-opacity="0.6"/>
<circle cx="585.23" cy="1818.28" r="2.5" fill="#fff" fill-opacity="0.84"/>
<circle cx="583.86" cy="1803.46" r="2.27" fill="#fff" fill-opacity="0.63"/>
<circle cx="421.44" cy="1819.46" r="1.59" fill="#fff" fill-opacity="0.87"/>
<circle cx="373.31" cy="1831.68" r="1.61" fill="#fff" fill-opacity="0.84"/>
<circle cx="547.76" cy="1661.86" r="2.43" fill="#fff" fill-opacity="0.73"/>
<circle cx="563.43" cy="1828.81" r="1.77" fill="#fff" fill-opacity="0.78"/>
<circle cx="542.49" cy="1696.83" r="1.77" fill="#fff" fill-opacity="0.65"/>
<circle cx="444.29" cy="1678.18" r="2.02" fill="#fff" fill-opacity="0.65"/>
<circle cx="419.63" cy="1656.68" r="2.01" fill="#fff" fill-opacity="0.81"/>
<circle cx="550.17" cy="1801.19" r="1.06" fill="#fff" fill-opacity="0.79"/>
<circle cx="423.43" cy="1759.77" r="2" fill="#fff" fill-opacity="0.81"/>
<circle cx="574.87" cy="1822.76" r="2.37" fill="#fff" fill-opacity="0.92"/>
<circle cx="608.3" cy="1685.11" r="1.64" fill="#fff" fill-opacity="0.7"/>
<circle cx="578.97" cy="1823.72" r="2.45" fill="#fff" fill-opacity="0.63"/>
<circle cx="367.42" cy="1774.45" r="1.62" fill="#fff" fill-opacity="0.74"/>
<circle cx="575.03" cy="1811.23" r="1.32" fill="#fff" fill-opacity="0.77"/>
<circle cx="404.76" cy="1742.31" r="0.96" fill="#fff" fill-opacity="0.57"/>
<circle cx="422.19" cy="1820.69" r="1.72" fill="#fff" fill-opacity="0.72"/>
<circle cx="490.13" cy="1761.21" r="2.04" fill="#fff" fill-opacity="0.91"/>
<circle cx="511.98" cy="1922.86" r="1.58" fill="#fff" fill-opacity="0.8"/>
<circle cx="552.96" cy="1910.41" r="1.34" fill="#fff" fill-opacity="0.94"/>
<circle cx="362.6" cy="1867.33" r="1.9" fill="#fff" fill-opacity="0.91"/>
<circle cx="552.91" cy="1795.42" r="1.35" fill="#fff" fill-opacity="0.81"/>
<circle cx="417.92" cy="1791.91" r="1.39" fill="#fff" fill-opacity="0.91"/>
<circle cx="396.62" cy="1803.6" r="2.39" fill="#fff" fill-opacity="0.56"/>
<circle cx="393.14" cy="1881.22" r="1.73" fill="#fff" fill-opacity="0.97"/>
<circle cx="363.95" cy="1740.62" r="1.03" fill="#fff" fill-opacity="0.69"/>
<circle cx="551.72" cy="1809.61" r="2.16" fill="#fff" fill-opacity="0.78"/>
<circle cx="573.08" cy="1824.28" r="2.47" fill="#fff" fill-opacity="0.7"/>
<circle cx="546.63" cy="1838.2" r="1.76" fill="#fff" fill-opacity="0.67"/>
<circle cx="419.24" cy="1799.27" r="2.26" fill="#fff" fill-opacity="0.95"/>
<circle cx="416.47" cy="1841.74" r="1.01" fill="#fff" fill-opacity="0.9"/>
<circle cx="571.07" cy="1734.24" r="1.28" fill="#fff" fill-opacity="0.9"/>
<circle cx="482.68" cy="1874.22" r="0.98" fill="#fff" fill-opacity="0.71"/>
<circle cx="604.56" cy="1694.51" r="2.08" fill="#fff" fill-opacity="0.59"/>
<circle cx="416.41" cy="1866.89" r="2.13" fill="#fff" fill-opacity="0.79"/>
<circle cx="599.89" cy="1825.58" r="1.45" fill="#fff" fill-opacity="0.96"/>
<circle cx="608.17" cy="1753.43" r="1.88" fill="#fff" fill-opacity="0.88"/>
<circle cx="566.99" cy="1778.82" r="1.13" fill="#fff" fill-opacity="0.91"/>
<circle cx="531.8" cy="1750.53" r="0.92" fill="#fff" fill-opacity="0.78"/>
<circle cx="502.21" cy="1661.7" r="1.93" fill="#fff" fill-opacity="0.86"/>
<circle cx="538.03" cy="1711.71" r="1.63" fill="#fff" fill-opacity="0.57"/>
<circle cx="562.34" cy="1822.02" r="1.56" fill="#fff" fill-opacity="0.65"/>
<circle cx="583.02" cy="1813.86" r="1.47" fill="#fff" fill-opacity="0.8"/>
<circle cx="502.08" cy="1825.65" r="1.37" fill="#fff" fill-opacity="0.65"/>
<circle cx="433.1" cy="1848.85" r="2.09" fill="#fff" fill-opacity="0.81"/>
<circle cx="576.3" cy="1801.34" r="1.63" fill="#fff" fill-opacity="0.57"/>
<circle cx="570.43" cy="1825.02" r="2.05" fill="#fff" fill-opacity="0.85"/>
<circle cx="405.77" cy="1797.16" r="2.04" fill="#fff" fill-opacity="0.64"/>
<circle cx="436.67" cy="1744.32" r="1.39" fill="#fff" fill-opacity="0.88"/>
<circle cx="379.45" cy="1856.59" r="0.96" fill="#fff" fill-opacity="0.66"/>
<circle cx="550.2" cy="1804.32" r="2.41" fill="#fff" fill-opacity="0.98"/>
<circle cx="492.01" cy="1832.95" r="1.87" fill="#fff" fill-opacity="0.74"/>
<circle cx="357.15" cy="1725.39" r="1.05" fill="#fff" fill-opacity="0.79"/>
<circle cx="396.46" cy="1868.56" r="1.86" fill="#fff" fill-opacity="0.94"/>
<circle cx="506.01" cy="1908.84" r="2.24" fill="#fff" fill-opacity="0.9"/>
<circle cx="566.06" cy="1815.22" r="2.43" fill="#fff" fill-opacity="0.6"/>
<circle cx="576.15" cy="1848.89" r="1.96" fill="#fff" fill-opacity="0.73"/>
<circle cx="352.44" cy="1784.55" r="2.26" fill="#fff" fill-opacity="0.85"/>
<circle cx="559.62" cy="1816.63" r="2.37" fill="#fff" fill-opacity="0.75"/>
<circle cx="563.23" cy="1707.72" r="2.33" fill="#fff" fill-opacity="0.85"/>
<circle cx="361.83" cy="1924.38" r="2.42" fill="#fff" fill-opacity="0.93"/>
<circle cx="490.43" cy="1785.09" r="1.67" fill="#fff" fill-opacity="0.91"/>
<circle cx="536.01" cy="1806.71" r="1.67" fill="#fff" fill-opacity="0.78"/>
<circle cx="636.73" cy="1709.18" r="1.36" fill="#fff" fill-opacity="0.69"/>
<circle cx="381.57" cy="1764.99" r="2.37" fill="#fff" fill-opacity="0.77"/>
<circle cx="604.25" cy="1841.81" r="2.09" fill="#fff" fill-opacity="0.69"/>
<circle cx="520.62" cy="1863.28" r="1.38" fill="#fff" fill-opacity="0.92"/>
<circle cx="582.34" cy="1918.93" r="1.16" fill="#fff" fill-opacity="0.6"/>
<circle cx="558.5" cy="1855" r="2.13" fill="#fff" fill-opacity="0.78"/>
<circle cx="538.52" cy="1811.92" r="2.09" fill="#fff" fill-opacity="0.81"/>
<circle cx="631.71" cy="1674.84" r="2.03" fill="#fff" fill-opacity="0.73"/>
<circle cx="599.74" cy="1885.94" r="1.81" fill="#fff" fill-opacity="0.99"/>
<circle cx="555.98" cy="1776.29" r="0.9" fill="#fff" fill-opacity="0.88"/>
<circle cx="474.68" cy="1873.68" r="2.02" fill="#fff" fill-opacity="0.7"/>
<circle cx="528.87" cy="1825.49" r="0.86" fill="#fff" fill-opacity="0.61"/>
<circle cx="420.13" cy="1811.12" r="2.13" fill="#fff" fill-opacity="0.62"/>
<circle cx="393.8" cy="1702.9" r="1.16" fill="#fff" fill-opacity="0.7"/>
<circle cx="551.09" cy="1776.7" r="1.15" fill="#fff" fill-opacity="0.63"/>
<circle cx="444.2" cy="1837.42" r="0.8" fill="#fff" fill-opacity="0.87"/>
<circle cx="407.43" cy="1876.29" r="1.36" fill="#fff" fill-opacity="0.66"/>
<circle cx="606.05" cy="1829.83" r="0.88" fill="#fff" fill-opacity="0.62"/>
<circle cx="428.22" cy="1724.93" r="2.47" fill="#fff" fill-opacity="0.57"/>
<circle cx="525.66" cy="1746.23" r="1.54" fill="#fff" fill-opacity="0.97"/>
<circle cx="538.83" cy="1790.43" r="2.29" fill="#fff" fill-opacity="0.6"/>
<circle cx="608.74" cy="1778.79" r="2.21" fill="#fff" fill-opacity="0.56"/>
<circle cx="596.07" cy="1839.5" r="1.97" fill="#fff" fill-opacity="0.91"/>
<circle cx="439.16" cy="1686.79" r="1.48" fill="#fff" fill-opacity="0.61"/>
<circle cx="464.11" cy="1870.04" r="1.36" fill="#fff" fill-opacity="0.97"/>
<circle cx="379.68" cy="1720.23" r="2.29" fill="#fff" fill-opacity="0.69"/>
<circle cx="465.21" cy="1798.01" r="2" fill="#fff" fill-opacity="0.91"/>
<circle cx="387.91" cy="1859.44" r="1.43" fill="#fff" fill-opacity="0.7"/>
<circle cx="390.33" cy="1878.77" r="2.18" fill="#fff" fill-opacity="0.7"/>
<circle cx="508.42" cy="1798.37" r="1.75" fill="#fff" fill-opacity="0.59"/>
<circle cx="616.35" cy="1678.3" r="1.94" fill="#fff" fill-opacity="0.84"/>
<circle cx="582.98" cy="1840.47" r="0.89" fill="#fff" fill-opacity="0.55"/>
<circle cx="414.89" cy="1864.2" r="1.7" fill="#fff" fill-opacity="0.9"/>
<circle cx="605.06" cy="1838.28" r="1.76" fill="#fff" fill-opacity="0.91"/>
<circle cx="501.1" cy="1914.06" r="2.33" fill="#fff" fill-opacity="0.87"/>
<circle cx="489.37" cy="1883.71" r="1.37" fill="#fff" fill-opacity="0.87"/>
<circle cx="536.34" cy="1662.46" r="0.93" fill="#fff" fill-opacity="0.81"/>
<circle cx="543.76" cy="1804.29" r="1.31" fill="#fff" fill-opacity="0.88"/>
<circle cx="548.31" cy="1846.43" r="1.59" fill="#fff" fill-opacity="0.68"/>
<circle cx="635.46" cy="1680.59" r="1.4" fill="#fff" fill-opacity="0.71"/>
<circle cx="518.89" cy="1877.04" r="1.72" fill="#fff" fill-opacity="0.88"/>
<circle cx="635.23" cy="1907.57" r="1.43" fill="#fff" fill-opacity="1"/>
<circle cx="420.74" cy="1875.77" r="1.51" fill="#fff" fill-opacity="0.97"/>
<circle cx="414.8" cy="1844.81" r="0.96" fill="#fff" fill-opacity="0.96"/>
<circle cx="366.09" cy="1841.55" r="1.04" fill="#fff" fill-opacity="0.59"/>
<circle cx="471.56" cy="1650.8" r="2.01" fill="#fff" fill-opacity="0.61"/>
<circle cx="605.07" cy="1697.99" r="2.08" fill="#fff" fill-opacity="0.82"/>
<circle cx="478.61" cy="1902.49" r="2.07" fill="#fff" fill-opacity="0.85"/>
<ellipse cx="98" cy="1582" rx="4" ry="6" fill="#fff" fill-opacity="0.45" filter="url(#bl)"/>
<ellipse cx="62" cy="1612" rx="12" ry="4" fill="#fff" fill-opacity="0.3" filter="url(#bl)"/>
<ellipse cx="395" cy="1588" rx="4" ry="6" fill="#fff" fill-opacity="0.4" filter="url(#bl)"/>
<ellipse cx="412" cy="1600" rx="6" ry="3" fill="#fff" fill-opacity="0.35" filter="url(#bl)"/>
<ellipse cx="110" cy="1905" rx="10" ry="4" fill="#fff" fill-opacity="0.4" filter="url(#bl)"/>
<ellipse cx="80" cy="1912" rx="6" ry="4" fill="#fff" fill-opacity="0.35" filter="url(#bl)"/>
<ellipse cx="415" cy="1893" rx="9" ry="7" fill="#fff" fill-opacity="0.6" filter="url(#bl)"/>
<ellipse cx="424" cy="1908" rx="5" ry="9" fill="#fff" fill-opacity="0.55" filter="url(#bl)"/>
<ellipse cx="392" cy="1880" rx="5" ry="5" fill="#fff" fill-opacity="0.4" filter="url(#bl)"/>
<ellipse cx="186.5" cy="1471" rx="133.8" ry="74.3" transform="rotate(34.5 186.5 1471)" fill="none" stroke="#fff" stroke-width="2.2"/>
<path d="M174.4,1392.4 C175.27,1395.58 178.73,1403.98 179.6,1411.5 C180.47,1419.02 180.9,1428.83 179.6,1437.5 C178.3,1446.17 175.7,1455.4 171.8,1463.5 C167.9,1471.6 161.7,1479.73 156.2,1486.1 C150.7,1492.47 145.17,1497.5 138.8,1501.7 C132.43,1505.9 121.47,1509.7 118,1511.3" fill="none" stroke="#fff" stroke-width="2" stroke-linecap="round" stroke-linejoin="round" stroke-dasharray="1.3,3.2"/>
<path d="M255.1,1440.1 C251.08,1441.42 238.37,1444.38 231,1448 C223.63,1451.62 216.72,1455.45 210.9,1461.8 C205.08,1468.15 199.43,1477.13 196.1,1486.1 C192.77,1495.07 191.18,1504.03 190.9,1515.6 C190.62,1527.17 193.82,1548.85 194.4,1555.5" fill="none" stroke="#fff" stroke-width="2" stroke-linecap="round" stroke-linejoin="round" stroke-dasharray="1.3,3.2"/>
<path d="M72.5,1488.5 C73.92,1487.58 75.75,1488.42 78,1489.5 C80.25,1490.58 76.83,1488.08 86,1495 C95.17,1501.92 115.52,1517.73 133,1531 C150.48,1544.27 178.65,1565.6 190.9,1574.6 C203.15,1583.6 203.03,1581.23 206.5,1585 C209.97,1588.77 211.7,1594.02 211.7,1597.2 C211.7,1600.38 212.87,1602.65 206.5,1604.1 C200.13,1605.55 184.78,1606.47 173.5,1605.9 C162.22,1605.33 148.92,1603.02 138.8,1600.7 C128.68,1598.38 119.15,1594.03 112.8,1592 C106.45,1589.97 103.88,1590.82 100.7,1588.5 C97.52,1586.18 96.88,1583.02 93.7,1578.1 C90.52,1573.18 84.78,1565.08 81.6,1559 C78.42,1552.92 76.77,1550.27 74.6,1541.6 C72.43,1532.93 69.45,1514.77 68.6,1507 C67.75,1499.23 68.85,1498.08 69.5,1495 C70.15,1491.92 71.08,1489.42 72.5,1488.5 Z" fill="none" stroke="#fff" stroke-width="2" stroke-linecap="butt" stroke-linejoin="round" stroke-dasharray="9,5"/>
<path d="M67.7,1362 C67.27,1366.2 66.55,1379.53 65.1,1387.2 C63.65,1394.87 60.17,1398.17 59,1408 C57.83,1417.83 57.52,1434.05 58.1,1446.2 C58.68,1458.35 60.62,1469.33 62.5,1480.9 C64.38,1492.47 67.38,1505.48 69.4,1515.6 C71.42,1525.72 72.87,1534.08 74.6,1541.6 C76.33,1549.12 77.2,1555.2 79.8,1560.7 C82.4,1566.2 88.32,1570.55 90.2,1574.6 C92.08,1578.65 91.67,1582.1 91.1,1585 C90.53,1587.9 89.25,1592 86.8,1592 C84.35,1592 79.87,1587.17 76.4,1585 C72.93,1582.83 69.92,1580 66,1579 C62.08,1578 55.08,1579 52.9,1579" fill="none" stroke="#fff" stroke-width="2" stroke-linecap="round" stroke-linejoin="round"/>
<path d="M52,1616.3 C55.83,1616 67.77,1615.08 75,1614.5 C82.23,1613.92 89.1,1613.95 95.4,1612.8 C101.7,1611.65 108.45,1610.07 112.8,1607.6 C117.15,1605.13 119.47,1599.85 121.5,1598 C123.53,1596.15 123.27,1595.48 125,1596.5 C126.73,1597.52 126.7,1601.82 131.9,1604.1 C137.1,1606.38 140.58,1609.05 156.2,1610.2 C171.82,1611.35 205.35,1612.3 225.6,1611 C245.85,1609.7 262.22,1605.57 277.7,1602.4 C293.18,1599.23 311.7,1593.73 318.5,1592" fill="none" stroke="#fff" stroke-width="2" stroke-linecap="round" stroke-linejoin="round"/>
<ellipse cx="485.6" cy="1475" rx="132.5" ry="71.4" transform="rotate(33.5 485.6 1475)" fill="none" stroke="#fff" stroke-width="2.2"/>
<path d="M473.2,1392.4 C474.03,1396.33 477.5,1407.02 478.2,1416 C478.9,1424.98 479.35,1437.03 477.4,1446.3 C475.45,1455.57 471.7,1463.73 466.5,1471.6 C461.3,1479.47 454.48,1487.18 446.2,1493.5 C437.92,1499.82 421.7,1506.83 416.8,1509.5" fill="none" stroke="#fff" stroke-width="2" stroke-linecap="round" stroke-linejoin="round" stroke-dasharray="1.3,3.2"/>
<path d="M553.2,1438.8 C548.28,1441.18 532.27,1447.07 523.7,1453.1 C515.13,1459.13 507.42,1466.3 501.8,1475 C496.18,1483.7 492.1,1496.03 490,1505.3 C487.9,1514.57 488.92,1522.6 489.2,1530.6 C489.48,1538.6 491.28,1549.52 491.7,1553.3" fill="none" stroke="#fff" stroke-width="2" stroke-linecap="round" stroke-linejoin="round" stroke-dasharray="1.3,3.2"/>
<path d="M368,1490.5 C369.58,1489.5 371.67,1489.67 374,1491 C376.33,1492.33 374.17,1491.9 382,1498.5 C389.83,1505.1 407.2,1519.92 421,1530.6 C434.8,1541.28 451.33,1554.03 464.8,1562.6 C478.27,1571.17 494.5,1577.23 501.8,1582 C509.1,1586.77 507.62,1588.53 508.6,1591.2 C509.58,1593.87 509.38,1596.32 507.7,1598 C506.02,1599.68 508.47,1600.88 498.5,1601.3 C488.53,1601.72 461.38,1601.33 447.9,1600.5 C434.42,1599.67 426.02,1598.68 417.6,1596.3 C409.18,1593.92 403.58,1591.82 397.4,1586.2 C391.22,1580.58 385,1571.03 380.5,1562.6 C376,1554.17 373.33,1545.72 370.4,1535.6 C367.47,1525.48 363.88,1508.33 362.9,1501.9 C361.92,1495.47 363.65,1498.9 364.5,1497 C365.35,1495.1 366.42,1491.5 368,1490.5 Z" fill="none" stroke="#fff" stroke-width="2" stroke-linecap="butt" stroke-linejoin="round" stroke-dasharray="9,5"/>
<path d="M361.2,1359.6 C361.62,1364.23 363.7,1374.35 363.7,1387.4 C363.7,1400.45 362.32,1421.05 361.2,1437.9 C360.08,1454.75 357.7,1475.87 357,1488.5 C356.3,1501.13 355.05,1505.28 357,1513.7 C358.95,1522.12 364.78,1530.57 368.7,1539 C372.62,1547.43 376.28,1557.42 380.5,1564.3 C384.72,1571.18 390.92,1576.37 394,1580.3 C397.08,1584.23 398.58,1585.52 399,1587.9 C399.42,1590.28 398.73,1592.63 396.5,1594.6 C394.27,1596.57 391.92,1598.72 385.6,1599.7 C379.28,1600.68 364.08,1600.08 358.6,1600.5 C353.12,1600.92 353.68,1601.92 352.7,1602.2" fill="none" stroke="#fff" stroke-width="2" stroke-linecap="round" stroke-linejoin="round"/>
<path d="M352.7,1602.2 C352.7,1588.3 351.98,1533.55 352.7,1518.8 C353.42,1504.05 356.28,1514.55 357,1513.7" fill="none" stroke="#fff" stroke-width="2" stroke-linecap="round" stroke-linejoin="round"/>
<path d="M396.5,1624.9 C399.73,1623.5 410.13,1619.87 415.9,1616.5 C421.67,1613.13 426.88,1607.08 431.1,1604.7 C435.32,1602.32 431.93,1601.63 441.2,1602.2 C450.47,1602.77 468.73,1606.13 486.7,1608.1 C504.67,1610.07 531.6,1613.87 549,1614 C566.4,1614.13 579.3,1612.13 591.1,1608.9 C602.9,1605.67 615.02,1596.98 619.8,1594.6" fill="none" stroke="#fff" stroke-width="2" stroke-linecap="round" stroke-linejoin="round"/>
<ellipse cx="181.6" cy="1768.8" rx="132.8" ry="71.3" transform="rotate(31.3 181.6 1768.8)" fill="none" stroke="#fff" stroke-width="2.2"/>
<path d="M171.5,1686.4 C172.35,1690.93 176.18,1704.82 176.6,1713.6 C177.02,1722.38 176.55,1729.73 174,1739.1 C171.45,1748.47 167.12,1761 161.3,1769.8 C155.48,1778.6 147.33,1785.95 139.1,1791.9 C130.87,1797.85 116.43,1803.23 111.9,1805.5" fill="none" stroke="#fff" stroke-width="2" stroke-linecap="round" stroke-linejoin="round" stroke-dasharray="1.3,3.2"/>
<path d="M251.5,1733.2 C246.97,1735.9 232.82,1742.73 224.3,1749.4 C215.78,1756.07 205.93,1763.57 200.4,1773.2 C194.87,1782.83 192.8,1794.72 191.1,1807.2 C189.4,1819.68 190.35,1841.28 190.2,1848.1" fill="none" stroke="#fff" stroke-width="2" stroke-linecap="round" stroke-linejoin="round" stroke-dasharray="1.3,3.2"/>
<path d="M55,1781.5 C56.67,1780.42 57.4,1778.92 61.5,1781.5 C65.6,1784.08 69.5,1789.02 79.6,1797 C89.7,1804.98 106.5,1818.05 122.1,1829.4 C137.7,1840.75 160.15,1855.75 173.2,1865.1 C186.25,1874.45 195.72,1880.4 200.4,1885.5 C205.08,1890.6 201.58,1892 201.3,1895.7 C201.02,1899.4 200.55,1905.42 198.7,1907.7 C196.85,1909.98 197.28,1910.12 190.2,1909.4 C183.12,1908.68 168.97,1905.12 156.2,1903.4 C143.43,1901.68 124.38,1900.67 113.6,1899.1 C102.82,1897.53 97.73,1897.4 91.5,1894 C85.27,1890.6 81.02,1886.07 76.2,1878.7 C71.38,1871.33 66.58,1860.3 62.6,1849.8 C58.62,1839.3 54.15,1826 52.3,1815.7 C50.45,1805.4 51.05,1793.7 51.5,1788 C51.95,1782.3 53.33,1782.58 55,1781.5 Z" fill="none" stroke="#fff" stroke-width="2" stroke-linecap="butt" stroke-linejoin="round" stroke-dasharray="9,5"/>
<path d="M51.5,1660.9 C51.22,1671.1 50.37,1700.55 49.8,1722.1 C49.23,1743.65 48.1,1773.17 48.1,1790.2 C48.1,1807.23 47.97,1812.95 49.8,1824.3 C51.63,1835.65 55.27,1848.95 59.1,1858.3 C62.93,1867.65 69.95,1873.3 72.8,1880.4 C75.65,1887.5 76.2,1895.5 76.2,1900.9 C76.2,1906.3 75.07,1910.12 72.8,1912.8 C70.53,1915.48 67.28,1916.3 62.6,1917 C57.92,1917.7 47.68,1917 44.7,1917" fill="none" stroke="#fff" stroke-width="2" stroke-linecap="round" stroke-linejoin="round"/>
<path d="M91.5,1923 C93.48,1921.3 99.43,1915.63 103.4,1912.8 C107.37,1909.97 110.77,1907.7 115.3,1906 C119.83,1904.3 126.05,1902.32 130.6,1902.6 C135.15,1902.88 134.93,1906.85 142.6,1907.7 C150.27,1908.55 169.23,1907.15 176.6,1907.7 C183.97,1908.25 178.85,1910.3 186.8,1911 C194.75,1911.7 212.38,1912.73 224.3,1911.9 C236.22,1911.07 243.13,1913.65 258.3,1906 C273.47,1898.35 305.8,1872.67 315.3,1866" fill="none" stroke="#fff" stroke-width="2" stroke-linecap="round" stroke-linejoin="round"/>
<ellipse cx="490.9" cy="1774" rx="133.2" ry="70.6" transform="rotate(33.7 490.9 1774)" fill="none" stroke="#fff" stroke-width="2.2"/>
<path d="M478.1,1689.8 C478.67,1693.77 481.5,1705.38 481.5,1713.6 C481.5,1721.82 480.67,1729.73 478.1,1739.1 C475.53,1748.47 471.5,1760.72 466.1,1769.8 C460.7,1778.88 453.35,1787.23 445.7,1793.6 C438.05,1799.97 424.45,1805.6 420.2,1808" fill="none" stroke="#fff" stroke-width="2" stroke-linecap="round" stroke-linejoin="round" stroke-dasharray="1.3,3.2"/>
<path d="M558,1736.6 C553.47,1739 539.3,1744.9 530.8,1751 C522.3,1757.1 512.82,1763.83 507,1773.2 C501.18,1782.57 497.47,1794.17 495.9,1807.2 C494.33,1820.23 497.32,1844.03 497.6,1851.4" fill="none" stroke="#fff" stroke-width="2" stroke-linecap="round" stroke-linejoin="round" stroke-dasharray="1.3,3.2"/>
<path d="M370,1777 C371.67,1776.42 373.67,1777.67 376,1779.5 C378.33,1781.33 375.78,1779.13 384,1788 C392.22,1796.87 411.03,1819 425.3,1832.7 C439.57,1846.4 458.25,1860.83 469.6,1870.2 C480.95,1879.57 489.3,1884.93 493.4,1888.9 C497.5,1892.87 495.9,1892.3 494.2,1894 C492.5,1895.7 490.72,1898.82 483.2,1899.1 C475.68,1899.38 461.02,1897.68 449.1,1895.7 C437.18,1893.72 423.03,1891.17 411.7,1887.2 C400.37,1883.23 388.2,1878.15 381.1,1871.9 C374,1865.65 371.8,1859.07 369.1,1849.7 C366.4,1840.33 365.42,1826.82 364.9,1815.7 C364.38,1804.58 365.15,1789.45 366,1783 C366.85,1776.55 368.33,1777.58 370,1777 Z" fill="none" stroke="#fff" stroke-width="2" stroke-linecap="butt" stroke-linejoin="round" stroke-dasharray="9,5"/>
<path d="M360.6,1660.8 C360.47,1671.02 359.93,1700.53 359.8,1722.1 C359.67,1743.67 359.67,1770.35 359.8,1790.2 C359.93,1810.05 359.05,1828.43 360.6,1841.2 C362.15,1853.97 366.25,1859.7 369.1,1866.8 C371.95,1873.9 375.7,1878.42 377.7,1883.8 C379.7,1889.18 380.68,1895.42 381.1,1899.1 C381.52,1902.78 383.9,1905.05 380.2,1905.9 C376.5,1906.75 362.45,1904.48 358.9,1904.2" fill="none" stroke="#fff" stroke-width="2" stroke-linecap="round" stroke-linejoin="round"/>
<path d="M381.1,1871.9 C384.25,1874.08 392.07,1880.47 400,1885 C407.93,1889.53 417.68,1895.62 428.7,1899.1 C439.72,1902.58 454.18,1904.2 466.1,1905.9 C478.02,1907.6 486.02,1908.73 500.2,1909.3 C514.38,1909.87 537.02,1911 551.2,1909.3 C565.38,1907.6 573.1,1904.77 585.3,1899.1 C597.5,1893.43 617.88,1879.27 624.4,1875.3" fill="none" stroke="#fff" stroke-width="2" stroke-linecap="round" stroke-linejoin="round"/>
<text x="186.24" y="1367.84" font-family="'Liberation Sans', Arial, sans-serif" font-size="26.98" fill="#fff" textLength="47.58" lengthAdjust="spacingAndGlyphs">GFP</text>
<text x="232.45" y="1357.56" font-family="'Liberation Sans', Arial, sans-serif" font-size="14.18" fill="#fff" textLength="31.48" lengthAdjust="spacingAndGlyphs">Sf1</text>
<text x="262.55" y="1368.73" font-family="'Liberation Sans', Arial, sans-serif" font-size="27.23" fill="#fff" textLength="50.03" lengthAdjust="spacingAndGlyphs">-Sal</text>
<text x="443.45" y="1368.66" font-family="'Liberation Sans', Arial, sans-serif" font-size="25" fill="#fff" textLength="117.86" lengthAdjust="spacingAndGlyphs">cPLA2KD</text>
<text x="560.04" y="1357.79" font-family="'Liberation Sans', Arial, sans-serif" font-size="11.45" fill="#fff" textLength="25.18" lengthAdjust="spacingAndGlyphs">Sf1</text>
<text x="583.96" y="1368.75" font-family="'Liberation Sans', Arial, sans-serif" font-size="25.46" fill="#fff" textLength="49.5" lengthAdjust="spacingAndGlyphs">-Sal</text>
<text x="177.87" y="1661.43" font-family="'Liberation Sans', Arial, sans-serif" font-size="27.68" fill="#fff" textLength="50.22" lengthAdjust="spacingAndGlyphs">GFP</text>
<text x="226.88" y="1650.46" font-family="'Liberation Sans', Arial, sans-serif" font-size="13.91" fill="#fff" textLength="27.21" lengthAdjust="spacingAndGlyphs">Sf1</text>
<text x="253.59" y="1662.33" font-family="'Liberation Sans', Arial, sans-serif" font-size="27.91" fill="#fff" textLength="53.99" lengthAdjust="spacingAndGlyphs">-Glc</text>
<text x="435.25" y="1661.44" font-family="'Liberation Sans', Arial, sans-serif" font-size="26.41" fill="#fff" textLength="117.24" lengthAdjust="spacingAndGlyphs">cPLA2KD</text>
<text x="552.16" y="1650.48" font-family="'Liberation Sans', Arial, sans-serif" font-size="12.68" fill="#fff" textLength="24.54" lengthAdjust="spacingAndGlyphs">Sf1</text>
<text x="575.49" y="1662.33" font-family="'Liberation Sans', Arial, sans-serif" font-size="27.91" fill="#fff" textLength="53.99" lengthAdjust="spacingAndGlyphs">-Glc</text>
<text x="103.22" y="1406.15" font-family="'Liberation Sans', Arial, sans-serif" font-size="15.39" fill="#fff" textLength="29.17" lengthAdjust="spacingAndGlyphs">dm</text>
<text x="209.23" y="1429.54" font-family="'Liberation Sans', Arial, sans-serif" font-size="16.79" fill="#fff" textLength="9.05" lengthAdjust="spacingAndGlyphs">c</text>
<text x="263.64" y="1438.4" font-family="'Liberation Sans', Arial, sans-serif" font-size="22.67" font-weight="bold" fill="#fff" textLength="52.97" lengthAdjust="spacingAndGlyphs">VMH</text>
<text x="260.23" y="1552.9" font-family="'Liberation Sans', Arial, sans-serif" font-size="21.53" fill="#fff">vl</text>
<text x="219" y="1601.27" font-family="'Liberation Sans', Arial, sans-serif" font-size="23.3" font-weight="bold" fill="#fff" textLength="43.55" lengthAdjust="spacingAndGlyphs">ARC</text>
<text x="44.81" y="1564.91" font-family="'Liberation Sans', Arial, sans-serif" font-size="19.63" fill="#fff" textLength="22.07" lengthAdjust="spacingAndGlyphs">3V</text>
<text x="357.07" y="1585.12" font-family="'Liberation Sans', Arial, sans-serif" font-size="18.93" fill="#fff" textLength="23.52" lengthAdjust="spacingAndGlyphs">3V</text>
<text x="40.64" y="1893.86" font-family="'Liberation Sans', Arial, sans-serif" font-size="14.41" fill="#fff" textLength="21.13" lengthAdjust="spacingAndGlyphs">3V</text>
<text x="340.44" y="1893.84" font-family="'Liberation Sans', Arial, sans-serif" font-size="16.81" fill="#fff" textLength="21.13" lengthAdjust="spacingAndGlyphs">3V</text>
<rect x="480.6" y="1913.9" width="155.7" height="3.6" fill="#fff" stroke="none" stroke-width="0"/>
<text x="716.51" y="1326.59" font-family="'Liberation Sans', Arial, sans-serif" font-size="39.09" font-weight="bold" fill="#000" textLength="24.97" lengthAdjust="spacingAndGlyphs">p</text>
<rect x="793.2" y="1816.8" width="27.2" height="87" fill="#fff" stroke="#000" stroke-width="3.4"/>
<rect x="831.4" y="1455.4" width="26.8" height="448.4" fill="#6d6560" stroke="#000" stroke-width="3.4"/>
<rect x="868.5" y="1819.9" width="27.7" height="83.9" fill="#fff" stroke="#d92a23" stroke-width="2.8"/>
<rect x="906.6" y="1821.6" width="27.4" height="82.2" fill="#f0a07b" stroke="#d92a23" stroke-width="2.8"/>
<rect x="975.6" y="1844.2" width="26.8" height="59.6" fill="#fff" stroke="#000" stroke-width="3.4"/>
<rect x="1014.1" y="1744.7" width="26.8" height="159.1" fill="#6d6560" stroke="#000" stroke-width="3.4"/>
<rect x="1050.9" y="1857.7" width="28.1" height="46.1" fill="#fff" stroke="#d92a23" stroke-width="2.8"/>
<rect x="1089.4" y="1866.9" width="27.4" height="36.9" fill="#f0a07b" stroke="#d92a23" stroke-width="2.8"/>
<rect x="1158.7" y="1803.9" width="26.8" height="99.9" fill="#fff" stroke="#000" stroke-width="3.4"/>
<rect x="1196.5" y="1550.6" width="26.8" height="353.2" fill="#6d6560" stroke="#000" stroke-width="3.4"/>
<rect x="1234" y="1821.8" width="27.4" height="82" fill="#fff" stroke="#d92a23" stroke-width="2.8"/>
<rect x="1271.8" y="1609.5" width="27.4" height="294.3" fill="#f0a07b" stroke="#d92a23" stroke-width="2.8"/>
<line x1="806.8" y1="1833.5" x2="806.8" y2="1797.7" stroke="#000" stroke-width="1.5" stroke-linecap="butt"/>
<line x1="798.3" y1="1833.5" x2="815.3" y2="1833.5" stroke="#000" stroke-width="1.5" stroke-linecap="butt"/>
<line x1="798.3" y1="1797.7" x2="815.3" y2="1797.7" stroke="#000" stroke-width="1.5" stroke-linecap="butt"/>
<circle cx="806.8" cy="1782.3" r="5.6" fill="#fff" stroke="#000" stroke-width="1.5"/>
<circle cx="806.8" cy="1831" r="5.6" fill="#fff" stroke="#000" stroke-width="1.5"/>
<circle cx="806.8" cy="1843.8" r="5.6" fill="#fff" stroke="#000" stroke-width="1.5"/>
<line x1="844.8" y1="1464.8" x2="844.8" y2="1443.6" stroke="#000" stroke-width="1.5" stroke-linecap="butt"/>
<line x1="836.3" y1="1464.8" x2="853.3" y2="1464.8" stroke="#000" stroke-width="1.5" stroke-linecap="butt"/>
<line x1="836.3" y1="1443.6" x2="853.3" y2="1443.6" stroke="#000" stroke-width="1.5" stroke-linecap="butt"/>
<circle cx="834.3" cy="1443.6" r="6.9" fill="#000" stroke="none" stroke-width="0"/>
<circle cx="854.2" cy="1443.6" r="6.9" fill="#000" stroke="none" stroke-width="0"/>
<circle cx="844.6" cy="1470.4" r="6.9" fill="#000" stroke="none" stroke-width="0"/>
<line x1="882.35" y1="1826" x2="882.35" y2="1812" stroke="#d92a23" stroke-width="1.5" stroke-linecap="butt"/>
<line x1="873.85" y1="1826" x2="890.85" y2="1826" stroke="#d92a23" stroke-width="1.5" stroke-linecap="butt"/>
<line x1="873.85" y1="1812" x2="890.85" y2="1812" stroke="#d92a23" stroke-width="1.5" stroke-linecap="butt"/>
<rect x="877" y="1803.3" width="10.8" height="10.8" fill="none" stroke="#d92a23" stroke-width="1.8"/>
<rect x="869.1" y="1819.8" width="10.8" height="10.8" fill="none" stroke="#d92a23" stroke-width="1.8"/>
<rect x="884.9" y="1819.8" width="10.8" height="10.8" fill="none" stroke="#d92a23" stroke-width="1.8"/>
<line x1="920.3" y1="1848" x2="920.3" y2="1793.3" stroke="#d92a23" stroke-width="1.5" stroke-linecap="butt"/>
<line x1="911.8" y1="1848" x2="928.8" y2="1848" stroke="#d92a23" stroke-width="1.5" stroke-linecap="butt"/>
<line x1="911.8" y1="1793.3" x2="928.8" y2="1793.3" stroke="#d92a23" stroke-width="1.5" stroke-linecap="butt"/>
<rect x="912.7" y="1762.4" width="13.6" height="13.6" fill="#d92a23" stroke="none" stroke-width="0"/>
<rect x="912.7" y="1836.2" width="13.6" height="13.6" fill="#d92a23" stroke="none" stroke-width="0"/>
<rect x="912.7" y="1848.2" width="13.6" height="13.6" fill="#d92a23" stroke="none" stroke-width="0"/>
<line x1="989" y1="1856.7" x2="989" y2="1829.3" stroke="#000" stroke-width="1.5" stroke-linecap="butt"/>
<line x1="980.5" y1="1856.7" x2="997.5" y2="1856.7" stroke="#000" stroke-width="1.5" stroke-linecap="butt"/>
<line x1="980.5" y1="1829.3" x2="997.5" y2="1829.3" stroke="#000" stroke-width="1.5" stroke-linecap="butt"/>
<circle cx="988.9" cy="1824.2" r="5.6" fill="#fff" stroke="#000" stroke-width="1.5"/>
<circle cx="988.9" cy="1840.7" r="5.6" fill="#fff" stroke="#000" stroke-width="1.5"/>
<circle cx="988.9" cy="1863.7" r="5.6" fill="#fff" stroke="#000" stroke-width="1.5"/>
<line x1="1027.5" y1="1765.9" x2="1027.5" y2="1721.1" stroke="#000" stroke-width="1.5" stroke-linecap="butt"/>
<line x1="1019" y1="1765.9" x2="1036" y2="1765.9" stroke="#000" stroke-width="1.5" stroke-linecap="butt"/>
<line x1="1019" y1="1721.1" x2="1036" y2="1721.1" stroke="#000" stroke-width="1.5" stroke-linecap="butt"/>
<circle cx="1026.6" cy="1701.2" r="6.9" fill="#000" stroke="none" stroke-width="0"/>
<circle cx="1026.6" cy="1755.5" r="6.9" fill="#000" stroke="none" stroke-width="0"/>
<circle cx="1026.6" cy="1769.2" r="6.9" fill="#000" stroke="none" stroke-width="0"/>
<line x1="1064.95" y1="1871.6" x2="1064.95" y2="1842" stroke="#d92a23" stroke-width="1.5" stroke-linecap="butt"/>
<line x1="1056.45" y1="1871.6" x2="1073.45" y2="1871.6" stroke="#d92a23" stroke-width="1.5" stroke-linecap="butt"/>
<line x1="1056.45" y1="1842" x2="1073.45" y2="1842" stroke="#d92a23" stroke-width="1.5" stroke-linecap="butt"/>
<rect x="1059" y="1833.2" width="10.8" height="10.8" fill="none" stroke="#d92a23" stroke-width="1.8"/>
<rect x="1059" y="1848" width="10.8" height="10.8" fill="none" stroke="#d92a23" stroke-width="1.8"/>
<rect x="1059" y="1870.3" width="10.8" height="10.8" fill="none" stroke="#d92a23" stroke-width="1.8"/>
<line x1="1103.1" y1="1875" x2="1103.1" y2="1857" stroke="#d92a23" stroke-width="1.5" stroke-linecap="butt"/>
<line x1="1094.6" y1="1875" x2="1111.6" y2="1875" stroke="#d92a23" stroke-width="1.5" stroke-linecap="butt"/>
<line x1="1094.6" y1="1857" x2="1111.6" y2="1857" stroke="#d92a23" stroke-width="1.5" stroke-linecap="butt"/>
<rect x="1097.2" y="1846.6" width="13.6" height="13.6" fill="#d92a23" stroke="none" stroke-width="0"/>
<rect x="1097.2" y="1855.2" width="13.6" height="13.6" fill="#d92a23" stroke="none" stroke-width="0"/>
<rect x="1097.2" y="1863.8" width="13.6" height="13.6" fill="#d92a23" stroke="none" stroke-width="0"/>
<line x1="1172.1" y1="1834.4" x2="1172.1" y2="1771" stroke="#000" stroke-width="1.5" stroke-linecap="butt"/>
<line x1="1163.6" y1="1834.4" x2="1180.6" y2="1834.4" stroke="#000" stroke-width="1.5" stroke-linecap="butt"/>
<line x1="1163.6" y1="1771" x2="1180.6" y2="1771" stroke="#000" stroke-width="1.5" stroke-linecap="butt"/>
<circle cx="1172" cy="1741.9" r="5.6" fill="#fff" stroke="#000" stroke-width="1.5"/>
<circle cx="1172" cy="1822.6" r="5.6" fill="#fff" stroke="#000" stroke-width="1.5"/>
<circle cx="1172" cy="1836.4" r="5.6" fill="#fff" stroke="#000" stroke-width="1.5"/>
<line x1="1209.9" y1="1582.8" x2="1209.9" y2="1512.3" stroke="#000" stroke-width="1.5" stroke-linecap="butt"/>
<line x1="1201.4" y1="1582.8" x2="1218.4" y2="1582.8" stroke="#000" stroke-width="1.5" stroke-linecap="butt"/>
<line x1="1201.4" y1="1512.3" x2="1218.4" y2="1512.3" stroke="#000" stroke-width="1.5" stroke-linecap="butt"/>
<circle cx="1209.7" cy="1484.2" r="6.9" fill="#000" stroke="none" stroke-width="0"/>
<circle cx="1209.7" cy="1551.9" r="6.9" fill="#000" stroke="none" stroke-width="0"/>
<circle cx="1209.7" cy="1606.2" r="6.9" fill="#000" stroke="none" stroke-width="0"/>
<line x1="1247.7" y1="1888" x2="1247.7" y2="1753.9" stroke="#d92a23" stroke-width="1.5" stroke-linecap="butt"/>
<line x1="1239.2" y1="1888" x2="1256.2" y2="1888" stroke="#d92a23" stroke-width="1.5" stroke-linecap="butt"/>
<line x1="1239.2" y1="1753.9" x2="1256.2" y2="1753.9" stroke="#d92a23" stroke-width="1.5" stroke-linecap="butt"/>
<rect x="1242.1" y="1682.2" width="10.8" height="10.8" fill="none" stroke="#d92a23" stroke-width="1.8"/>
<rect x="1242.1" y="1872.9" width="10.8" height="10.8" fill="none" stroke="#d92a23" stroke-width="1.8"/>
<rect x="1242.1" y="1884.3" width="10.8" height="10.8" fill="none" stroke="#d92a23" stroke-width="1.8"/>
<line x1="1285.5" y1="1649.8" x2="1285.5" y2="1563.2" stroke="#d92a23" stroke-width="1.5" stroke-linecap="butt"/>
<line x1="1277" y1="1649.8" x2="1294" y2="1649.8" stroke="#d92a23" stroke-width="1.5" stroke-linecap="butt"/>
<line x1="1277" y1="1563.2" x2="1294" y2="1563.2" stroke="#d92a23" stroke-width="1.5" stroke-linecap="butt"/>
<rect x="1278.5" y="1518.6" width="13.6" height="13.6" fill="#d92a23" stroke="none" stroke-width="0"/>
<rect x="1278.5" y="1614.2" width="13.6" height="13.6" fill="#d92a23" stroke="none" stroke-width="0"/>
<rect x="1278.5" y="1667.4" width="13.6" height="13.6" fill="#d92a23" stroke="none" stroke-width="0"/>
<line x1="774.8" y1="1359.7" x2="774.8" y2="1905.5" stroke="#000" stroke-width="3.5" stroke-linecap="butt"/>
<line x1="764.55" y1="1903.8" x2="774.8" y2="1903.8" stroke="#000" stroke-width="3.5" stroke-linecap="butt"/>
<text x="748.05" y="1911.82" font-family="'Liberation Sans', Arial, sans-serif" font-size="23.3" fill="#000">0</text>
<line x1="764.55" y1="1768.2" x2="774.8" y2="1768.2" stroke="#000" stroke-width="3.5" stroke-linecap="butt"/>
<text x="735.09" y="1776.22" font-family="'Liberation Sans', Arial, sans-serif" font-size="23.3" fill="#000">10</text>
<line x1="764.55" y1="1632.6" x2="774.8" y2="1632.6" stroke="#000" stroke-width="3.5" stroke-linecap="butt"/>
<text x="735.09" y="1640.62" font-family="'Liberation Sans', Arial, sans-serif" font-size="23.3" fill="#000">20</text>
<line x1="764.55" y1="1497" x2="774.8" y2="1497" stroke="#000" stroke-width="3.5" stroke-linecap="butt"/>
<text x="735.09" y="1505.02" font-family="'Liberation Sans', Arial, sans-serif" font-size="23.3" fill="#000">30</text>
<line x1="764.55" y1="1361.4" x2="774.8" y2="1361.4" stroke="#000" stroke-width="3.5" stroke-linecap="butt"/>
<text x="735.09" y="1369.42" font-family="'Liberation Sans', Arial, sans-serif" font-size="23.3" fill="#000">40</text>
<line x1="766" y1="1903.8" x2="1320" y2="1903.8" stroke="#000" stroke-width="3.5" stroke-linecap="butt"/>
<text x="816.4" y="1945.18" font-family="'Liberation Sans', Arial, sans-serif" font-size="32.82" fill="#000" textLength="111.93" lengthAdjust="spacingAndGlyphs">dmVMH</text>
<text x="1014.72" y="1945.2" font-family="'Liberation Sans', Arial, sans-serif" font-size="31.1" fill="#000" textLength="82.25" lengthAdjust="spacingAndGlyphs">cVMH</text>
<text x="1192.1" y="1945.5" font-family="'Liberation Sans', Arial, sans-serif" font-size="33.26" fill="#000" textLength="89.89" lengthAdjust="spacingAndGlyphs">vlVMH</text>
<polyline points="800,1639.7 800,1402.7 838.4,1402.7 838.4,1410.2" fill="none" stroke="#000" stroke-width="1.6" stroke-linejoin="miter"/>
<text x="800.92" y="1403.98" font-family="'DejaVu Sans', sans-serif" font-size="21.54" font-weight="bold" fill="#000">*</text>
<text x="815.42" y="1403.98" font-family="'DejaVu Sans', sans-serif" font-size="21.54" font-weight="bold" fill="#000">*</text>
<text x="829.92" y="1403.98" font-family="'DejaVu Sans', sans-serif" font-size="21.54" font-weight="bold" fill="#000">*</text>
<text x="844.42" y="1403.98" font-family="'DejaVu Sans', sans-serif" font-size="21.54" font-weight="bold" fill="#000">*</text>
<polyline points="841.8,1377.6 841.8,1368.3 920.2,1368.3 920.2,1688.5" fill="none" stroke="#000" stroke-width="1.6" stroke-linejoin="miter"/>
<text x="861.82" y="1365.98" font-family="'DejaVu Sans', sans-serif" font-size="21.54" font-weight="bold" fill="#000">*</text>
<text x="876.32" y="1365.98" font-family="'DejaVu Sans', sans-serif" font-size="21.54" font-weight="bold" fill="#000">*</text>
<text x="890.82" y="1365.98" font-family="'DejaVu Sans', sans-serif" font-size="21.54" font-weight="bold" fill="#000">*</text>
<text x="905.32" y="1365.98" font-family="'DejaVu Sans', sans-serif" font-size="21.54" font-weight="bold" fill="#000">*</text>
<polyline points="881.3,1781.2 881.3,1747.9 918.4,1747.9 918.4,1753.8" fill="none" stroke="#000" stroke-width="1.6" stroke-linejoin="miter"/>
<text x="881.64" y="1743.22" font-family="'Liberation Sans', Arial, sans-serif" font-size="28.29" fill="#000" textLength="42.68" lengthAdjust="spacingAndGlyphs">n.s.</text>
<polyline points="1172,1633.6 1172,1372.5 1209.7,1372.5 1209.7,1378.7" fill="none" stroke="#000" stroke-width="1.6" stroke-linejoin="miter"/>
<text x="1167.92" y="1370.98" font-family="'DejaVu Sans', sans-serif" font-size="21.54" font-weight="bold" fill="#000">*</text>
<text x="1182.42" y="1370.98" font-family="'DejaVu Sans', sans-serif" font-size="21.54" font-weight="bold" fill="#000">*</text>
<text x="1196.92" y="1370.98" font-family="'DejaVu Sans', sans-serif" font-size="21.54" font-weight="bold" fill="#000">*</text>
<text x="1211.42" y="1370.98" font-family="'DejaVu Sans', sans-serif" font-size="21.54" font-weight="bold" fill="#000">*</text>
<polyline points="1247.5,1633.6 1247.5,1415.4 1287.4,1415.4 1287.4,1421.6" fill="none" stroke="#000" stroke-width="1.6" stroke-linejoin="miter"/>
<text x="1246.92" y="1413.98" font-family="'DejaVu Sans', sans-serif" font-size="21.54" font-weight="bold" fill="#000">*</text>
<text x="1261.42" y="1413.98" font-family="'DejaVu Sans', sans-serif" font-size="21.54" font-weight="bold" fill="#000">*</text>
<text x="1275.92" y="1413.98" font-family="'DejaVu Sans', sans-serif" font-size="21.54" font-weight="bold" fill="#000">*</text>
<text x="1290.42" y="1413.98" font-family="'DejaVu Sans', sans-serif" font-size="21.54" font-weight="bold" fill="#000">*</text>
<text transform="translate(723 1834.84) rotate(-90)" x="0" y="0" font-family="'Liberation Sans', Arial, sans-serif" font-size="24.57" fill="#000" textLength="338.34" lengthAdjust="spacingAndGlyphs">cFos positive cells/section</text>
<circle cx="952.7" cy="1436" r="6.5" fill="#fff" stroke="#000" stroke-width="1.8"/>
<text x="981.53" y="1442.83" font-family="'Liberation Sans', Arial, sans-serif" font-size="27.68" fill="#000" textLength="47.69" lengthAdjust="spacingAndGlyphs">GFP</text>
<text x="1028.78" y="1432.54" font-family="'Liberation Sans', Arial, sans-serif" font-size="15.95" fill="#000" textLength="20.16" lengthAdjust="spacingAndGlyphs">sf1</text>
<text x="1048.3" y="1442.82" font-family="'Liberation Sans', Arial, sans-serif" font-size="28.32" fill="#000" textLength="43.84" lengthAdjust="spacingAndGlyphs">-Sal</text>
<circle cx="953.3" cy="1476.8" r="7.35" fill="#000" stroke="none" stroke-width="0"/>
<text x="980.95" y="1484.44" font-family="'Liberation Sans', Arial, sans-serif" font-size="26.84" fill="#000" textLength="47.06" lengthAdjust="spacingAndGlyphs">GFP</text>
<text x="1027.58" y="1474.54" font-family="'Liberation Sans', Arial, sans-serif" font-size="15.95" fill="#000" textLength="20.16" lengthAdjust="spacingAndGlyphs">sf1</text>
<text x="1047.04" y="1484.74" font-family="'Liberation Sans', Arial, sans-serif" font-size="26.28" fill="#000">-Glc</text>
<rect x="947" y="1512.3" width="13" height="13" fill="none" stroke="#d92a23" stroke-width="1.8"/>
<text x="981.68" y="1525.54" font-family="'Liberation Sans', Arial, sans-serif" font-size="26.84" fill="#000" textLength="104.48" lengthAdjust="spacingAndGlyphs">cPLA2KD</text>
<text x="1086.38" y="1515.84" font-family="'Liberation Sans', Arial, sans-serif" font-size="15.95" fill="#000" textLength="20.16" lengthAdjust="spacingAndGlyphs">sf1</text>
<text x="1105.89" y="1525.53" font-family="'Liberation Sans', Arial, sans-serif" font-size="27.64" fill="#000" textLength="44.48" lengthAdjust="spacingAndGlyphs">-Sal</text>
<rect x="946" y="1550.6" width="14.1" height="14.1" fill="#d92a23" stroke="none" stroke-width="0"/>
<text x="981.08" y="1567.73" font-family="'Liberation Sans', Arial, sans-serif" font-size="27.68" fill="#000" textLength="103.86" lengthAdjust="spacingAndGlyphs">cPLA2KD</text>
<text x="1084.57" y="1557.45" font-family="'Liberation Sans', Arial, sans-serif" font-size="15.82" fill="#000" textLength="20.8" lengthAdjust="spacingAndGlyphs">sf1</text>
<text x="1104.66" y="1568.04" font-family="'Liberation Sans', Arial, sans-serif" font-size="27.1" fill="#000" textLength="47.12" lengthAdjust="spacingAndGlyphs">-Glc</text>
<text x="1405.68" y="1326.58" font-family="'Liberation Sans', Arial, sans-serif" font-size="39.14" font-weight="bold" fill="#000" textLength="27.08" lengthAdjust="spacingAndGlyphs">q</text>
<rect x="1538.3" y="1738.5" width="42.8" height="165.8" fill="#fff" stroke="#000" stroke-width="3.4"/>
<rect x="1595" y="1608.2" width="43.3" height="296.1" fill="#6d6560" stroke="#000" stroke-width="3.4"/>
<rect x="1651.8" y="1789.5" width="43.4" height="114.8" fill="#fff" stroke="#d92a23" stroke-width="2.8"/>
<rect x="1708.2" y="1628" width="43.8" height="276.3" fill="#f0a07b" stroke="#d92a23" stroke-width="2.8"/>
<line x1="1559.7" y1="1769.1" x2="1559.7" y2="1703.8" stroke="#000" stroke-width="1.5" stroke-linecap="butt"/>
<line x1="1547.2" y1="1769.1" x2="1572.2" y2="1769.1" stroke="#000" stroke-width="1.5" stroke-linecap="butt"/>
<line x1="1547.2" y1="1703.8" x2="1572.2" y2="1703.8" stroke="#000" stroke-width="1.5" stroke-linecap="butt"/>
<circle cx="1559.8" cy="1679.3" r="6.7" fill="#fff" stroke="#000" stroke-width="1.5"/>
<circle cx="1559.8" cy="1738.8" r="6.7" fill="#fff" stroke="#000" stroke-width="1.5"/>
<circle cx="1559.8" cy="1792.1" r="6.7" fill="#fff" stroke="#000" stroke-width="1.5"/>
<line x1="1616.65" y1="1626.1" x2="1616.65" y2="1586.1" stroke="#000" stroke-width="1.5" stroke-linecap="butt"/>
<line x1="1604.15" y1="1626.1" x2="1629.15" y2="1626.1" stroke="#000" stroke-width="1.5" stroke-linecap="butt"/>
<line x1="1604.15" y1="1586.1" x2="1629.15" y2="1586.1" stroke="#000" stroke-width="1.5" stroke-linecap="butt"/>
<circle cx="1616.6" cy="1565.9" r="8" fill="#000" stroke="none" stroke-width="0"/>
<circle cx="1599.6" cy="1626.1" r="8" fill="#000" stroke="none" stroke-width="0"/>
<circle cx="1633.6" cy="1626.1" r="8" fill="#000" stroke="none" stroke-width="0"/>
<line x1="1673.5" y1="1805" x2="1673.5" y2="1769.5" stroke="#d92a23" stroke-width="1.5" stroke-linecap="butt"/>
<line x1="1661" y1="1805" x2="1686" y2="1805" stroke="#d92a23" stroke-width="1.5" stroke-linecap="butt"/>
<line x1="1661" y1="1769.5" x2="1686" y2="1769.5" stroke="#d92a23" stroke-width="1.5" stroke-linecap="butt"/>
<rect x="1666.9" y="1745.5" width="13" height="13" fill="none" stroke="#d92a23" stroke-width="1.8"/>
<rect x="1649.9" y="1805.8" width="13" height="13" fill="none" stroke="#d92a23" stroke-width="1.8"/>
<rect x="1684.2" y="1792.4" width="13" height="13" fill="none" stroke="#d92a23" stroke-width="1.8"/>
<line x1="1730.1" y1="1662.3" x2="1730.1" y2="1589.1" stroke="#d92a23" stroke-width="1.5" stroke-linecap="butt"/>
<line x1="1717.6" y1="1662.3" x2="1742.6" y2="1662.3" stroke="#d92a23" stroke-width="1.5" stroke-linecap="butt"/>
<line x1="1717.6" y1="1589.1" x2="1742.6" y2="1589.1" stroke="#d92a23" stroke-width="1.5" stroke-linecap="butt"/>
<rect x="1722.1" y="1545" width="15.8" height="15.8" fill="#d92a23" stroke="none" stroke-width="0"/>
<rect x="1705.5" y="1658" width="15.8" height="15.8" fill="#d92a23" stroke="none" stroke-width="0"/>
<rect x="1739.1" y="1651.4" width="15.8" height="15.8" fill="#d92a23" stroke="none" stroke-width="0"/>
<line x1="1512.3" y1="1504.7" x2="1512.3" y2="1906" stroke="#000" stroke-width="3.5" stroke-linecap="butt"/>
<line x1="1502.05" y1="1904.3" x2="1512.3" y2="1904.3" stroke="#000" stroke-width="3.5" stroke-linecap="butt"/>
<text x="1484.75" y="1912.32" font-family="'Liberation Sans', Arial, sans-serif" font-size="23.3" fill="#000">0</text>
<line x1="1502.05" y1="1771.67" x2="1512.3" y2="1771.67" stroke="#000" stroke-width="3.5" stroke-linecap="butt"/>
<text x="1471.79" y="1779.69" font-family="'Liberation Sans', Arial, sans-serif" font-size="23.3" fill="#000">20</text>
<line x1="1502.05" y1="1639.03" x2="1512.3" y2="1639.03" stroke="#000" stroke-width="3.5" stroke-linecap="butt"/>
<text x="1471.79" y="1647.05" font-family="'Liberation Sans', Arial, sans-serif" font-size="23.3" fill="#000">40</text>
<line x1="1502.05" y1="1506.4" x2="1512.3" y2="1506.4" stroke="#000" stroke-width="3.5" stroke-linecap="butt"/>
<text x="1471.79" y="1514.42" font-family="'Liberation Sans', Arial, sans-serif" font-size="23.3" fill="#000">60</text>
<line x1="1504" y1="1904.3" x2="1781.9" y2="1904.3" stroke="#000" stroke-width="3.5" stroke-linecap="butt"/>
<text x="1625.55" y="1945.18" font-family="'Liberation Sans', Arial, sans-serif" font-size="32.49" fill="#000" textLength="53.62" lengthAdjust="spacingAndGlyphs">ARC</text>
<polyline points="1559.8,1562.3 1559.8,1522.1 1621.6,1522.1 1621.6,1533.4" fill="none" stroke="#000" stroke-width="1.8" stroke-linejoin="miter"/>
<text x="1586.97" y="1518.7" font-family="'DejaVu Sans', sans-serif" font-size="23.04" font-weight="bold" fill="#000">*</text>
<polyline points="1680.5,1592.1 1680.5,1515.5 1733,1515.5 1733,1531.1" fill="none" stroke="#000" stroke-width="1.8" stroke-linejoin="miter"/>
<text x="1700.97" y="1514.2" font-family="'DejaVu Sans', sans-serif" font-size="23.04" font-weight="bold" fill="#000">*</text>
<text transform="translate(1447.51 1861.57) rotate(-90)" x="0" y="0" font-family="'Liberation Sans', Arial, sans-serif" font-size="22.1" fill="#000" textLength="346.82" lengthAdjust="spacingAndGlyphs">cFos positive cells/section</text>
</svg></body></html>
